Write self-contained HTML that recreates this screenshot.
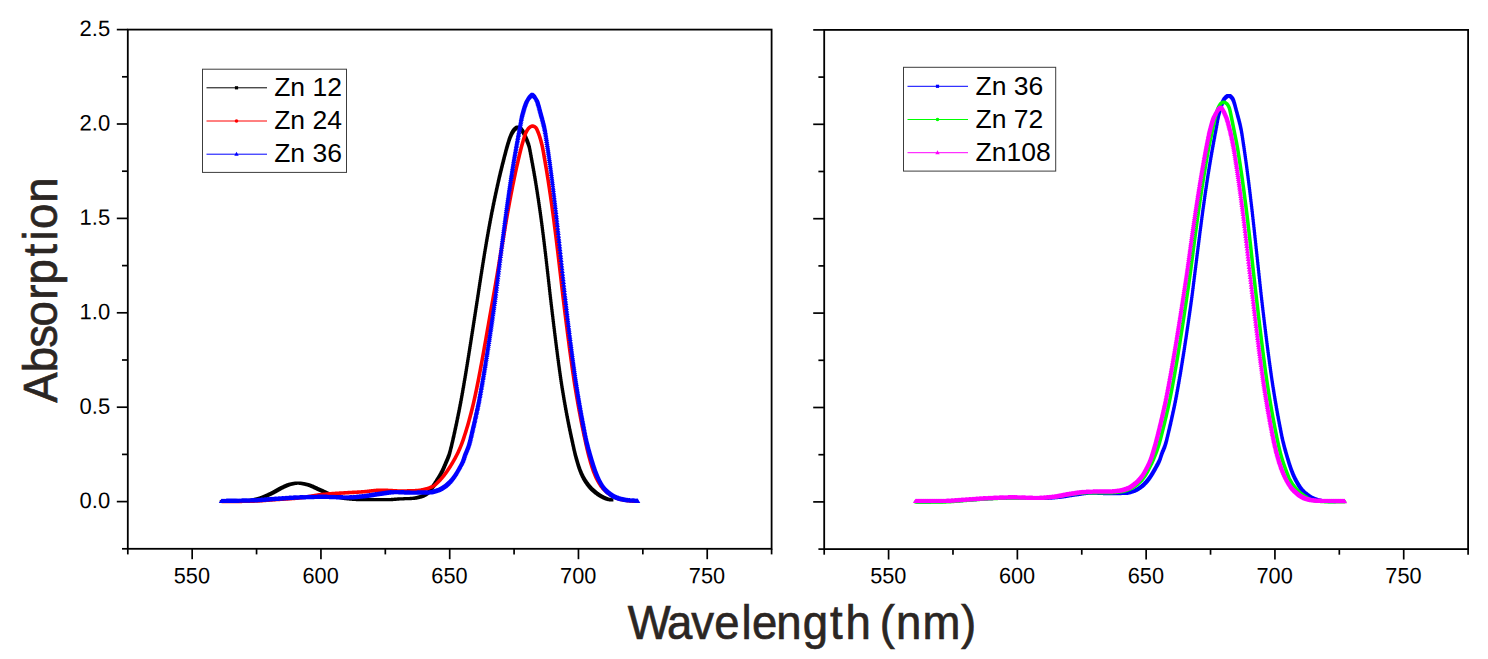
<!DOCTYPE html>
<html>
<head>
<meta charset="utf-8">
<title>Absorption spectra</title>
<style>
html,body{margin:0;padding:0;background:#fff;}
body{width:1488px;height:659px;overflow:hidden;font-family:"Liberation Sans",sans-serif;}
svg{display:block;}
svg text{font-family:"Liberation Sans",sans-serif;}
</style>
</head>
<body>
<svg width="1488" height="659" viewBox="0 0 1488 659">
<rect x="0" y="0" width="1488" height="659" fill="#ffffff"/>
<rect x="127.8" y="29.6" width="643.80" height="519.20" fill="none" stroke="#000" stroke-width="1.8"/>
<line x1="122.00" y1="548.80" x2="127.80" y2="548.80" stroke="#000" stroke-width="1.7"/>
<line x1="116.80" y1="501.60" x2="127.80" y2="501.60" stroke="#000" stroke-width="1.7"/>
<text transform="translate(110.20 508.05) rotate(0.03) scale(1 1.01)" font-size="22" text-anchor="end">0.0</text>
<line x1="122.00" y1="454.40" x2="127.80" y2="454.40" stroke="#000" stroke-width="1.7"/>
<line x1="116.80" y1="407.20" x2="127.80" y2="407.20" stroke="#000" stroke-width="1.7"/>
<text transform="translate(110.20 413.65) rotate(0.03) scale(1 1.01)" font-size="22" text-anchor="end">0.5</text>
<line x1="122.00" y1="360.00" x2="127.80" y2="360.00" stroke="#000" stroke-width="1.7"/>
<line x1="116.80" y1="312.80" x2="127.80" y2="312.80" stroke="#000" stroke-width="1.7"/>
<text transform="translate(110.20 319.25) rotate(0.03) scale(1 1.01)" font-size="22" text-anchor="end">1.0</text>
<line x1="122.00" y1="265.60" x2="127.80" y2="265.60" stroke="#000" stroke-width="1.7"/>
<line x1="116.80" y1="218.40" x2="127.80" y2="218.40" stroke="#000" stroke-width="1.7"/>
<text transform="translate(110.20 224.85) rotate(0.03) scale(1 1.01)" font-size="22" text-anchor="end">1.5</text>
<line x1="122.00" y1="171.20" x2="127.80" y2="171.20" stroke="#000" stroke-width="1.7"/>
<line x1="116.80" y1="124.00" x2="127.80" y2="124.00" stroke="#000" stroke-width="1.7"/>
<text transform="translate(110.20 130.45) rotate(0.03) scale(1 1.01)" font-size="22" text-anchor="end">2.0</text>
<line x1="122.00" y1="76.80" x2="127.80" y2="76.80" stroke="#000" stroke-width="1.7"/>
<line x1="116.80" y1="29.60" x2="127.80" y2="29.60" stroke="#000" stroke-width="1.7"/>
<text transform="translate(110.20 36.05) rotate(0.03) scale(1 1.01)" font-size="22" text-anchor="end">2.5</text>
<line x1="127.80" y1="548.80" x2="127.80" y2="554.40" stroke="#000" stroke-width="1.7"/>
<line x1="192.18" y1="548.80" x2="192.18" y2="559.20" stroke="#000" stroke-width="1.7"/>
<text transform="translate(191.88 583.15) rotate(0.03) scale(0.986 1.01)" font-size="22" text-anchor="middle">550</text>
<line x1="256.56" y1="548.80" x2="256.56" y2="554.40" stroke="#000" stroke-width="1.7"/>
<line x1="320.94" y1="548.80" x2="320.94" y2="559.20" stroke="#000" stroke-width="1.7"/>
<text transform="translate(320.64 583.15) rotate(0.03) scale(0.986 1.01)" font-size="22" text-anchor="middle">600</text>
<line x1="385.32" y1="548.80" x2="385.32" y2="554.40" stroke="#000" stroke-width="1.7"/>
<line x1="449.70" y1="548.80" x2="449.70" y2="559.20" stroke="#000" stroke-width="1.7"/>
<text transform="translate(449.40 583.15) rotate(0.03) scale(0.986 1.01)" font-size="22" text-anchor="middle">650</text>
<line x1="514.08" y1="548.80" x2="514.08" y2="554.40" stroke="#000" stroke-width="1.7"/>
<line x1="578.46" y1="548.80" x2="578.46" y2="559.20" stroke="#000" stroke-width="1.7"/>
<text transform="translate(578.16 583.15) rotate(0.03) scale(0.986 1.01)" font-size="22" text-anchor="middle">700</text>
<line x1="642.84" y1="548.80" x2="642.84" y2="554.40" stroke="#000" stroke-width="1.7"/>
<line x1="707.22" y1="548.80" x2="707.22" y2="559.20" stroke="#000" stroke-width="1.7"/>
<text transform="translate(706.92 583.15) rotate(0.03) scale(0.986 1.01)" font-size="22" text-anchor="middle">750</text>
<line x1="771.60" y1="548.80" x2="771.60" y2="554.40" stroke="#000" stroke-width="1.7"/>
<rect x="824.2" y="29.9" width="643.90" height="519.20" fill="none" stroke="#000" stroke-width="1.8"/>
<line x1="818.40" y1="549.10" x2="824.20" y2="549.10" stroke="#000" stroke-width="1.7"/>
<line x1="813.20" y1="501.90" x2="824.20" y2="501.90" stroke="#000" stroke-width="1.7"/>
<line x1="818.40" y1="454.70" x2="824.20" y2="454.70" stroke="#000" stroke-width="1.7"/>
<line x1="813.20" y1="407.50" x2="824.20" y2="407.50" stroke="#000" stroke-width="1.7"/>
<line x1="818.40" y1="360.30" x2="824.20" y2="360.30" stroke="#000" stroke-width="1.7"/>
<line x1="813.20" y1="313.10" x2="824.20" y2="313.10" stroke="#000" stroke-width="1.7"/>
<line x1="818.40" y1="265.90" x2="824.20" y2="265.90" stroke="#000" stroke-width="1.7"/>
<line x1="813.20" y1="218.70" x2="824.20" y2="218.70" stroke="#000" stroke-width="1.7"/>
<line x1="818.40" y1="171.50" x2="824.20" y2="171.50" stroke="#000" stroke-width="1.7"/>
<line x1="813.20" y1="124.30" x2="824.20" y2="124.30" stroke="#000" stroke-width="1.7"/>
<line x1="818.40" y1="77.10" x2="824.20" y2="77.10" stroke="#000" stroke-width="1.7"/>
<line x1="813.20" y1="29.90" x2="824.20" y2="29.90" stroke="#000" stroke-width="1.7"/>
<line x1="824.20" y1="549.10" x2="824.20" y2="554.70" stroke="#000" stroke-width="1.7"/>
<line x1="888.59" y1="549.10" x2="888.59" y2="559.50" stroke="#000" stroke-width="1.7"/>
<text transform="translate(888.29 583.15) rotate(0.03) scale(0.986 1.01)" font-size="22" text-anchor="middle">550</text>
<line x1="952.98" y1="549.10" x2="952.98" y2="554.70" stroke="#000" stroke-width="1.7"/>
<line x1="1017.37" y1="549.10" x2="1017.37" y2="559.50" stroke="#000" stroke-width="1.7"/>
<text transform="translate(1017.07 583.15) rotate(0.03) scale(0.986 1.01)" font-size="22" text-anchor="middle">600</text>
<line x1="1081.76" y1="549.10" x2="1081.76" y2="554.70" stroke="#000" stroke-width="1.7"/>
<line x1="1146.15" y1="549.10" x2="1146.15" y2="559.50" stroke="#000" stroke-width="1.7"/>
<text transform="translate(1145.85 583.15) rotate(0.03) scale(0.986 1.01)" font-size="22" text-anchor="middle">650</text>
<line x1="1210.54" y1="549.10" x2="1210.54" y2="554.70" stroke="#000" stroke-width="1.7"/>
<line x1="1274.93" y1="549.10" x2="1274.93" y2="559.50" stroke="#000" stroke-width="1.7"/>
<text transform="translate(1274.63 583.15) rotate(0.03) scale(0.986 1.01)" font-size="22" text-anchor="middle">700</text>
<line x1="1339.32" y1="549.10" x2="1339.32" y2="554.70" stroke="#000" stroke-width="1.7"/>
<line x1="1403.71" y1="549.10" x2="1403.71" y2="559.50" stroke="#000" stroke-width="1.7"/>
<text transform="translate(1403.41 583.15) rotate(0.03) scale(0.986 1.01)" font-size="22" text-anchor="middle">750</text>
<line x1="1468.10" y1="549.10" x2="1468.10" y2="554.70" stroke="#000" stroke-width="1.7"/>
<path d="M219.80 499.90h3.20v3.20h-3.20zM220.09 499.90h3.20v3.20h-3.20zM220.38 499.90h3.20v3.20h-3.20zM220.67 499.90h3.20v3.20h-3.20zM220.96 499.90h3.20v3.20h-3.20zM221.25 499.90h3.20v3.20h-3.20zM221.54 499.90h3.20v3.20h-3.20zM221.83 499.90h3.20v3.20h-3.20zM222.12 499.89h3.20v3.20h-3.20zM222.41 499.89h3.20v3.20h-3.20zM222.70 499.89h3.20v3.20h-3.20zM222.99 499.89h3.20v3.20h-3.20zM223.28 499.89h3.20v3.20h-3.20zM223.57 499.89h3.20v3.20h-3.20zM223.86 499.88h3.20v3.20h-3.20zM224.15 499.88h3.20v3.20h-3.20zM224.44 499.88h3.20v3.20h-3.20zM224.73 499.88h3.20v3.20h-3.20zM225.02 499.87h3.20v3.20h-3.20zM225.31 499.87h3.20v3.20h-3.20zM225.60 499.87h3.20v3.20h-3.20zM225.89 499.86h3.20v3.20h-3.20zM226.18 499.86h3.20v3.20h-3.20zM226.47 499.86h3.20v3.20h-3.20zM226.76 499.85h3.20v3.20h-3.20zM227.05 499.85h3.20v3.20h-3.20zM227.34 499.85h3.20v3.20h-3.20zM227.63 499.84h3.20v3.20h-3.20zM227.92 499.84h3.20v3.20h-3.20zM228.21 499.83h3.20v3.20h-3.20zM228.50 499.83h3.20v3.20h-3.20zM228.79 499.82h3.20v3.20h-3.20zM229.08 499.82h3.20v3.20h-3.20zM229.37 499.81h3.20v3.20h-3.20zM229.66 499.81h3.20v3.20h-3.20zM229.95 499.80h3.20v3.20h-3.20zM230.24 499.80h3.20v3.20h-3.20zM230.53 499.79h3.20v3.20h-3.20zM230.82 499.79h3.20v3.20h-3.20zM231.11 499.78h3.20v3.20h-3.20zM231.40 499.77h3.20v3.20h-3.20zM231.69 499.77h3.20v3.20h-3.20zM231.98 499.76h3.20v3.20h-3.20zM232.27 499.75h3.20v3.20h-3.20zM232.56 499.75h3.20v3.20h-3.20zM232.85 499.74h3.20v3.20h-3.20zM233.14 499.73h3.20v3.20h-3.20zM233.43 499.73h3.20v3.20h-3.20zM233.72 499.72h3.20v3.20h-3.20zM234.01 499.71h3.20v3.20h-3.20zM234.30 499.71h3.20v3.20h-3.20zM234.59 499.70h3.20v3.20h-3.20zM234.88 499.69h3.20v3.20h-3.20zM235.17 499.68h3.20v3.20h-3.20zM235.46 499.67h3.20v3.20h-3.20zM235.75 499.67h3.20v3.20h-3.20zM236.04 499.66h3.20v3.20h-3.20zM236.33 499.65h3.20v3.20h-3.20zM236.62 499.64h3.20v3.20h-3.20zM236.91 499.63h3.20v3.20h-3.20zM237.20 499.62h3.20v3.20h-3.20zM237.49 499.61h3.20v3.20h-3.20zM237.78 499.60h3.20v3.20h-3.20zM238.07 499.59h3.20v3.20h-3.20zM238.36 499.59h3.20v3.20h-3.20zM238.65 499.58h3.20v3.20h-3.20zM238.94 499.57h3.20v3.20h-3.20zM239.23 499.56h3.20v3.20h-3.20zM239.52 499.55h3.20v3.20h-3.20zM239.81 499.54h3.20v3.20h-3.20zM240.10 499.53h3.20v3.20h-3.20zM240.39 499.52h3.20v3.20h-3.20zM240.68 499.50h3.20v3.20h-3.20zM240.97 499.49h3.20v3.20h-3.20zM241.26 499.48h3.20v3.20h-3.20zM241.55 499.47h3.20v3.20h-3.20zM241.84 499.46h3.20v3.20h-3.20zM242.13 499.45h3.20v3.20h-3.20zM242.42 499.44h3.20v3.20h-3.20zM242.71 499.43h3.20v3.20h-3.20zM243.00 499.42h3.20v3.20h-3.20zM243.29 499.40h3.20v3.20h-3.20zM243.58 499.39h3.20v3.20h-3.20zM243.87 499.38h3.20v3.20h-3.20zM244.16 499.36h3.20v3.20h-3.20zM244.45 499.34h3.20v3.20h-3.20zM244.74 499.32h3.20v3.20h-3.20zM245.03 499.30h3.20v3.20h-3.20zM245.32 499.27h3.20v3.20h-3.20zM245.61 499.24h3.20v3.20h-3.20zM245.90 499.21h3.20v3.20h-3.20zM246.19 499.18h3.20v3.20h-3.20zM246.48 499.15h3.20v3.20h-3.20zM246.77 499.11h3.20v3.20h-3.20zM247.06 499.08h3.20v3.20h-3.20zM247.35 499.04h3.20v3.20h-3.20zM247.64 499.00h3.20v3.20h-3.20zM247.93 498.95h3.20v3.20h-3.20zM248.22 498.91h3.20v3.20h-3.20zM248.51 498.86h3.20v3.20h-3.20zM248.80 498.82h3.20v3.20h-3.20zM249.09 498.77h3.20v3.20h-3.20zM249.38 498.72h3.20v3.20h-3.20zM249.67 498.67h3.20v3.20h-3.20zM249.96 498.61h3.20v3.20h-3.20zM250.25 498.56h3.20v3.20h-3.20zM250.54 498.50h3.20v3.20h-3.20zM250.83 498.45h3.20v3.20h-3.20zM251.12 498.39h3.20v3.20h-3.20zM251.41 498.33h3.20v3.20h-3.20zM251.70 498.27h3.20v3.20h-3.20zM251.99 498.21h3.20v3.20h-3.20zM252.28 498.15h3.20v3.20h-3.20zM252.57 498.08h3.20v3.20h-3.20zM252.86 498.02h3.20v3.20h-3.20zM253.15 497.96h3.20v3.20h-3.20zM253.44 497.89h3.20v3.20h-3.20zM253.73 497.83h3.20v3.20h-3.20zM254.02 497.76h3.20v3.20h-3.20zM254.31 497.69h3.20v3.20h-3.20zM254.60 497.62h3.20v3.20h-3.20zM254.89 497.56h3.20v3.20h-3.20zM255.18 497.49h3.20v3.20h-3.20zM255.47 497.42h3.20v3.20h-3.20zM255.76 497.35h3.20v3.20h-3.20zM256.05 497.28h3.20v3.20h-3.20zM256.34 497.21h3.20v3.20h-3.20zM256.63 497.14h3.20v3.20h-3.20zM256.92 497.07h3.20v3.20h-3.20zM257.21 497.00h3.20v3.20h-3.20zM257.50 496.92h3.20v3.20h-3.20zM257.79 496.84h3.20v3.20h-3.20zM258.08 496.76h3.20v3.20h-3.20zM258.37 496.67h3.20v3.20h-3.20zM258.66 496.58h3.20v3.20h-3.20zM258.95 496.49h3.20v3.20h-3.20zM259.24 496.40h3.20v3.20h-3.20zM259.53 496.30h3.20v3.20h-3.20zM259.82 496.20h3.20v3.20h-3.20zM260.11 496.10h3.20v3.20h-3.20zM260.40 495.99h3.20v3.20h-3.20zM260.69 495.89h3.20v3.20h-3.20zM260.98 495.78h3.20v3.20h-3.20zM261.27 495.67h3.20v3.20h-3.20zM261.56 495.55h3.20v3.20h-3.20zM261.85 495.44h3.20v3.20h-3.20zM262.14 495.32h3.20v3.20h-3.20zM262.43 495.20h3.20v3.20h-3.20zM262.72 495.08h3.20v3.20h-3.20zM263.01 494.96h3.20v3.20h-3.20zM263.30 494.84h3.20v3.20h-3.20zM263.59 494.71h3.20v3.20h-3.20zM263.88 494.58h3.20v3.20h-3.20zM264.17 494.46h3.20v3.20h-3.20zM264.46 494.33h3.20v3.20h-3.20zM264.75 494.20h3.20v3.20h-3.20zM265.04 494.07h3.20v3.20h-3.20zM265.33 493.93h3.20v3.20h-3.20zM265.62 493.80h3.20v3.20h-3.20zM265.91 493.67h3.20v3.20h-3.20zM266.20 493.53h3.20v3.20h-3.20zM266.49 493.40h3.20v3.20h-3.20zM266.78 493.26h3.20v3.20h-3.20zM267.07 493.13h3.20v3.20h-3.20zM267.36 492.99h3.20v3.20h-3.20zM267.65 492.86h3.20v3.20h-3.20zM267.94 492.72h3.20v3.20h-3.20zM268.23 492.59h3.20v3.20h-3.20zM268.52 492.45h3.20v3.20h-3.20zM268.81 492.31h3.20v3.20h-3.20zM269.10 492.18h3.20v3.20h-3.20zM269.39 492.04h3.20v3.20h-3.20zM269.68 491.91h3.20v3.20h-3.20zM269.97 491.77h3.20v3.20h-3.20zM270.26 491.63h3.20v3.20h-3.20zM270.55 491.49h3.20v3.20h-3.20zM270.84 491.35h3.20v3.20h-3.20zM271.13 491.20h3.20v3.20h-3.20zM271.42 491.05h3.20v3.20h-3.20zM271.71 490.89h3.20v3.20h-3.20zM272.00 490.74h3.20v3.20h-3.20zM272.29 490.58h3.20v3.20h-3.20zM272.58 490.42h3.20v3.20h-3.20zM272.87 490.26h3.20v3.20h-3.20zM273.16 490.10h3.20v3.20h-3.20zM273.45 489.93h3.20v3.20h-3.20zM273.74 489.77h3.20v3.20h-3.20zM274.03 489.60h3.20v3.20h-3.20zM274.32 489.44h3.20v3.20h-3.20zM274.61 489.27h3.20v3.20h-3.20zM274.90 489.10h3.20v3.20h-3.20zM275.19 488.93h3.20v3.20h-3.20zM275.48 488.76h3.20v3.20h-3.20zM275.77 488.60h3.20v3.20h-3.20zM276.06 488.43h3.20v3.20h-3.20zM276.35 488.26h3.20v3.20h-3.20zM276.64 488.09h3.20v3.20h-3.20zM276.93 487.93h3.20v3.20h-3.20zM277.22 487.76h3.20v3.20h-3.20zM277.51 487.60h3.20v3.20h-3.20zM277.80 487.44h3.20v3.20h-3.20zM278.09 487.28h3.20v3.20h-3.20zM278.38 487.12h3.20v3.20h-3.20zM278.67 486.96h3.20v3.20h-3.20zM278.96 486.81h3.20v3.20h-3.20zM279.25 486.66h3.20v3.20h-3.20zM279.54 486.51h3.20v3.20h-3.20zM279.83 486.36h3.20v3.20h-3.20zM280.12 486.22h3.20v3.20h-3.20zM280.41 486.08h3.20v3.20h-3.20zM280.70 485.94h3.20v3.20h-3.20zM280.99 485.80h3.20v3.20h-3.20zM281.28 485.67h3.20v3.20h-3.20zM281.57 485.54h3.20v3.20h-3.20zM281.86 485.40h3.20v3.20h-3.20zM282.15 485.27h3.20v3.20h-3.20zM282.44 485.13h3.20v3.20h-3.20zM282.73 485.00h3.20v3.20h-3.20zM283.02 484.86h3.20v3.20h-3.20zM283.31 484.72h3.20v3.20h-3.20zM283.60 484.59h3.20v3.20h-3.20zM283.89 484.46h3.20v3.20h-3.20zM284.18 484.32h3.20v3.20h-3.20zM284.47 484.19h3.20v3.20h-3.20zM284.76 484.07h3.20v3.20h-3.20zM285.05 483.94h3.20v3.20h-3.20zM285.34 483.82h3.20v3.20h-3.20zM285.63 483.70h3.20v3.20h-3.20zM285.92 483.58h3.20v3.20h-3.20zM286.21 483.46h3.20v3.20h-3.20zM286.50 483.35h3.20v3.20h-3.20zM286.79 483.25h3.20v3.20h-3.20zM287.08 483.15h3.20v3.20h-3.20zM287.37 483.05h3.20v3.20h-3.20zM287.66 482.96h3.20v3.20h-3.20zM287.95 482.87h3.20v3.20h-3.20zM288.24 482.79h3.20v3.20h-3.20zM288.53 482.71h3.20v3.20h-3.20zM288.82 482.64h3.20v3.20h-3.20zM289.11 482.58h3.20v3.20h-3.20zM289.40 482.51h3.20v3.20h-3.20zM289.69 482.45h3.20v3.20h-3.20zM289.98 482.39h3.20v3.20h-3.20zM290.27 482.32h3.20v3.20h-3.20zM290.56 482.26h3.20v3.20h-3.20zM290.85 482.20h3.20v3.20h-3.20zM291.14 482.14h3.20v3.20h-3.20zM291.43 482.08h3.20v3.20h-3.20zM291.72 482.02h3.20v3.20h-3.20zM292.01 481.97h3.20v3.20h-3.20zM292.30 481.91h3.20v3.20h-3.20zM292.59 481.86h3.20v3.20h-3.20zM292.88 481.81h3.20v3.20h-3.20zM293.17 481.77h3.20v3.20h-3.20zM293.46 481.72h3.20v3.20h-3.20zM293.75 481.68h3.20v3.20h-3.20zM294.04 481.65h3.20v3.20h-3.20zM294.33 481.61h3.20v3.20h-3.20zM294.62 481.58h3.20v3.20h-3.20zM294.91 481.56h3.20v3.20h-3.20zM295.20 481.54h3.20v3.20h-3.20zM295.49 481.52h3.20v3.20h-3.20zM295.78 481.51h3.20v3.20h-3.20zM296.07 481.50h3.20v3.20h-3.20zM296.36 481.50h3.20v3.20h-3.20zM296.65 481.50h3.20v3.20h-3.20zM296.94 481.51h3.20v3.20h-3.20zM297.23 481.52h3.20v3.20h-3.20zM297.52 481.54h3.20v3.20h-3.20zM297.81 481.56h3.20v3.20h-3.20zM298.10 481.58h3.20v3.20h-3.20zM298.39 481.61h3.20v3.20h-3.20zM298.68 481.64h3.20v3.20h-3.20zM298.97 481.68h3.20v3.20h-3.20zM299.26 481.72h3.20v3.20h-3.20zM299.55 481.76h3.20v3.20h-3.20zM299.84 481.80h3.20v3.20h-3.20zM300.13 481.85h3.20v3.20h-3.20zM300.42 481.90h3.20v3.20h-3.20zM300.71 481.95h3.20v3.20h-3.20zM301.00 482.00h3.20v3.20h-3.20zM301.29 482.05h3.20v3.20h-3.20zM301.58 482.11h3.20v3.20h-3.20zM301.87 482.17h3.20v3.20h-3.20zM302.16 482.23h3.20v3.20h-3.20zM302.45 482.29h3.20v3.20h-3.20zM302.74 482.35h3.20v3.20h-3.20zM303.03 482.42h3.20v3.20h-3.20zM303.32 482.48h3.20v3.20h-3.20zM303.61 482.54h3.20v3.20h-3.20zM303.90 482.61h3.20v3.20h-3.20zM304.19 482.67h3.20v3.20h-3.20zM304.48 482.74h3.20v3.20h-3.20zM304.77 482.80h3.20v3.20h-3.20zM305.06 482.87h3.20v3.20h-3.20zM305.35 482.93h3.20v3.20h-3.20zM305.64 483.00h3.20v3.20h-3.20zM305.93 483.08h3.20v3.20h-3.20zM306.22 483.15h3.20v3.20h-3.20zM306.51 483.24h3.20v3.20h-3.20zM306.80 483.32h3.20v3.20h-3.20zM307.09 483.41h3.20v3.20h-3.20zM307.38 483.51h3.20v3.20h-3.20zM307.67 483.60h3.20v3.20h-3.20zM307.96 483.71h3.20v3.20h-3.20zM308.25 483.81h3.20v3.20h-3.20zM308.54 483.92h3.20v3.20h-3.20zM308.83 484.03h3.20v3.20h-3.20zM309.12 484.14h3.20v3.20h-3.20zM309.41 484.26h3.20v3.20h-3.20zM309.70 484.38h3.20v3.20h-3.20zM309.99 484.50h3.20v3.20h-3.20zM310.28 484.62h3.20v3.20h-3.20zM310.57 484.74h3.20v3.20h-3.20zM310.86 484.87h3.20v3.20h-3.20zM311.15 485.00h3.20v3.20h-3.20zM311.44 485.13h3.20v3.20h-3.20zM311.73 485.26h3.20v3.20h-3.20zM312.02 485.40h3.20v3.20h-3.20zM312.31 485.53h3.20v3.20h-3.20zM312.60 485.67h3.20v3.20h-3.20zM312.89 485.80h3.20v3.20h-3.20zM313.18 485.94h3.20v3.20h-3.20zM313.47 486.07h3.20v3.20h-3.20zM313.76 486.21h3.20v3.20h-3.20zM314.05 486.35h3.20v3.20h-3.20zM314.34 486.49h3.20v3.20h-3.20zM314.63 486.62h3.20v3.20h-3.20zM314.92 486.76h3.20v3.20h-3.20zM315.21 486.90h3.20v3.20h-3.20zM315.50 487.03h3.20v3.20h-3.20zM315.79 487.17h3.20v3.20h-3.20zM316.08 487.30h3.20v3.20h-3.20zM316.37 487.44h3.20v3.20h-3.20zM316.66 487.57h3.20v3.20h-3.20zM316.95 487.70h3.20v3.20h-3.20zM317.24 487.83h3.20v3.20h-3.20zM317.53 487.96h3.20v3.20h-3.20zM317.82 488.08h3.20v3.20h-3.20zM318.11 488.20h3.20v3.20h-3.20zM318.40 488.33h3.20v3.20h-3.20zM318.69 488.45h3.20v3.20h-3.20zM318.98 488.58h3.20v3.20h-3.20zM319.27 488.71h3.20v3.20h-3.20zM319.56 488.84h3.20v3.20h-3.20zM319.85 488.97h3.20v3.20h-3.20zM320.14 489.10h3.20v3.20h-3.20zM320.43 489.24h3.20v3.20h-3.20zM320.72 489.37h3.20v3.20h-3.20zM321.01 489.51h3.20v3.20h-3.20zM321.30 489.64h3.20v3.20h-3.20zM321.59 489.78h3.20v3.20h-3.20zM321.88 489.91h3.20v3.20h-3.20zM322.17 490.05h3.20v3.20h-3.20zM322.46 490.19h3.20v3.20h-3.20zM322.75 490.32h3.20v3.20h-3.20zM323.04 490.46h3.20v3.20h-3.20zM323.33 490.60h3.20v3.20h-3.20zM323.62 490.73h3.20v3.20h-3.20zM323.91 490.87h3.20v3.20h-3.20zM324.20 491.00h3.20v3.20h-3.20zM324.49 491.13h3.20v3.20h-3.20zM324.78 491.27h3.20v3.20h-3.20zM325.07 491.40h3.20v3.20h-3.20zM325.36 491.53h3.20v3.20h-3.20zM325.65 491.65h3.20v3.20h-3.20zM325.94 491.78h3.20v3.20h-3.20zM326.23 491.90h3.20v3.20h-3.20zM326.52 492.03h3.20v3.20h-3.20zM326.81 492.14h3.20v3.20h-3.20zM327.10 492.26h3.20v3.20h-3.20zM327.39 492.38h3.20v3.20h-3.20zM327.68 492.49h3.20v3.20h-3.20zM327.97 492.60h3.20v3.20h-3.20zM328.26 492.71h3.20v3.20h-3.20zM328.55 492.81h3.20v3.20h-3.20zM328.84 492.91h3.20v3.20h-3.20zM329.13 493.01h3.20v3.20h-3.20zM329.42 493.11h3.20v3.20h-3.20zM329.71 493.20h3.20v3.20h-3.20zM330.00 493.29h3.20v3.20h-3.20zM330.29 493.39h3.20v3.20h-3.20zM330.58 493.48h3.20v3.20h-3.20zM330.87 493.57h3.20v3.20h-3.20zM331.16 493.66h3.20v3.20h-3.20zM331.45 493.76h3.20v3.20h-3.20zM331.74 493.85h3.20v3.20h-3.20zM332.03 493.94h3.20v3.20h-3.20zM332.32 494.03h3.20v3.20h-3.20zM332.61 494.12h3.20v3.20h-3.20zM332.90 494.21h3.20v3.20h-3.20zM333.19 494.30h3.20v3.20h-3.20zM333.48 494.39h3.20v3.20h-3.20zM333.77 494.48h3.20v3.20h-3.20zM334.06 494.57h3.20v3.20h-3.20zM334.35 494.66h3.20v3.20h-3.20zM334.64 494.75h3.20v3.20h-3.20zM334.93 494.83h3.20v3.20h-3.20zM335.22 494.92h3.20v3.20h-3.20zM335.51 495.00h3.20v3.20h-3.20zM335.80 495.09h3.20v3.20h-3.20zM336.09 495.17h3.20v3.20h-3.20zM336.38 495.25h3.20v3.20h-3.20zM336.67 495.33h3.20v3.20h-3.20zM336.96 495.41h3.20v3.20h-3.20zM337.25 495.49h3.20v3.20h-3.20zM337.54 495.57h3.20v3.20h-3.20zM337.83 495.65h3.20v3.20h-3.20zM338.12 495.72h3.20v3.20h-3.20zM338.41 495.80h3.20v3.20h-3.20zM338.70 495.87h3.20v3.20h-3.20zM338.99 495.94h3.20v3.20h-3.20zM339.28 496.01h3.20v3.20h-3.20zM339.57 496.08h3.20v3.20h-3.20zM339.86 496.15h3.20v3.20h-3.20zM340.15 496.21h3.20v3.20h-3.20zM340.44 496.28h3.20v3.20h-3.20zM340.73 496.34h3.20v3.20h-3.20zM341.02 496.40h3.20v3.20h-3.20zM341.31 496.46h3.20v3.20h-3.20zM341.60 496.52h3.20v3.20h-3.20zM341.89 496.57h3.20v3.20h-3.20zM342.18 496.63h3.20v3.20h-3.20zM342.47 496.68h3.20v3.20h-3.20zM342.76 496.73h3.20v3.20h-3.20zM343.05 496.78h3.20v3.20h-3.20zM343.34 496.82h3.20v3.20h-3.20zM343.63 496.87h3.20v3.20h-3.20zM343.92 496.91h3.20v3.20h-3.20zM344.21 496.95h3.20v3.20h-3.20zM344.50 496.99h3.20v3.20h-3.20zM344.79 497.02h3.20v3.20h-3.20zM345.08 497.06h3.20v3.20h-3.20zM345.37 497.09h3.20v3.20h-3.20zM345.66 497.12h3.20v3.20h-3.20zM345.95 497.14h3.20v3.20h-3.20zM346.24 497.17h3.20v3.20h-3.20zM346.53 497.20h3.20v3.20h-3.20zM346.82 497.23h3.20v3.20h-3.20zM347.11 497.26h3.20v3.20h-3.20zM347.40 497.29h3.20v3.20h-3.20zM347.69 497.31h3.20v3.20h-3.20zM347.98 497.34h3.20v3.20h-3.20zM348.27 497.37h3.20v3.20h-3.20zM348.56 497.39h3.20v3.20h-3.20zM348.85 497.42h3.20v3.20h-3.20zM349.14 497.45h3.20v3.20h-3.20zM349.43 497.47h3.20v3.20h-3.20zM349.72 497.50h3.20v3.20h-3.20zM350.01 497.52h3.20v3.20h-3.20zM350.30 497.55h3.20v3.20h-3.20zM350.59 497.57h3.20v3.20h-3.20zM350.88 497.60h3.20v3.20h-3.20zM351.17 497.62h3.20v3.20h-3.20zM351.46 497.64h3.20v3.20h-3.20zM351.75 497.67h3.20v3.20h-3.20zM352.04 497.69h3.20v3.20h-3.20zM352.33 497.71h3.20v3.20h-3.20zM352.62 497.73h3.20v3.20h-3.20zM352.91 497.76h3.20v3.20h-3.20zM353.20 497.78h3.20v3.20h-3.20zM353.49 497.80h3.20v3.20h-3.20zM353.78 497.82h3.20v3.20h-3.20zM354.07 497.83h3.20v3.20h-3.20zM354.36 497.85h3.20v3.20h-3.20zM354.65 497.87h3.20v3.20h-3.20zM354.94 497.89h3.20v3.20h-3.20zM355.23 497.91h3.20v3.20h-3.20zM355.52 497.92h3.20v3.20h-3.20zM355.81 497.94h3.20v3.20h-3.20zM356.10 497.95h3.20v3.20h-3.20zM356.39 497.97h3.20v3.20h-3.20zM356.68 497.98h3.20v3.20h-3.20zM356.97 497.99h3.20v3.20h-3.20zM357.26 498.01h3.20v3.20h-3.20zM357.55 498.02h3.20v3.20h-3.20zM357.84 498.03h3.20v3.20h-3.20zM358.13 498.04h3.20v3.20h-3.20zM358.42 498.05h3.20v3.20h-3.20zM358.71 498.06h3.20v3.20h-3.20zM359.00 498.07h3.20v3.20h-3.20zM359.29 498.07h3.20v3.20h-3.20zM359.58 498.08h3.20v3.20h-3.20zM359.87 498.08h3.20v3.20h-3.20zM360.16 498.09h3.20v3.20h-3.20zM360.45 498.09h3.20v3.20h-3.20zM360.74 498.10h3.20v3.20h-3.20zM361.03 498.10h3.20v3.20h-3.20zM361.32 498.10h3.20v3.20h-3.20zM361.61 498.10h3.20v3.20h-3.20zM361.90 498.10h3.20v3.20h-3.20zM362.19 498.10h3.20v3.20h-3.20zM362.48 498.10h3.20v3.20h-3.20zM362.77 498.10h3.20v3.20h-3.20zM363.06 498.10h3.20v3.20h-3.20zM363.35 498.10h3.20v3.20h-3.20zM363.64 498.10h3.20v3.20h-3.20zM363.93 498.10h3.20v3.20h-3.20zM364.22 498.10h3.20v3.20h-3.20zM364.51 498.10h3.20v3.20h-3.20zM364.80 498.10h3.20v3.20h-3.20zM365.09 498.10h3.20v3.20h-3.20zM365.38 498.10h3.20v3.20h-3.20zM365.67 498.10h3.20v3.20h-3.20zM365.96 498.10h3.20v3.20h-3.20zM366.25 498.10h3.20v3.20h-3.20zM366.54 498.10h3.20v3.20h-3.20zM366.83 498.10h3.20v3.20h-3.20zM367.12 498.10h3.20v3.20h-3.20zM367.41 498.10h3.20v3.20h-3.20zM367.70 498.10h3.20v3.20h-3.20zM367.99 498.10h3.20v3.20h-3.20zM368.28 498.10h3.20v3.20h-3.20zM368.57 498.10h3.20v3.20h-3.20zM368.86 498.10h3.20v3.20h-3.20zM369.15 498.10h3.20v3.20h-3.20zM369.44 498.10h3.20v3.20h-3.20zM369.73 498.10h3.20v3.20h-3.20zM370.02 498.10h3.20v3.20h-3.20zM370.31 498.10h3.20v3.20h-3.20zM370.60 498.10h3.20v3.20h-3.20zM370.89 498.10h3.20v3.20h-3.20zM371.18 498.10h3.20v3.20h-3.20zM371.47 498.10h3.20v3.20h-3.20zM371.76 498.10h3.20v3.20h-3.20zM372.05 498.10h3.20v3.20h-3.20zM372.34 498.10h3.20v3.20h-3.20zM372.63 498.10h3.20v3.20h-3.20zM372.92 498.10h3.20v3.20h-3.20zM373.21 498.10h3.20v3.20h-3.20zM373.50 498.10h3.20v3.20h-3.20zM373.79 498.10h3.20v3.20h-3.20zM374.08 498.10h3.20v3.20h-3.20zM374.37 498.10h3.20v3.20h-3.20zM374.66 498.10h3.20v3.20h-3.20zM374.95 498.10h3.20v3.20h-3.20zM375.24 498.10h3.20v3.20h-3.20zM375.53 498.10h3.20v3.20h-3.20zM375.82 498.10h3.20v3.20h-3.20zM376.11 498.10h3.20v3.20h-3.20zM376.40 498.10h3.20v3.20h-3.20zM376.69 498.10h3.20v3.20h-3.20zM376.98 498.10h3.20v3.20h-3.20zM377.27 498.10h3.20v3.20h-3.20zM377.56 498.10h3.20v3.20h-3.20zM377.85 498.10h3.20v3.20h-3.20zM378.14 498.10h3.20v3.20h-3.20zM378.43 498.10h3.20v3.20h-3.20zM378.72 498.10h3.20v3.20h-3.20zM379.01 498.10h3.20v3.20h-3.20zM379.30 498.10h3.20v3.20h-3.20zM379.59 498.10h3.20v3.20h-3.20zM379.88 498.10h3.20v3.20h-3.20zM380.17 498.10h3.20v3.20h-3.20zM380.46 498.10h3.20v3.20h-3.20zM380.75 498.10h3.20v3.20h-3.20zM381.04 498.10h3.20v3.20h-3.20zM381.33 498.10h3.20v3.20h-3.20zM381.62 498.10h3.20v3.20h-3.20zM381.91 498.10h3.20v3.20h-3.20zM382.20 498.10h3.20v3.20h-3.20zM382.49 498.10h3.20v3.20h-3.20zM382.78 498.10h3.20v3.20h-3.20zM383.07 498.10h3.20v3.20h-3.20zM383.36 498.10h3.20v3.20h-3.20zM383.65 498.10h3.20v3.20h-3.20zM383.94 498.10h3.20v3.20h-3.20zM384.23 498.10h3.20v3.20h-3.20zM384.52 498.10h3.20v3.20h-3.20zM384.81 498.10h3.20v3.20h-3.20zM385.10 498.10h3.20v3.20h-3.20zM385.39 498.10h3.20v3.20h-3.20zM385.68 498.10h3.20v3.20h-3.20zM385.97 498.10h3.20v3.20h-3.20zM386.26 498.10h3.20v3.20h-3.20zM386.55 498.09h3.20v3.20h-3.20zM386.84 498.09h3.20v3.20h-3.20zM387.13 498.08h3.20v3.20h-3.20zM387.42 498.07h3.20v3.20h-3.20zM387.71 498.06h3.20v3.20h-3.20zM388.00 498.05h3.20v3.20h-3.20zM388.29 498.04h3.20v3.20h-3.20zM388.58 498.02h3.20v3.20h-3.20zM388.87 498.01h3.20v3.20h-3.20zM389.16 497.99h3.20v3.20h-3.20zM389.45 497.97h3.20v3.20h-3.20zM389.74 497.96h3.20v3.20h-3.20zM390.03 497.94h3.20v3.20h-3.20zM390.32 497.92h3.20v3.20h-3.20zM390.61 497.89h3.20v3.20h-3.20zM390.90 497.87h3.20v3.20h-3.20zM391.19 497.85h3.20v3.20h-3.20zM391.48 497.83h3.20v3.20h-3.20zM391.77 497.80h3.20v3.20h-3.20zM392.06 497.78h3.20v3.20h-3.20zM392.35 497.76h3.20v3.20h-3.20zM392.64 497.73h3.20v3.20h-3.20zM392.93 497.71h3.20v3.20h-3.20zM393.22 497.68h3.20v3.20h-3.20zM393.51 497.66h3.20v3.20h-3.20zM393.80 497.63h3.20v3.20h-3.20zM394.09 497.61h3.20v3.20h-3.20zM394.38 497.58h3.20v3.20h-3.20zM394.67 497.56h3.20v3.20h-3.20zM394.96 497.54h3.20v3.20h-3.20zM395.25 497.51h3.20v3.20h-3.20zM395.54 497.49h3.20v3.20h-3.20zM395.83 497.47h3.20v3.20h-3.20zM396.12 497.44h3.20v3.20h-3.20zM396.41 497.42h3.20v3.20h-3.20zM396.70 497.40h3.20v3.20h-3.20zM396.99 497.38h3.20v3.20h-3.20zM397.28 497.36h3.20v3.20h-3.20zM397.57 497.35h3.20v3.20h-3.20zM397.86 497.33h3.20v3.20h-3.20zM398.15 497.31h3.20v3.20h-3.20zM398.44 497.30h3.20v3.20h-3.20zM398.73 497.28h3.20v3.20h-3.20zM399.02 497.27h3.20v3.20h-3.20zM399.31 497.26h3.20v3.20h-3.20zM399.60 497.25h3.20v3.20h-3.20zM399.89 497.23h3.20v3.20h-3.20zM400.18 497.22h3.20v3.20h-3.20zM400.47 497.21h3.20v3.20h-3.20zM400.76 497.20h3.20v3.20h-3.20zM401.05 497.19h3.20v3.20h-3.20zM401.34 497.18h3.20v3.20h-3.20zM401.63 497.17h3.20v3.20h-3.20zM401.92 497.16h3.20v3.20h-3.20zM402.21 497.16h3.20v3.20h-3.20zM402.50 497.15h3.20v3.20h-3.20zM402.79 497.14h3.20v3.20h-3.20zM403.08 497.13h3.20v3.20h-3.20zM403.37 497.12h3.20v3.20h-3.20zM403.66 497.11h3.20v3.20h-3.20zM403.95 497.10h3.20v3.20h-3.20zM404.24 497.09h3.20v3.20h-3.20zM404.53 497.09h3.20v3.20h-3.20zM404.82 497.08h3.20v3.20h-3.20zM405.11 497.07h3.20v3.20h-3.20zM405.40 497.06h3.20v3.20h-3.20zM405.69 497.05h3.20v3.20h-3.20zM405.98 497.04h3.20v3.20h-3.20zM406.27 497.03h3.20v3.20h-3.20zM406.56 497.02h3.20v3.20h-3.20zM406.85 497.01h3.20v3.20h-3.20zM407.14 497.00h3.20v3.20h-3.20zM407.43 496.99h3.20v3.20h-3.20zM407.72 496.97h3.20v3.20h-3.20zM408.01 496.96h3.20v3.20h-3.20zM408.30 496.95h3.20v3.20h-3.20zM408.59 496.94h3.20v3.20h-3.20zM408.88 496.92h3.20v3.20h-3.20zM409.17 496.91h3.20v3.20h-3.20zM409.46 496.89h3.20v3.20h-3.20zM409.75 496.87h3.20v3.20h-3.20zM410.04 496.86h3.20v3.20h-3.20zM410.33 496.84h3.20v3.20h-3.20zM410.62 496.82h3.20v3.20h-3.20zM410.91 496.80h3.20v3.20h-3.20zM411.20 496.78h3.20v3.20h-3.20zM411.49 496.75h3.20v3.20h-3.20zM411.78 496.72h3.20v3.20h-3.20zM412.07 496.69h3.20v3.20h-3.20zM412.36 496.66h3.20v3.20h-3.20zM412.65 496.62h3.20v3.20h-3.20zM412.94 496.58h3.20v3.20h-3.20zM413.23 496.53h3.20v3.20h-3.20zM413.52 496.49h3.20v3.20h-3.20zM413.81 496.44h3.20v3.20h-3.20zM414.10 496.39h3.20v3.20h-3.20zM414.39 496.33h3.20v3.20h-3.20zM414.68 496.28h3.20v3.20h-3.20zM414.97 496.22h3.20v3.20h-3.20zM415.26 496.16h3.20v3.20h-3.20zM415.55 496.09h3.20v3.20h-3.20zM415.84 496.03h3.20v3.20h-3.20zM416.13 495.96h3.20v3.20h-3.20zM416.42 495.89h3.20v3.20h-3.20zM416.71 495.82h3.20v3.20h-3.20zM417.00 495.74h3.20v3.20h-3.20zM417.29 495.67h3.20v3.20h-3.20zM417.58 495.59h3.20v3.20h-3.20zM417.87 495.51h3.20v3.20h-3.20zM418.16 495.43h3.20v3.20h-3.20zM418.45 495.35h3.20v3.20h-3.20zM418.74 495.26h3.20v3.20h-3.20zM419.03 495.18h3.20v3.20h-3.20zM419.32 495.09h3.20v3.20h-3.20zM419.61 495.00h3.20v3.20h-3.20zM419.90 494.91h3.20v3.20h-3.20zM420.19 494.81h3.20v3.20h-3.20zM420.48 494.70h3.20v3.20h-3.20zM420.77 494.58h3.20v3.20h-3.20zM421.06 494.46h3.20v3.20h-3.20zM421.35 494.33h3.20v3.20h-3.20zM421.64 494.20h3.20v3.20h-3.20zM421.93 494.06h3.20v3.20h-3.20zM422.22 493.92h3.20v3.20h-3.20zM422.51 493.77h3.20v3.20h-3.20zM422.80 493.61h3.20v3.20h-3.20zM423.09 493.45h3.20v3.20h-3.20zM423.38 493.28h3.20v3.20h-3.20zM423.67 493.11h3.20v3.20h-3.20zM423.96 492.93h3.20v3.20h-3.20zM424.25 492.75h3.20v3.20h-3.20zM424.54 492.56h3.20v3.20h-3.20zM424.83 492.36h3.20v3.20h-3.20zM425.12 492.16h3.20v3.20h-3.20zM425.41 491.96h3.20v3.20h-3.20zM425.70 491.75h3.20v3.20h-3.20zM425.99 491.53h3.20v3.20h-3.20zM426.28 491.30h3.20v3.20h-3.20zM426.57 491.04h3.20v3.20h-3.20zM426.86 490.76h3.20v3.20h-3.20zM427.15 490.46h3.20v3.20h-3.20zM427.44 490.14h3.20v3.20h-3.20zM427.73 489.81h3.20v3.20h-3.20zM428.02 489.46h3.20v3.20h-3.20zM428.31 489.11h3.20v3.20h-3.20zM428.60 488.74h3.20v3.20h-3.20zM428.89 488.36h3.20v3.20h-3.20zM429.18 487.97h3.20v3.20h-3.20zM429.47 487.57h3.20v3.20h-3.20zM429.76 487.17h3.20v3.20h-3.20zM430.05 486.77h3.20v3.20h-3.20zM430.34 486.37h3.20v3.20h-3.20zM430.63 485.96h3.20v3.20h-3.20zM430.92 485.56h3.20v3.20h-3.20zM431.21 485.16h3.20v3.20h-3.20zM431.50 484.76h3.20v3.20h-3.20zM431.79 484.36h3.20v3.20h-3.20zM432.08 483.95h3.20v3.20h-3.20zM432.37 483.53h3.20v3.20h-3.20zM432.66 483.10h3.20v3.20h-3.20zM432.95 482.67h3.20v3.20h-3.20zM433.24 482.23h3.20v3.20h-3.20zM433.53 481.79h3.20v3.20h-3.20zM433.82 481.34h3.20v3.20h-3.20zM434.11 480.88h3.20v3.20h-3.20zM434.40 480.42h3.20v3.20h-3.20zM434.69 479.96h3.20v3.20h-3.20zM434.98 479.49h3.20v3.20h-3.20zM435.27 479.03h3.20v3.20h-3.20zM435.56 478.56h3.20v3.20h-3.20zM435.85 478.09h3.20v3.20h-3.20zM436.14 477.62h3.20v3.20h-3.20zM436.43 477.15h3.20v3.20h-3.20zM436.72 476.67h3.20v3.20h-3.20zM437.01 476.19h3.20v3.20h-3.20zM437.30 475.71h3.20v3.20h-3.20zM437.59 475.22h3.20v3.20h-3.20zM437.88 474.72h3.20v3.20h-3.20zM438.17 474.22h3.20v3.20h-3.20zM438.46 473.72h3.20v3.20h-3.20zM438.75 473.20h3.20v3.20h-3.20zM439.04 472.68h3.20v3.20h-3.20zM439.33 472.15h3.20v3.20h-3.20zM439.62 471.61h3.20v3.20h-3.20zM439.91 471.06h3.20v3.20h-3.20zM440.20 470.49h3.20v3.20h-3.20zM440.49 469.92h3.20v3.20h-3.20zM440.78 469.33h3.20v3.20h-3.20zM441.07 468.72h3.20v3.20h-3.20zM441.36 468.09h3.20v3.20h-3.20zM441.65 467.45h3.20v3.20h-3.20zM441.94 466.79h3.20v3.20h-3.20zM442.23 466.12h3.20v3.20h-3.20zM442.52 465.45h3.20v3.20h-3.20zM442.81 464.76h3.20v3.20h-3.20zM443.10 464.08h3.20v3.20h-3.20zM443.39 463.39h3.20v3.20h-3.20zM443.68 462.70h3.20v3.20h-3.20zM443.97 462.01h3.20v3.20h-3.20zM444.26 461.32h3.20v3.20h-3.20zM444.55 460.65h3.20v3.20h-3.20zM444.84 459.99h3.20v3.20h-3.20zM445.13 459.33h3.20v3.20h-3.20zM445.42 458.67h3.20v3.20h-3.20zM445.71 458.00h3.20v3.20h-3.20zM446.00 457.31h3.20v3.20h-3.20zM446.29 456.60h3.20v3.20h-3.20zM446.58 455.87h3.20v3.20h-3.20zM446.87 455.10h3.20v3.20h-3.20zM447.16 454.30h3.20v3.20h-3.20zM447.45 453.45h3.20v3.20h-3.20zM447.74 452.54h3.20v3.20h-3.20zM448.03 451.55h3.20v3.20h-3.20zM448.32 450.51h3.20v3.20h-3.20zM448.61 449.41h3.20v3.20h-3.20zM448.90 448.27h3.20v3.20h-3.20zM449.19 447.10h3.20v3.20h-3.20zM449.48 445.92h3.20v3.20h-3.20zM449.77 444.73h3.20v3.20h-3.20zM450.06 443.55h3.20v3.20h-3.20zM450.35 442.35h3.20v3.20h-3.20zM450.64 441.13h3.20v3.20h-3.20zM450.93 439.89h3.20v3.20h-3.20zM451.22 438.62h3.20v3.20h-3.20zM451.51 437.35h3.20v3.20h-3.20zM451.80 436.05h3.20v3.20h-3.20zM452.09 434.75h3.20v3.20h-3.20zM452.38 433.44h3.20v3.20h-3.20zM452.67 432.11h3.20v3.20h-3.20zM452.96 430.79h3.20v3.20h-3.20zM453.25 429.46h3.20v3.20h-3.20zM453.54 428.12h3.20v3.20h-3.20zM453.83 426.78h3.20v3.20h-3.20zM454.12 425.43h3.20v3.20h-3.20zM454.41 424.07h3.20v3.20h-3.20zM454.70 422.70h3.20v3.20h-3.20zM454.99 421.32h3.20v3.20h-3.20zM455.28 419.93h3.20v3.20h-3.20zM455.57 418.53h3.20v3.20h-3.20zM455.86 417.12h3.20v3.20h-3.20zM456.15 415.70h3.20v3.20h-3.20zM456.44 414.28h3.20v3.20h-3.20zM456.73 412.84h3.20v3.20h-3.20zM457.02 411.40h3.20v3.20h-3.20zM457.31 409.96h3.20v3.20h-3.20zM457.60 408.51h3.20v3.20h-3.20zM457.89 407.05h3.20v3.20h-3.20zM458.18 405.57h3.20v3.20h-3.20zM458.47 404.08h3.20v3.20h-3.20zM458.76 402.57h3.20v3.20h-3.20zM459.05 401.03h3.20v3.20h-3.20zM459.34 399.47h3.20v3.20h-3.20zM459.63 397.88h3.20v3.20h-3.20zM459.92 396.28h3.20v3.20h-3.20zM460.21 394.66h3.20v3.20h-3.20zM460.50 393.03h3.20v3.20h-3.20zM460.79 391.40h3.20v3.20h-3.20zM461.08 389.75h3.20v3.20h-3.20zM461.37 388.09h3.20v3.20h-3.20zM461.66 386.42h3.20v3.20h-3.20zM461.95 384.74h3.20v3.20h-3.20zM462.24 383.05h3.20v3.20h-3.20zM462.53 381.35h3.20v3.20h-3.20zM462.82 379.64h3.20v3.20h-3.20zM463.11 377.92h3.20v3.20h-3.20zM463.40 376.19h3.20v3.20h-3.20zM463.69 374.46h3.20v3.20h-3.20zM463.98 372.71h3.20v3.20h-3.20zM464.27 370.96h3.20v3.20h-3.20zM464.56 369.20h3.20v3.20h-3.20zM464.85 367.44h3.20v3.20h-3.20zM465.14 365.66h3.20v3.20h-3.20zM465.43 363.88h3.20v3.20h-3.20zM465.72 362.09h3.20v3.20h-3.20zM466.01 360.30h3.20v3.20h-3.20zM466.30 358.50h3.20v3.20h-3.20zM466.59 356.69h3.20v3.20h-3.20zM466.88 354.88h3.20v3.20h-3.20zM467.17 353.06h3.20v3.20h-3.20zM467.46 351.24h3.20v3.20h-3.20zM467.75 349.41h3.20v3.20h-3.20zM468.04 347.57h3.20v3.20h-3.20zM468.33 345.74h3.20v3.20h-3.20zM468.62 343.90h3.20v3.20h-3.20zM468.91 342.05h3.20v3.20h-3.20zM469.20 340.20h3.20v3.20h-3.20zM469.49 338.35h3.20v3.20h-3.20zM469.78 336.49h3.20v3.20h-3.20zM470.07 334.64h3.20v3.20h-3.20zM470.36 332.77h3.20v3.20h-3.20zM470.65 330.91h3.20v3.20h-3.20zM470.94 329.05h3.20v3.20h-3.20zM471.23 327.18h3.20v3.20h-3.20zM471.52 325.31h3.20v3.20h-3.20zM471.81 323.44h3.20v3.20h-3.20zM472.10 321.57h3.20v3.20h-3.20zM472.39 319.70h3.20v3.20h-3.20zM472.68 317.82h3.20v3.20h-3.20zM472.97 315.95h3.20v3.20h-3.20zM473.26 314.08h3.20v3.20h-3.20zM473.55 312.21h3.20v3.20h-3.20zM473.84 310.33h3.20v3.20h-3.20zM474.13 308.46h3.20v3.20h-3.20zM474.42 306.59h3.20v3.20h-3.20zM474.71 304.72h3.20v3.20h-3.20zM475.00 302.86h3.20v3.20h-3.20zM475.29 300.99h3.20v3.20h-3.20zM475.58 299.13h3.20v3.20h-3.20zM475.87 297.26h3.20v3.20h-3.20zM476.16 295.37h3.20v3.20h-3.20zM476.45 293.47h3.20v3.20h-3.20zM476.74 291.55h3.20v3.20h-3.20zM477.03 289.62h3.20v3.20h-3.20zM477.32 287.69h3.20v3.20h-3.20zM477.61 285.76h3.20v3.20h-3.20zM477.90 283.84h3.20v3.20h-3.20zM478.19 281.93h3.20v3.20h-3.20zM478.48 280.05h3.20v3.20h-3.20zM478.77 278.18h3.20v3.20h-3.20zM479.06 276.33h3.20v3.20h-3.20zM479.35 274.48h3.20v3.20h-3.20zM479.64 272.64h3.20v3.20h-3.20zM479.93 270.79h3.20v3.20h-3.20zM480.22 268.95h3.20v3.20h-3.20zM480.51 267.12h3.20v3.20h-3.20zM480.80 265.29h3.20v3.20h-3.20zM481.09 263.46h3.20v3.20h-3.20zM481.38 261.64h3.20v3.20h-3.20zM481.67 259.83h3.20v3.20h-3.20zM481.96 258.03h3.20v3.20h-3.20zM482.25 256.23h3.20v3.20h-3.20zM482.54 254.44h3.20v3.20h-3.20zM482.83 252.67h3.20v3.20h-3.20zM483.12 250.90h3.20v3.20h-3.20zM483.41 249.14h3.20v3.20h-3.20zM483.70 247.40h3.20v3.20h-3.20zM483.99 245.66h3.20v3.20h-3.20zM484.28 243.94h3.20v3.20h-3.20zM484.57 242.23h3.20v3.20h-3.20zM484.86 240.54h3.20v3.20h-3.20zM485.15 238.86h3.20v3.20h-3.20zM485.44 237.19h3.20v3.20h-3.20zM485.73 235.53h3.20v3.20h-3.20zM486.02 233.88h3.20v3.20h-3.20zM486.31 232.24h3.20v3.20h-3.20zM486.60 230.61h3.20v3.20h-3.20zM486.89 228.98h3.20v3.20h-3.20zM487.18 227.37h3.20v3.20h-3.20zM487.47 225.77h3.20v3.20h-3.20zM487.76 224.17h3.20v3.20h-3.20zM488.05 222.59h3.20v3.20h-3.20zM488.34 221.02h3.20v3.20h-3.20zM488.63 219.46h3.20v3.20h-3.20zM488.92 217.91h3.20v3.20h-3.20zM489.21 216.38h3.20v3.20h-3.20zM489.50 214.86h3.20v3.20h-3.20zM489.79 213.34h3.20v3.20h-3.20zM490.08 211.85h3.20v3.20h-3.20zM490.37 210.36h3.20v3.20h-3.20zM490.66 208.89h3.20v3.20h-3.20zM490.95 207.43h3.20v3.20h-3.20zM491.24 205.98h3.20v3.20h-3.20zM491.53 204.54h3.20v3.20h-3.20zM491.82 203.11h3.20v3.20h-3.20zM492.11 201.69h3.20v3.20h-3.20zM492.40 200.27h3.20v3.20h-3.20zM492.69 198.87h3.20v3.20h-3.20zM492.98 197.48h3.20v3.20h-3.20zM493.27 196.09h3.20v3.20h-3.20zM493.56 194.71h3.20v3.20h-3.20zM493.85 193.35h3.20v3.20h-3.20zM494.14 191.99h3.20v3.20h-3.20zM494.43 190.63h3.20v3.20h-3.20zM494.72 189.29h3.20v3.20h-3.20zM495.01 187.96h3.20v3.20h-3.20zM495.30 186.63h3.20v3.20h-3.20zM495.59 185.31h3.20v3.20h-3.20zM495.88 184.00h3.20v3.20h-3.20zM496.17 182.70h3.20v3.20h-3.20zM496.46 181.40h3.20v3.20h-3.20zM496.75 180.12h3.20v3.20h-3.20zM497.04 178.84h3.20v3.20h-3.20zM497.33 177.56h3.20v3.20h-3.20zM497.62 176.30h3.20v3.20h-3.20zM497.91 175.04h3.20v3.20h-3.20zM498.20 173.80h3.20v3.20h-3.20zM498.49 172.56h3.20v3.20h-3.20zM498.78 171.34h3.20v3.20h-3.20zM499.07 170.13h3.20v3.20h-3.20zM499.36 168.93h3.20v3.20h-3.20zM499.65 167.74h3.20v3.20h-3.20zM499.94 166.55h3.20v3.20h-3.20zM500.23 165.38h3.20v3.20h-3.20zM500.52 164.21h3.20v3.20h-3.20zM500.81 163.05h3.20v3.20h-3.20zM501.10 161.89h3.20v3.20h-3.20zM501.39 160.74h3.20v3.20h-3.20zM501.68 159.60h3.20v3.20h-3.20zM501.97 158.46h3.20v3.20h-3.20zM502.26 157.32h3.20v3.20h-3.20zM502.55 156.18h3.20v3.20h-3.20zM502.84 155.05h3.20v3.20h-3.20zM503.13 153.92h3.20v3.20h-3.20zM503.42 152.80h3.20v3.20h-3.20zM503.71 151.68h3.20v3.20h-3.20zM504.00 150.58h3.20v3.20h-3.20zM504.29 149.49h3.20v3.20h-3.20zM504.58 148.41h3.20v3.20h-3.20zM504.87 147.36h3.20v3.20h-3.20zM505.16 146.32h3.20v3.20h-3.20zM505.45 145.30h3.20v3.20h-3.20zM505.74 144.31h3.20v3.20h-3.20zM506.03 143.33h3.20v3.20h-3.20zM506.32 142.35h3.20v3.20h-3.20zM506.61 141.39h3.20v3.20h-3.20zM506.90 140.44h3.20v3.20h-3.20zM507.19 139.51h3.20v3.20h-3.20zM507.48 138.61h3.20v3.20h-3.20zM507.77 137.74h3.20v3.20h-3.20zM508.06 136.91h3.20v3.20h-3.20zM508.35 136.12h3.20v3.20h-3.20zM508.64 135.38h3.20v3.20h-3.20zM508.93 134.67h3.20v3.20h-3.20zM509.22 133.97h3.20v3.20h-3.20zM509.51 133.30h3.20v3.20h-3.20zM509.80 132.66h3.20v3.20h-3.20zM510.09 132.05h3.20v3.20h-3.20zM510.38 131.48h3.20v3.20h-3.20zM510.67 130.95h3.20v3.20h-3.20zM510.96 130.46h3.20v3.20h-3.20zM511.25 130.02h3.20v3.20h-3.20zM511.54 129.59h3.20v3.20h-3.20zM511.83 129.18h3.20v3.20h-3.20zM512.12 128.79h3.20v3.20h-3.20zM512.41 128.42h3.20v3.20h-3.20zM512.70 128.07h3.20v3.20h-3.20zM512.99 127.75h3.20v3.20h-3.20zM513.28 127.46h3.20v3.20h-3.20zM513.57 127.19h3.20v3.20h-3.20zM513.86 126.95h3.20v3.20h-3.20zM514.15 126.72h3.20v3.20h-3.20zM514.44 126.49h3.20v3.20h-3.20zM514.73 126.26h3.20v3.20h-3.20zM515.02 126.05h3.20v3.20h-3.20zM515.31 125.87h3.20v3.20h-3.20zM515.60 125.73h3.20v3.20h-3.20zM515.89 125.64h3.20v3.20h-3.20zM516.18 125.60h3.20v3.20h-3.20zM516.47 125.62h3.20v3.20h-3.20zM516.76 125.70h3.20v3.20h-3.20zM517.05 125.81h3.20v3.20h-3.20zM517.34 125.96h3.20v3.20h-3.20zM517.63 126.14h3.20v3.20h-3.20zM517.92 126.34h3.20v3.20h-3.20zM518.21 126.55h3.20v3.20h-3.20zM518.50 126.77h3.20v3.20h-3.20zM518.79 126.99h3.20v3.20h-3.20zM519.08 127.23h3.20v3.20h-3.20zM519.37 127.51h3.20v3.20h-3.20zM519.66 127.82h3.20v3.20h-3.20zM519.95 128.17h3.20v3.20h-3.20zM520.24 128.54h3.20v3.20h-3.20zM520.53 128.94h3.20v3.20h-3.20zM520.82 129.36h3.20v3.20h-3.20zM521.11 129.79h3.20v3.20h-3.20zM521.40 130.24h3.20v3.20h-3.20zM521.69 130.71h3.20v3.20h-3.20zM521.98 131.23h3.20v3.20h-3.20zM522.27 131.78h3.20v3.20h-3.20zM522.56 132.38h3.20v3.20h-3.20zM522.85 133.00h3.20v3.20h-3.20zM523.14 133.65h3.20v3.20h-3.20zM523.43 134.31h3.20v3.20h-3.20zM523.72 134.99h3.20v3.20h-3.20zM524.01 135.66h3.20v3.20h-3.20zM524.30 136.34h3.20v3.20h-3.20zM524.59 137.00h3.20v3.20h-3.20zM524.88 137.66h3.20v3.20h-3.20zM525.17 138.32h3.20v3.20h-3.20zM525.46 139.00h3.20v3.20h-3.20zM525.75 139.71h3.20v3.20h-3.20zM526.04 140.44h3.20v3.20h-3.20zM526.33 141.22h3.20v3.20h-3.20zM526.62 142.04h3.20v3.20h-3.20zM526.91 142.92h3.20v3.20h-3.20zM527.20 143.86h3.20v3.20h-3.20zM527.49 144.90h3.20v3.20h-3.20zM527.78 146.09h3.20v3.20h-3.20zM528.07 147.40h3.20v3.20h-3.20zM528.36 148.82h3.20v3.20h-3.20zM528.65 150.32h3.20v3.20h-3.20zM528.94 151.89h3.20v3.20h-3.20zM529.23 153.49h3.20v3.20h-3.20zM529.52 155.11h3.20v3.20h-3.20zM529.81 156.73h3.20v3.20h-3.20zM530.10 158.32h3.20v3.20h-3.20zM530.39 159.87h3.20v3.20h-3.20zM530.68 161.42h3.20v3.20h-3.20zM530.97 162.98h3.20v3.20h-3.20zM531.26 164.56h3.20v3.20h-3.20zM531.55 166.15h3.20v3.20h-3.20zM531.84 167.76h3.20v3.20h-3.20zM532.13 169.38h3.20v3.20h-3.20zM532.42 171.03h3.20v3.20h-3.20zM532.71 172.70h3.20v3.20h-3.20zM533.00 174.39h3.20v3.20h-3.20zM533.29 176.10h3.20v3.20h-3.20zM533.58 177.84h3.20v3.20h-3.20zM533.87 179.59h3.20v3.20h-3.20zM534.16 181.36h3.20v3.20h-3.20zM534.45 183.14h3.20v3.20h-3.20zM534.74 184.95h3.20v3.20h-3.20zM535.03 186.77h3.20v3.20h-3.20zM535.32 188.60h3.20v3.20h-3.20zM535.61 190.46h3.20v3.20h-3.20zM535.90 192.33h3.20v3.20h-3.20zM536.19 194.22h3.20v3.20h-3.20zM536.48 196.13h3.20v3.20h-3.20zM536.77 198.05h3.20v3.20h-3.20zM537.06 200.00h3.20v3.20h-3.20zM537.35 201.96h3.20v3.20h-3.20zM537.64 203.94h3.20v3.20h-3.20zM537.93 205.95h3.20v3.20h-3.20zM538.22 207.97h3.20v3.20h-3.20zM538.51 210.01h3.20v3.20h-3.20zM538.80 212.09h3.20v3.20h-3.20zM539.09 214.19h3.20v3.20h-3.20zM539.38 216.32h3.20v3.20h-3.20zM539.67 218.48h3.20v3.20h-3.20zM539.96 220.66h3.20v3.20h-3.20zM540.25 222.87h3.20v3.20h-3.20zM540.54 225.10h3.20v3.20h-3.20zM540.83 227.35h3.20v3.20h-3.20zM541.12 229.62h3.20v3.20h-3.20zM541.41 231.91h3.20v3.20h-3.20zM541.70 234.21h3.20v3.20h-3.20zM541.99 236.53h3.20v3.20h-3.20zM542.28 238.86h3.20v3.20h-3.20zM542.57 241.21h3.20v3.20h-3.20zM542.86 243.59h3.20v3.20h-3.20zM543.15 246.00h3.20v3.20h-3.20zM543.44 248.44h3.20v3.20h-3.20zM543.73 250.89h3.20v3.20h-3.20zM544.02 253.37h3.20v3.20h-3.20zM544.31 255.86h3.20v3.20h-3.20zM544.60 258.37h3.20v3.20h-3.20zM544.89 260.89h3.20v3.20h-3.20zM545.18 263.42h3.20v3.20h-3.20zM545.47 265.96h3.20v3.20h-3.20zM545.76 268.50h3.20v3.20h-3.20zM546.05 271.05h3.20v3.20h-3.20zM546.34 273.60h3.20v3.20h-3.20zM546.63 276.14h3.20v3.20h-3.20zM546.92 278.69h3.20v3.20h-3.20zM547.21 281.25h3.20v3.20h-3.20zM547.50 283.86h3.20v3.20h-3.20zM547.79 286.48h3.20v3.20h-3.20zM548.08 289.10h3.20v3.20h-3.20zM548.37 291.71h3.20v3.20h-3.20zM548.66 294.29h3.20v3.20h-3.20zM548.95 296.81h3.20v3.20h-3.20zM549.24 299.28h3.20v3.20h-3.20zM549.53 301.73h3.20v3.20h-3.20zM549.82 304.17h3.20v3.20h-3.20zM550.11 306.61h3.20v3.20h-3.20zM550.40 309.04h3.20v3.20h-3.20zM550.69 311.47h3.20v3.20h-3.20zM550.98 313.89h3.20v3.20h-3.20zM551.27 316.30h3.20v3.20h-3.20zM551.56 318.71h3.20v3.20h-3.20zM551.85 321.11h3.20v3.20h-3.20zM552.14 323.50h3.20v3.20h-3.20zM552.43 325.88h3.20v3.20h-3.20zM552.72 328.25h3.20v3.20h-3.20zM553.01 330.61h3.20v3.20h-3.20zM553.30 332.96h3.20v3.20h-3.20zM553.59 335.30h3.20v3.20h-3.20zM553.88 337.62h3.20v3.20h-3.20zM554.17 339.94h3.20v3.20h-3.20zM554.46 342.24h3.20v3.20h-3.20zM554.75 344.52h3.20v3.20h-3.20zM555.04 346.80h3.20v3.20h-3.20zM555.33 349.05h3.20v3.20h-3.20zM555.62 351.29h3.20v3.20h-3.20zM555.91 353.52h3.20v3.20h-3.20zM556.20 355.73h3.20v3.20h-3.20zM556.49 357.92h3.20v3.20h-3.20zM556.78 360.09h3.20v3.20h-3.20zM557.07 362.24h3.20v3.20h-3.20zM557.36 364.38h3.20v3.20h-3.20zM557.65 366.49h3.20v3.20h-3.20zM557.94 368.59h3.20v3.20h-3.20zM558.23 370.66h3.20v3.20h-3.20zM558.52 372.72h3.20v3.20h-3.20zM558.81 374.75h3.20v3.20h-3.20zM559.10 376.76h3.20v3.20h-3.20zM559.39 378.74h3.20v3.20h-3.20zM559.68 380.68h3.20v3.20h-3.20zM559.97 382.58h3.20v3.20h-3.20zM560.26 384.43h3.20v3.20h-3.20zM560.55 386.25h3.20v3.20h-3.20zM560.84 388.04h3.20v3.20h-3.20zM561.13 389.81h3.20v3.20h-3.20zM561.42 391.56h3.20v3.20h-3.20zM561.71 393.30h3.20v3.20h-3.20zM562.00 395.03h3.20v3.20h-3.20zM562.29 396.75h3.20v3.20h-3.20zM562.58 398.45h3.20v3.20h-3.20zM562.87 400.13h3.20v3.20h-3.20zM563.16 401.80h3.20v3.20h-3.20zM563.45 403.45h3.20v3.20h-3.20zM563.74 405.08h3.20v3.20h-3.20zM564.03 406.69h3.20v3.20h-3.20zM564.32 408.29h3.20v3.20h-3.20zM564.61 409.87h3.20v3.20h-3.20zM564.90 411.43h3.20v3.20h-3.20zM565.19 412.98h3.20v3.20h-3.20zM565.48 414.52h3.20v3.20h-3.20zM565.77 416.04h3.20v3.20h-3.20zM566.06 417.54h3.20v3.20h-3.20zM566.35 419.04h3.20v3.20h-3.20zM566.64 420.51h3.20v3.20h-3.20zM566.93 421.98h3.20v3.20h-3.20zM567.22 423.43h3.20v3.20h-3.20zM567.51 424.86h3.20v3.20h-3.20zM567.80 426.28h3.20v3.20h-3.20zM568.09 427.69h3.20v3.20h-3.20zM568.38 429.08h3.20v3.20h-3.20zM568.67 430.46h3.20v3.20h-3.20zM568.96 431.82h3.20v3.20h-3.20zM569.25 433.18h3.20v3.20h-3.20zM569.54 434.53h3.20v3.20h-3.20zM569.83 435.87h3.20v3.20h-3.20zM570.12 437.20h3.20v3.20h-3.20zM570.41 438.53h3.20v3.20h-3.20zM570.70 439.85h3.20v3.20h-3.20zM570.99 441.19h3.20v3.20h-3.20zM571.28 442.53h3.20v3.20h-3.20zM571.57 443.88h3.20v3.20h-3.20zM571.86 445.22h3.20v3.20h-3.20zM572.15 446.54h3.20v3.20h-3.20zM572.44 447.85h3.20v3.20h-3.20zM572.73 449.13h3.20v3.20h-3.20zM573.02 450.38h3.20v3.20h-3.20zM573.31 451.59h3.20v3.20h-3.20zM573.60 452.76h3.20v3.20h-3.20zM573.89 453.87h3.20v3.20h-3.20zM574.18 454.95h3.20v3.20h-3.20zM574.47 456.01h3.20v3.20h-3.20zM574.76 457.06h3.20v3.20h-3.20zM575.05 458.10h3.20v3.20h-3.20zM575.34 459.12h3.20v3.20h-3.20zM575.63 460.12h3.20v3.20h-3.20zM575.92 461.10h3.20v3.20h-3.20zM576.21 462.06h3.20v3.20h-3.20zM576.50 463.00h3.20v3.20h-3.20zM576.79 463.92h3.20v3.20h-3.20zM577.08 464.82h3.20v3.20h-3.20zM577.37 465.69h3.20v3.20h-3.20zM577.66 466.54h3.20v3.20h-3.20zM577.95 467.36h3.20v3.20h-3.20zM578.24 468.15h3.20v3.20h-3.20zM578.53 468.92h3.20v3.20h-3.20zM578.82 469.66h3.20v3.20h-3.20zM579.11 470.37h3.20v3.20h-3.20zM579.40 471.06h3.20v3.20h-3.20zM579.69 471.73h3.20v3.20h-3.20zM579.98 472.39h3.20v3.20h-3.20zM580.27 473.02h3.20v3.20h-3.20zM580.56 473.64h3.20v3.20h-3.20zM580.85 474.24h3.20v3.20h-3.20zM581.14 474.83h3.20v3.20h-3.20zM581.43 475.39h3.20v3.20h-3.20zM581.72 475.95h3.20v3.20h-3.20zM582.01 476.48h3.20v3.20h-3.20zM582.30 477.00h3.20v3.20h-3.20zM582.59 477.51h3.20v3.20h-3.20zM582.88 478.00h3.20v3.20h-3.20zM583.17 478.47h3.20v3.20h-3.20zM583.46 478.94h3.20v3.20h-3.20zM583.75 479.39h3.20v3.20h-3.20zM584.04 479.84h3.20v3.20h-3.20zM584.33 480.28h3.20v3.20h-3.20zM584.62 480.71h3.20v3.20h-3.20zM584.91 481.13h3.20v3.20h-3.20zM585.20 481.55h3.20v3.20h-3.20zM585.49 481.96h3.20v3.20h-3.20zM585.78 482.35h3.20v3.20h-3.20zM586.07 482.75h3.20v3.20h-3.20zM586.36 483.13h3.20v3.20h-3.20zM586.65 483.51h3.20v3.20h-3.20zM586.94 483.87h3.20v3.20h-3.20zM587.23 484.24h3.20v3.20h-3.20zM587.52 484.59h3.20v3.20h-3.20zM587.81 484.94h3.20v3.20h-3.20zM588.10 485.28h3.20v3.20h-3.20zM588.39 485.61h3.20v3.20h-3.20zM588.68 485.94h3.20v3.20h-3.20zM588.97 486.26h3.20v3.20h-3.20zM589.26 486.57h3.20v3.20h-3.20zM589.55 486.88h3.20v3.20h-3.20zM589.84 487.18h3.20v3.20h-3.20zM590.13 487.48h3.20v3.20h-3.20zM590.42 487.77h3.20v3.20h-3.20zM590.71 488.05h3.20v3.20h-3.20zM591.00 488.32h3.20v3.20h-3.20zM591.29 488.59h3.20v3.20h-3.20zM591.58 488.86h3.20v3.20h-3.20zM591.87 489.11h3.20v3.20h-3.20zM592.16 489.37h3.20v3.20h-3.20zM592.45 489.61h3.20v3.20h-3.20zM592.74 489.86h3.20v3.20h-3.20zM593.03 490.10h3.20v3.20h-3.20zM593.32 490.33h3.20v3.20h-3.20zM593.61 490.56h3.20v3.20h-3.20zM593.90 490.79h3.20v3.20h-3.20zM594.19 491.01h3.20v3.20h-3.20zM594.48 491.23h3.20v3.20h-3.20zM594.77 491.45h3.20v3.20h-3.20zM595.06 491.67h3.20v3.20h-3.20zM595.35 491.89h3.20v3.20h-3.20zM595.64 492.10h3.20v3.20h-3.20zM595.93 492.31h3.20v3.20h-3.20zM596.22 492.52h3.20v3.20h-3.20zM596.51 492.72h3.20v3.20h-3.20zM596.80 492.93h3.20v3.20h-3.20zM597.09 493.13h3.20v3.20h-3.20zM597.38 493.32h3.20v3.20h-3.20zM597.67 493.51h3.20v3.20h-3.20zM597.96 493.70h3.20v3.20h-3.20zM598.25 493.89h3.20v3.20h-3.20zM598.54 494.07h3.20v3.20h-3.20zM598.83 494.24h3.20v3.20h-3.20zM599.12 494.42h3.20v3.20h-3.20zM599.41 494.58h3.20v3.20h-3.20zM599.70 494.75h3.20v3.20h-3.20zM599.99 494.90h3.20v3.20h-3.20zM600.28 495.06h3.20v3.20h-3.20zM600.57 495.21h3.20v3.20h-3.20zM600.86 495.35h3.20v3.20h-3.20zM601.15 495.50h3.20v3.20h-3.20zM601.44 495.64h3.20v3.20h-3.20zM601.73 495.79h3.20v3.20h-3.20zM602.02 495.93h3.20v3.20h-3.20zM602.31 496.07h3.20v3.20h-3.20zM602.60 496.20h3.20v3.20h-3.20zM602.89 496.34h3.20v3.20h-3.20zM603.18 496.47h3.20v3.20h-3.20zM603.47 496.60h3.20v3.20h-3.20zM603.76 496.72h3.20v3.20h-3.20zM604.05 496.84h3.20v3.20h-3.20zM604.34 496.96h3.20v3.20h-3.20zM604.63 497.07h3.20v3.20h-3.20zM604.92 497.18h3.20v3.20h-3.20zM605.21 497.28h3.20v3.20h-3.20zM605.50 497.38h3.20v3.20h-3.20zM605.79 497.47h3.20v3.20h-3.20zM606.08 497.56h3.20v3.20h-3.20zM606.37 497.64h3.20v3.20h-3.20zM606.66 497.72h3.20v3.20h-3.20zM606.95 497.79h3.20v3.20h-3.20zM607.24 497.86h3.20v3.20h-3.20zM607.53 497.93h3.20v3.20h-3.20zM607.82 497.99h3.20v3.20h-3.20zM608.11 498.06h3.20v3.20h-3.20zM608.40 498.11h3.20v3.20h-3.20zM608.69 498.17h3.20v3.20h-3.20zM608.98 498.22h3.20v3.20h-3.20zM609.27 498.27h3.20v3.20h-3.20zM609.56 498.32h3.20v3.20h-3.20zM609.85 498.36h3.20v3.20h-3.20zM610.14 498.39h3.20v3.20h-3.20zM610.21 498.40h3.20v3.20h-3.20z" fill="#000000" stroke="none"/>
<path d="M221.90 501.50L222.40 501.50L222.90 501.50L223.40 501.50L223.90 501.50L224.40 501.50L224.90 501.50L225.40 501.49L225.90 501.49L226.40 501.49L226.90 501.49L227.40 501.49L227.90 501.48L228.40 501.48L228.90 501.48L229.40 501.47L229.90 501.47L230.40 501.47L230.90 501.46L231.40 501.46L231.90 501.45L232.40 501.45L232.90 501.44L233.40 501.44L233.90 501.43L234.40 501.43L234.90 501.42L235.40 501.42L235.90 501.41L236.40 501.40L236.90 501.40L237.40 501.39L237.90 501.39L238.40 501.38L238.90 501.37L239.40 501.36L239.90 501.36L240.40 501.35L240.90 501.34L241.40 501.33L241.90 501.33L242.40 501.32L242.90 501.31L243.40 501.30L243.90 501.29L244.40 501.28L244.90 501.27L245.40 501.27L245.90 501.26L246.40 501.25L246.90 501.24L247.40 501.23L247.90 501.22L248.40 501.21L248.90 501.20L249.40 501.19L249.90 501.18L250.40 501.17L250.90 501.16L251.40 501.15L251.90 501.14L252.40 501.12L252.90 501.11L253.40 501.10L253.90 501.09L254.40 501.08L254.90 501.06L255.40 501.04L255.90 501.02L256.40 501.00L256.90 500.98L257.40 500.96L257.90 500.93L258.40 500.90L258.90 500.87L259.40 500.84L259.90 500.81L260.40 500.78L260.90 500.75L261.40 500.71L261.90 500.68L262.40 500.64L262.90 500.60L263.40 500.57L263.90 500.53L264.40 500.49L264.90 500.45L265.40 500.41L265.90 500.37L266.40 500.33L266.90 500.29L267.40 500.25L267.90 500.21L268.40 500.17L268.90 500.13L269.40 500.09L269.90 500.05L270.40 500.01L270.90 499.97L271.40 499.93L271.90 499.89L272.40 499.85L272.90 499.81L273.40 499.78L273.90 499.74L274.40 499.71L274.90 499.67L275.40 499.64L275.90 499.61L276.40 499.57L276.90 499.54L277.40 499.51L277.90 499.48L278.40 499.44L278.90 499.41L279.40 499.38L279.90 499.35L280.40 499.32L280.90 499.29L281.40 499.26L281.90 499.23L282.40 499.20L282.90 499.16L283.40 499.13L283.90 499.10L284.40 499.07L284.90 499.04L285.40 499.01L285.90 498.98L286.40 498.94L286.90 498.91L287.40 498.88L287.90 498.85L288.40 498.81L288.90 498.78L289.40 498.75L289.90 498.71L290.40 498.68L290.90 498.64L291.40 498.61L291.90 498.57L292.40 498.53L292.90 498.49L293.40 498.46L293.90 498.42L294.40 498.38L294.90 498.34L295.40 498.29L295.90 498.25L296.40 498.21L296.90 498.17L297.40 498.12L297.90 498.08L298.40 498.03L298.90 497.98L299.40 497.93L299.90 497.88L300.40 497.82L300.90 497.76L301.40 497.70L301.90 497.63L302.40 497.57L302.90 497.50L303.40 497.42L303.90 497.35L304.40 497.27L304.90 497.20L305.40 497.12L305.90 497.04L306.40 496.96L306.90 496.87L307.40 496.79L307.90 496.70L308.40 496.62L308.90 496.53L309.40 496.45L309.90 496.36L310.40 496.27L310.90 496.18L311.40 496.09L311.90 496.01L312.40 495.92L312.90 495.83L313.40 495.75L313.90 495.66L314.40 495.58L314.90 495.49L315.40 495.41L315.90 495.33L316.40 495.25L316.90 495.17L317.40 495.09L317.90 495.02L318.40 494.95L318.90 494.88L319.40 494.81L319.90 494.74L320.40 494.68L320.90 494.62L321.40 494.56L321.90 494.50L322.40 494.45L322.90 494.40L323.40 494.35L323.90 494.31L324.40 494.26L324.90 494.22L325.40 494.17L325.90 494.13L326.40 494.09L326.90 494.04L327.40 494.00L327.90 493.96L328.40 493.92L328.90 493.88L329.40 493.85L329.90 493.81L330.40 493.77L330.90 493.73L331.40 493.70L331.90 493.66L332.40 493.63L332.90 493.59L333.40 493.56L333.90 493.52L334.40 493.49L334.90 493.45L335.40 493.42L335.90 493.39L336.40 493.36L336.90 493.33L337.40 493.29L337.90 493.26L338.40 493.23L338.90 493.20L339.40 493.17L339.90 493.14L340.40 493.11L340.90 493.08L341.40 493.05L341.90 493.02L342.40 492.99L342.90 492.96L343.40 492.93L343.90 492.90L344.40 492.86L344.90 492.83L345.40 492.80L345.90 492.77L346.40 492.74L346.90 492.71L347.40 492.68L347.90 492.65L348.40 492.62L348.90 492.59L349.40 492.57L349.90 492.54L350.40 492.51L350.90 492.48L351.40 492.46L351.90 492.43L352.40 492.41L352.90 492.38L353.40 492.35L353.90 492.33L354.40 492.30L354.90 492.28L355.40 492.25L355.90 492.23L356.40 492.20L356.90 492.18L357.40 492.15L357.90 492.12L358.40 492.10L358.90 492.07L359.40 492.04L359.90 492.01L360.40 491.98L360.90 491.95L361.40 491.92L361.90 491.89L362.40 491.85L362.90 491.82L363.40 491.79L363.90 491.75L364.40 491.70L364.90 491.66L365.40 491.61L365.90 491.56L366.40 491.50L366.90 491.45L367.40 491.39L367.90 491.33L368.40 491.27L368.90 491.21L369.40 491.14L369.90 491.08L370.40 491.02L370.90 490.96L371.40 490.90L371.90 490.84L372.40 490.78L372.90 490.72L373.40 490.67L373.90 490.62L374.40 490.57L374.90 490.52L375.40 490.48L375.90 490.44L376.40 490.40L376.90 490.37L377.40 490.35L377.90 490.33L378.40 490.31L378.90 490.30L379.40 490.30L379.90 490.30L380.40 490.30L380.90 490.30L381.40 490.31L381.90 490.31L382.40 490.32L382.90 490.32L383.40 490.33L383.90 490.34L384.40 490.35L384.90 490.35L385.40 490.36L385.90 490.37L386.40 490.38L386.90 490.39L387.40 490.40L387.90 490.41L388.40 490.43L388.90 490.45L389.40 490.47L389.90 490.49L390.40 490.52L390.90 490.55L391.40 490.58L391.90 490.61L392.40 490.64L392.90 490.68L393.40 490.71L393.90 490.74L394.40 490.78L394.90 490.81L395.40 490.84L395.90 490.87L396.40 490.89L396.90 490.92L397.40 490.94L397.90 490.96L398.40 490.98L398.90 490.99L399.40 491.00L399.90 491.00L400.40 491.00L400.90 491.00L401.40 491.00L401.90 490.99L402.40 490.99L402.90 490.99L403.40 490.98L403.90 490.98L404.40 490.97L404.90 490.96L405.40 490.96L405.90 490.95L406.40 490.94L406.90 490.93L407.40 490.92L407.90 490.91L408.40 490.89L408.90 490.88L409.40 490.87L409.90 490.85L410.40 490.84L410.90 490.82L411.40 490.81L411.90 490.79L412.40 490.77L412.90 490.76L413.40 490.74L413.90 490.72L414.40 490.70L414.90 490.68L415.40 490.66L415.90 490.64L416.40 490.61L416.90 490.59L417.40 490.56L417.90 490.52L418.40 490.46L418.90 490.40L419.40 490.33L419.90 490.26L420.40 490.17L420.90 490.09L421.40 489.99L421.90 489.89L422.40 489.79L422.90 489.68L423.40 489.57L423.90 489.45L424.40 489.34L424.90 489.22L425.40 489.10L425.90 488.98L426.40 488.84L426.90 488.70L427.40 488.55L427.90 488.38L428.40 488.21L428.90 488.04L429.40 487.85L429.90 487.65L430.40 487.44L430.90 487.23L431.40 487.00L431.90 486.77L432.40 486.52L432.90 486.27L433.40 486.00L433.90 485.71L434.40 485.38L434.90 485.01L435.40 484.62L435.90 484.19L436.40 483.74L436.90 483.27L437.40 482.78L437.90 482.28L438.40 481.77L438.90 481.25L439.40 480.73L439.90 480.21L440.40 479.68L440.90 479.14L441.40 478.58L441.90 478.00L442.40 477.41L442.90 476.80L443.40 476.17L443.90 475.54L444.40 474.89L444.90 474.23L445.40 473.57L445.90 472.90L446.40 472.22L446.90 471.52L447.40 470.80L447.90 470.07L448.40 469.32L448.90 468.56L449.40 467.79L449.90 467.01L450.40 466.22L450.90 465.42L451.40 464.59L451.90 463.76L452.40 462.91L452.90 462.05L453.40 461.18L453.90 460.31L454.40 459.42L454.90 458.54L455.40 457.64L455.90 456.73L456.40 455.78L456.90 454.80L457.40 453.79L457.90 452.75L458.40 451.69L458.90 450.60L459.40 449.48L459.90 448.33L460.40 447.14L460.90 445.91L461.40 444.64L461.90 443.32L462.40 441.94L462.90 440.53L463.40 439.07L463.90 437.58L464.40 436.05L464.90 434.50L465.40 432.93L465.90 431.34L466.40 429.72L466.90 428.08L467.40 426.39L467.90 424.67L468.40 422.92L468.90 421.13L469.40 419.30L469.90 417.45L470.40 415.57L470.90 413.67L471.40 411.74L471.90 409.77L472.40 407.76L472.90 405.70L473.40 403.59L473.90 401.41L474.40 399.17L474.90 396.87L475.40 394.54L475.90 392.17L476.40 389.76L476.90 387.32L477.40 384.84L477.90 382.33L478.40 379.79L478.90 377.22L479.40 374.62L479.90 372.00L480.40 369.35L480.90 366.67L481.40 363.97L481.90 361.26L482.40 358.52L482.90 355.76L483.40 352.99L483.90 350.21L484.40 347.41L484.90 344.60L485.40 341.78L485.90 338.95L486.40 336.11L486.90 333.27L487.40 330.42L487.90 327.57L488.40 324.71L488.90 321.86L489.40 319.01L489.90 316.16L490.40 313.32L490.90 310.48L491.40 307.65L491.90 304.83L492.40 302.02L492.90 299.22L493.40 296.40L493.90 293.57L494.40 290.72L494.90 287.85L495.40 284.96L495.90 282.06L496.40 279.14L496.90 276.20L497.40 273.24L497.90 270.26L498.40 267.27L498.90 264.27L499.40 261.26L499.90 258.24L500.40 255.23L500.90 252.22L501.40 249.22L501.90 246.22L502.40 243.25L502.90 240.29L503.40 237.33L503.90 234.36L504.40 231.38L504.90 228.41L505.40 225.46L505.90 222.52L506.40 219.60L506.90 216.72L507.40 213.88L507.90 211.09L508.40 208.35L508.90 205.62L509.40 202.92L509.90 200.25L510.40 197.60L510.90 194.97L511.40 192.37L511.90 189.80L512.40 187.26L512.90 184.75L513.40 182.28L513.90 179.83L514.40 177.42L514.90 175.05L515.40 172.72L515.90 170.43L516.40 168.17L516.90 165.95L517.40 163.75L517.90 161.59L518.40 159.44L518.90 157.28L519.40 155.14L519.90 153.03L520.40 150.97L520.90 148.99L521.40 147.09L521.90 145.31L522.40 143.54L522.90 141.78L523.40 140.04L523.90 138.35L524.40 136.75L524.90 135.24L525.40 133.87L525.90 132.66L526.40 131.64L526.90 130.76L527.40 129.96L527.90 129.22L528.40 128.57L528.90 128.01L529.40 127.55L529.90 127.18L530.40 126.83L530.90 126.51L531.40 126.26L531.90 126.09L532.40 126.05L532.90 126.11L533.40 126.23L533.90 126.42L534.40 126.66L534.90 126.94L535.40 127.26L535.90 127.68L536.40 128.42L536.90 129.41L537.40 130.56L537.90 131.76L538.40 132.99L538.90 134.32L539.40 135.77L539.90 137.34L540.40 139.01L540.90 140.79L541.40 142.68L541.90 144.68L542.40 146.81L542.90 149.27L543.40 152.01L543.90 154.90L544.40 157.86L544.90 160.79L545.40 163.67L545.90 166.59L546.40 169.56L546.90 172.58L547.40 175.67L547.90 178.82L548.40 182.03L548.90 185.28L549.40 188.59L549.90 191.94L550.40 195.34L550.90 198.79L551.40 202.28L551.90 205.83L552.40 209.43L552.90 213.08L553.40 216.81L553.90 220.62L554.40 224.48L554.90 228.40L555.40 232.36L555.90 236.36L556.40 240.39L556.90 244.46L557.40 248.59L557.90 252.78L558.40 257.00L558.90 261.26L559.40 265.54L559.90 269.82L560.40 274.11L560.90 278.39L561.40 282.67L561.90 287.02L562.40 291.38L562.90 295.67L563.40 299.84L563.90 303.90L564.40 307.95L564.90 311.98L565.40 315.99L565.90 319.99L566.40 323.95L566.90 327.89L567.40 331.81L567.90 335.69L568.40 339.54L568.90 343.36L569.40 347.14L569.90 350.89L570.40 354.59L570.90 358.25L571.40 361.87L571.90 365.44L572.40 368.96L572.90 372.43L573.40 375.84L573.90 379.20L574.40 382.48L574.90 385.64L575.40 388.71L575.90 391.71L576.40 394.67L576.90 397.60L577.40 400.49L577.90 403.34L578.40 406.14L578.90 408.90L579.40 411.61L579.90 414.28L580.40 416.91L580.90 419.51L581.40 422.06L581.90 424.58L582.40 427.06L582.90 429.50L583.40 431.91L583.90 434.29L584.40 436.64L584.90 438.95L585.40 441.22L585.90 443.49L586.40 445.75L586.90 447.99L587.40 450.17L587.90 452.28L588.40 454.30L588.90 456.21L589.40 458.07L589.90 459.89L590.40 461.67L590.90 463.39L591.40 465.07L591.90 466.68L592.40 468.22L592.90 469.69L593.40 471.08L593.90 472.40L594.40 473.67L594.90 474.88L595.40 476.04L595.90 477.15L596.40 478.20L596.90 479.20L597.40 480.14L597.90 481.04L598.40 481.92L598.90 482.77L599.40 483.59L599.90 484.39L600.40 485.16L600.90 485.89L601.40 486.59L601.90 487.25L602.40 487.88L602.90 488.48L603.40 489.03L603.90 489.56L604.40 490.06L604.90 490.54L605.40 491.00L605.90 491.44L606.40 491.86L606.90 492.26L607.40 492.66L607.90 493.04L608.40 493.41L608.90 493.79L609.40 494.15L609.90 494.51L610.40 494.85L610.90 495.19L611.40 495.51L611.90 495.82L612.40 496.12L612.90 496.40L613.40 496.66L613.90 496.91L614.40 497.14L614.90 497.36L615.40 497.57L615.90 497.78L616.40 497.98L616.90 498.17L617.40 498.36L617.90 498.54L618.40 498.71L618.90 498.88L619.40 499.03L619.90 499.18L620.40 499.31L620.90 499.44L621.40 499.56L621.90 499.66L622.40 499.77L622.90 499.87L623.40 499.97L623.90 500.06L624.40 500.15L624.90 500.24L625.40 500.32L625.90 500.40L626.40 500.48L626.90 500.55L627.40 500.62L627.90 500.68L628.40 500.74L628.90 500.79L629.40 500.85L629.90 500.89L630.40 500.93L630.90 500.98L631.40 501.02L631.90 501.06L632.40 501.09L632.90 501.13L633.40 501.16L633.90 501.19L634.40 501.22L634.90 501.24L635.40 501.27L635.90 501.28L636.40 501.30L636.60 501.30" fill="none" stroke="#ff0000" stroke-width="3.6" stroke-linejoin="round" stroke-linecap="round"/>
<path d="M218.80 503.05h5.20l-2.60 -4.40zM219.09 503.05h5.20l-2.60 -4.40zM219.38 503.05h5.20l-2.60 -4.40zM219.67 503.05h5.20l-2.60 -4.40zM219.96 503.05h5.20l-2.60 -4.40zM220.25 503.05h5.20l-2.60 -4.40zM220.54 503.04h5.20l-2.60 -4.40zM220.83 503.04h5.20l-2.60 -4.40zM221.12 503.04h5.20l-2.60 -4.40zM221.41 503.04h5.20l-2.60 -4.40zM221.70 503.04h5.20l-2.60 -4.40zM221.99 503.04h5.20l-2.60 -4.40zM222.28 503.04h5.20l-2.60 -4.40zM222.57 503.03h5.20l-2.60 -4.40zM222.86 503.03h5.20l-2.60 -4.40zM223.15 503.03h5.20l-2.60 -4.40zM223.44 503.03h5.20l-2.60 -4.40zM223.73 503.02h5.20l-2.60 -4.40zM224.03 503.02h5.20l-2.60 -4.40zM224.32 503.02h5.20l-2.60 -4.40zM224.61 503.02h5.20l-2.60 -4.40zM224.90 503.01h5.20l-2.60 -4.40zM225.19 503.01h5.20l-2.60 -4.40zM225.48 503.01h5.20l-2.60 -4.40zM225.77 503.01h5.20l-2.60 -4.40zM226.06 503.00h5.20l-2.60 -4.40zM226.35 503.00h5.20l-2.60 -4.40zM226.64 503.00h5.20l-2.60 -4.40zM226.93 502.99h5.20l-2.60 -4.40zM227.22 502.99h5.20l-2.60 -4.40zM227.51 502.98h5.20l-2.60 -4.40zM227.80 502.98h5.20l-2.60 -4.40zM228.09 502.98h5.20l-2.60 -4.40zM228.38 502.97h5.20l-2.60 -4.40zM228.67 502.97h5.20l-2.60 -4.40zM228.96 502.97h5.20l-2.60 -4.40zM229.25 502.96h5.20l-2.60 -4.40zM229.54 502.96h5.20l-2.60 -4.40zM229.83 502.95h5.20l-2.60 -4.40zM230.12 502.95h5.20l-2.60 -4.40zM230.41 502.94h5.20l-2.60 -4.40zM230.70 502.94h5.20l-2.60 -4.40zM230.99 502.93h5.20l-2.60 -4.40zM231.28 502.93h5.20l-2.60 -4.40zM231.57 502.92h5.20l-2.60 -4.40zM231.86 502.92h5.20l-2.60 -4.40zM232.15 502.92h5.20l-2.60 -4.40zM232.44 502.91h5.20l-2.60 -4.40zM232.73 502.90h5.20l-2.60 -4.40zM233.02 502.90h5.20l-2.60 -4.40zM233.31 502.89h5.20l-2.60 -4.40zM233.60 502.89h5.20l-2.60 -4.40zM233.89 502.88h5.20l-2.60 -4.40zM234.18 502.88h5.20l-2.60 -4.40zM234.47 502.87h5.20l-2.60 -4.40zM234.76 502.87h5.20l-2.60 -4.40zM235.05 502.86h5.20l-2.60 -4.40zM235.34 502.86h5.20l-2.60 -4.40zM235.63 502.85h5.20l-2.60 -4.40zM235.92 502.84h5.20l-2.60 -4.40zM236.21 502.84h5.20l-2.60 -4.40zM236.50 502.83h5.20l-2.60 -4.40zM236.79 502.82h5.20l-2.60 -4.40zM237.08 502.82h5.20l-2.60 -4.40zM237.37 502.81h5.20l-2.60 -4.40zM237.66 502.81h5.20l-2.60 -4.40zM237.95 502.80h5.20l-2.60 -4.40zM238.25 502.79h5.20l-2.60 -4.40zM238.54 502.79h5.20l-2.60 -4.40zM238.83 502.78h5.20l-2.60 -4.40zM239.12 502.77h5.20l-2.60 -4.40zM239.41 502.77h5.20l-2.60 -4.40zM239.70 502.76h5.20l-2.60 -4.40zM239.99 502.75h5.20l-2.60 -4.40zM240.28 502.75h5.20l-2.60 -4.40zM240.57 502.74h5.20l-2.60 -4.40zM240.86 502.73h5.20l-2.60 -4.40zM241.15 502.73h5.20l-2.60 -4.40zM241.44 502.72h5.20l-2.60 -4.40zM241.73 502.71h5.20l-2.60 -4.40zM242.02 502.70h5.20l-2.60 -4.40zM242.31 502.70h5.20l-2.60 -4.40zM242.60 502.69h5.20l-2.60 -4.40zM242.89 502.68h5.20l-2.60 -4.40zM243.18 502.67h5.20l-2.60 -4.40zM243.47 502.67h5.20l-2.60 -4.40zM243.76 502.66h5.20l-2.60 -4.40zM244.05 502.65h5.20l-2.60 -4.40zM244.34 502.64h5.20l-2.60 -4.40zM244.63 502.64h5.20l-2.60 -4.40zM244.92 502.63h5.20l-2.60 -4.40zM245.21 502.62h5.20l-2.60 -4.40zM245.50 502.61h5.20l-2.60 -4.40zM245.79 502.61h5.20l-2.60 -4.40zM246.08 502.60h5.20l-2.60 -4.40zM246.37 502.59h5.20l-2.60 -4.40zM246.66 502.58h5.20l-2.60 -4.40zM246.95 502.57h5.20l-2.60 -4.40zM247.24 502.57h5.20l-2.60 -4.40zM247.53 502.56h5.20l-2.60 -4.40zM247.82 502.55h5.20l-2.60 -4.40zM248.11 502.54h5.20l-2.60 -4.40zM248.40 502.53h5.20l-2.60 -4.40zM248.69 502.53h5.20l-2.60 -4.40zM248.98 502.52h5.20l-2.60 -4.40zM249.27 502.51h5.20l-2.60 -4.40zM249.56 502.50h5.20l-2.60 -4.40zM249.85 502.49h5.20l-2.60 -4.40zM250.14 502.48h5.20l-2.60 -4.40zM250.43 502.48h5.20l-2.60 -4.40zM250.72 502.47h5.20l-2.60 -4.40zM251.01 502.46h5.20l-2.60 -4.40zM251.30 502.45h5.20l-2.60 -4.40zM251.59 502.44h5.20l-2.60 -4.40zM251.88 502.42h5.20l-2.60 -4.40zM252.18 502.41h5.20l-2.60 -4.40zM252.47 502.40h5.20l-2.60 -4.40zM252.76 502.38h5.20l-2.60 -4.40zM253.05 502.37h5.20l-2.60 -4.40zM253.34 502.35h5.20l-2.60 -4.40zM253.63 502.34h5.20l-2.60 -4.40zM253.92 502.32h5.20l-2.60 -4.40zM254.21 502.30h5.20l-2.60 -4.40zM254.50 502.29h5.20l-2.60 -4.40zM254.80 502.27h5.20l-2.60 -4.40zM255.09 502.25h5.20l-2.60 -4.40zM255.38 502.23h5.20l-2.60 -4.40zM255.67 502.21h5.20l-2.60 -4.40zM255.96 502.20h5.20l-2.60 -4.40zM256.25 502.18h5.20l-2.60 -4.40zM256.54 502.16h5.20l-2.60 -4.40zM256.83 502.14h5.20l-2.60 -4.40zM257.12 502.12h5.20l-2.60 -4.40zM257.41 502.10h5.20l-2.60 -4.40zM257.70 502.08h5.20l-2.60 -4.40zM257.99 502.05h5.20l-2.60 -4.40zM258.28 502.03h5.20l-2.60 -4.40zM258.57 502.01h5.20l-2.60 -4.40zM258.87 501.99h5.20l-2.60 -4.40zM259.16 501.97h5.20l-2.60 -4.40zM259.45 501.95h5.20l-2.60 -4.40zM259.74 501.92h5.20l-2.60 -4.40zM260.03 501.90h5.20l-2.60 -4.40zM260.32 501.88h5.20l-2.60 -4.40zM260.61 501.86h5.20l-2.60 -4.40zM260.90 501.83h5.20l-2.60 -4.40zM261.19 501.81h5.20l-2.60 -4.40zM261.48 501.79h5.20l-2.60 -4.40zM261.77 501.77h5.20l-2.60 -4.40zM262.06 501.74h5.20l-2.60 -4.40zM262.35 501.72h5.20l-2.60 -4.40zM262.64 501.70h5.20l-2.60 -4.40zM262.93 501.67h5.20l-2.60 -4.40zM263.22 501.65h5.20l-2.60 -4.40zM263.51 501.63h5.20l-2.60 -4.40zM263.80 501.60h5.20l-2.60 -4.40zM264.09 501.58h5.20l-2.60 -4.40zM264.38 501.56h5.20l-2.60 -4.40zM264.67 501.53h5.20l-2.60 -4.40zM264.96 501.51h5.20l-2.60 -4.40zM265.25 501.49h5.20l-2.60 -4.40zM265.54 501.47h5.20l-2.60 -4.40zM265.83 501.44h5.20l-2.60 -4.40zM266.12 501.42h5.20l-2.60 -4.40zM266.41 501.40h5.20l-2.60 -4.40zM266.70 501.38h5.20l-2.60 -4.40zM266.99 501.35h5.20l-2.60 -4.40zM267.28 501.33h5.20l-2.60 -4.40zM267.57 501.31h5.20l-2.60 -4.40zM267.86 501.29h5.20l-2.60 -4.40zM268.15 501.27h5.20l-2.60 -4.40zM268.44 501.25h5.20l-2.60 -4.40zM268.73 501.22h5.20l-2.60 -4.40zM269.02 501.20h5.20l-2.60 -4.40zM269.31 501.18h5.20l-2.60 -4.40zM269.60 501.16h5.20l-2.60 -4.40zM269.89 501.14h5.20l-2.60 -4.40zM270.18 501.12h5.20l-2.60 -4.40zM270.46 501.11h5.20l-2.60 -4.40zM270.75 501.09h5.20l-2.60 -4.40zM271.04 501.07h5.20l-2.60 -4.40zM271.33 501.05h5.20l-2.60 -4.40zM271.62 501.03h5.20l-2.60 -4.40zM271.91 501.02h5.20l-2.60 -4.40zM272.20 501.00h5.20l-2.60 -4.40zM272.49 500.98h5.20l-2.60 -4.40zM272.78 500.96h5.20l-2.60 -4.40zM273.07 500.94h5.20l-2.60 -4.40zM273.36 500.92h5.20l-2.60 -4.40zM273.65 500.90h5.20l-2.60 -4.40zM273.94 500.88h5.20l-2.60 -4.40zM274.23 500.86h5.20l-2.60 -4.40zM274.52 500.84h5.20l-2.60 -4.40zM274.81 500.82h5.20l-2.60 -4.40zM275.10 500.80h5.20l-2.60 -4.40zM275.39 500.78h5.20l-2.60 -4.40zM275.68 500.76h5.20l-2.60 -4.40zM275.97 500.74h5.20l-2.60 -4.40zM276.26 500.71h5.20l-2.60 -4.40zM276.55 500.69h5.20l-2.60 -4.40zM276.84 500.67h5.20l-2.60 -4.40zM277.13 500.65h5.20l-2.60 -4.40zM277.43 500.63h5.20l-2.60 -4.40zM277.72 500.61h5.20l-2.60 -4.40zM278.01 500.59h5.20l-2.60 -4.40zM278.30 500.57h5.20l-2.60 -4.40zM278.59 500.55h5.20l-2.60 -4.40zM278.88 500.53h5.20l-2.60 -4.40zM279.17 500.51h5.20l-2.60 -4.40zM279.46 500.49h5.20l-2.60 -4.40zM279.75 500.47h5.20l-2.60 -4.40zM280.04 500.45h5.20l-2.60 -4.40zM280.33 500.43h5.20l-2.60 -4.40zM280.62 500.41h5.20l-2.60 -4.40zM280.91 500.39h5.20l-2.60 -4.40zM281.19 500.37h5.20l-2.60 -4.40zM281.48 500.35h5.20l-2.60 -4.40zM281.77 500.33h5.20l-2.60 -4.40zM282.06 500.31h5.20l-2.60 -4.40zM282.35 500.29h5.20l-2.60 -4.40zM282.64 500.27h5.20l-2.60 -4.40zM282.93 500.25h5.20l-2.60 -4.40zM283.22 500.23h5.20l-2.60 -4.40zM283.51 500.21h5.20l-2.60 -4.40zM283.80 500.19h5.20l-2.60 -4.40zM284.09 500.17h5.20l-2.60 -4.40zM284.38 500.15h5.20l-2.60 -4.40zM284.67 500.13h5.20l-2.60 -4.40zM284.96 500.11h5.20l-2.60 -4.40zM285.25 500.09h5.20l-2.60 -4.40zM285.54 500.07h5.20l-2.60 -4.40zM285.83 500.06h5.20l-2.60 -4.40zM286.12 500.04h5.20l-2.60 -4.40zM286.41 500.02h5.20l-2.60 -4.40zM286.70 500.00h5.20l-2.60 -4.40zM286.99 499.98h5.20l-2.60 -4.40zM287.28 499.97h5.20l-2.60 -4.40zM287.57 499.95h5.20l-2.60 -4.40zM287.86 499.93h5.20l-2.60 -4.40zM288.15 499.91h5.20l-2.60 -4.40zM288.44 499.90h5.20l-2.60 -4.40zM288.73 499.88h5.20l-2.60 -4.40zM289.02 499.86h5.20l-2.60 -4.40zM289.31 499.85h5.20l-2.60 -4.40zM289.60 499.83h5.20l-2.60 -4.40zM289.89 499.82h5.20l-2.60 -4.40zM290.18 499.80h5.20l-2.60 -4.40zM290.47 499.79h5.20l-2.60 -4.40zM290.76 499.77h5.20l-2.60 -4.40zM291.05 499.76h5.20l-2.60 -4.40zM291.33 499.74h5.20l-2.60 -4.40zM291.62 499.73h5.20l-2.60 -4.40zM291.91 499.72h5.20l-2.60 -4.40zM292.20 499.70h5.20l-2.60 -4.40zM292.49 499.69h5.20l-2.60 -4.40zM292.78 499.68h5.20l-2.60 -4.40zM293.07 499.66h5.20l-2.60 -4.40zM293.36 499.65h5.20l-2.60 -4.40zM293.65 499.64h5.20l-2.60 -4.40zM293.94 499.63h5.20l-2.60 -4.40zM294.23 499.62h5.20l-2.60 -4.40zM294.52 499.61h5.20l-2.60 -4.40zM294.81 499.60h5.20l-2.60 -4.40zM295.10 499.59h5.20l-2.60 -4.40zM295.39 499.58h5.20l-2.60 -4.40zM295.68 499.57h5.20l-2.60 -4.40zM295.96 499.56h5.20l-2.60 -4.40zM296.25 499.55h5.20l-2.60 -4.40zM296.54 499.54h5.20l-2.60 -4.40zM296.83 499.53h5.20l-2.60 -4.40zM297.12 499.52h5.20l-2.60 -4.40zM297.41 499.51h5.20l-2.60 -4.40zM297.70 499.50h5.20l-2.60 -4.40zM297.99 499.49h5.20l-2.60 -4.40zM298.28 499.48h5.20l-2.60 -4.40zM298.57 499.47h5.20l-2.60 -4.40zM298.86 499.46h5.20l-2.60 -4.40zM299.15 499.44h5.20l-2.60 -4.40zM299.44 499.43h5.20l-2.60 -4.40zM299.73 499.42h5.20l-2.60 -4.40zM300.02 499.41h5.20l-2.60 -4.40zM300.31 499.40h5.20l-2.60 -4.40zM300.60 499.39h5.20l-2.60 -4.40zM300.89 499.38h5.20l-2.60 -4.40zM301.18 499.37h5.20l-2.60 -4.40zM301.47 499.36h5.20l-2.60 -4.40zM301.76 499.35h5.20l-2.60 -4.40zM302.05 499.34h5.20l-2.60 -4.40zM302.34 499.33h5.20l-2.60 -4.40zM302.63 499.32h5.20l-2.60 -4.40zM302.92 499.31h5.20l-2.60 -4.40zM303.21 499.31h5.20l-2.60 -4.40zM303.50 499.30h5.20l-2.60 -4.40zM303.79 499.29h5.20l-2.60 -4.40zM304.08 499.28h5.20l-2.60 -4.40zM304.37 499.27h5.20l-2.60 -4.40zM304.66 499.26h5.20l-2.60 -4.40zM304.95 499.25h5.20l-2.60 -4.40zM305.24 499.24h5.20l-2.60 -4.40zM305.53 499.23h5.20l-2.60 -4.40zM305.82 499.22h5.20l-2.60 -4.40zM306.11 499.21h5.20l-2.60 -4.40zM306.40 499.21h5.20l-2.60 -4.40zM306.69 499.20h5.20l-2.60 -4.40zM306.98 499.19h5.20l-2.60 -4.40zM307.27 499.18h5.20l-2.60 -4.40zM307.56 499.17h5.20l-2.60 -4.40zM307.85 499.17h5.20l-2.60 -4.40zM308.14 499.16h5.20l-2.60 -4.40zM308.43 499.15h5.20l-2.60 -4.40zM308.72 499.14h5.20l-2.60 -4.40zM309.01 499.14h5.20l-2.60 -4.40zM309.30 499.13h5.20l-2.60 -4.40zM309.59 499.12h5.20l-2.60 -4.40zM309.88 499.11h5.20l-2.60 -4.40zM310.17 499.11h5.20l-2.60 -4.40zM310.46 499.10h5.20l-2.60 -4.40zM310.75 499.09h5.20l-2.60 -4.40zM311.04 499.09h5.20l-2.60 -4.40zM311.33 499.08h5.20l-2.60 -4.40zM311.62 499.08h5.20l-2.60 -4.40zM311.91 499.07h5.20l-2.60 -4.40zM312.20 499.07h5.20l-2.60 -4.40zM312.48 499.06h5.20l-2.60 -4.40zM312.77 499.05h5.20l-2.60 -4.40zM313.06 499.05h5.20l-2.60 -4.40zM313.35 499.05h5.20l-2.60 -4.40zM313.64 499.04h5.20l-2.60 -4.40zM313.93 499.04h5.20l-2.60 -4.40zM314.22 499.03h5.20l-2.60 -4.40zM314.51 499.03h5.20l-2.60 -4.40zM314.80 499.02h5.20l-2.60 -4.40zM315.09 499.02h5.20l-2.60 -4.40zM315.38 499.02h5.20l-2.60 -4.40zM315.67 499.01h5.20l-2.60 -4.40zM315.96 499.01h5.20l-2.60 -4.40zM316.25 499.01h5.20l-2.60 -4.40zM316.54 499.01h5.20l-2.60 -4.40zM316.83 499.00h5.20l-2.60 -4.40zM317.12 499.00h5.20l-2.60 -4.40zM317.41 499.00h5.20l-2.60 -4.40zM317.70 499.00h5.20l-2.60 -4.40zM317.99 499.00h5.20l-2.60 -4.40zM318.27 499.00h5.20l-2.60 -4.40zM318.56 499.00h5.20l-2.60 -4.40zM318.85 499.00h5.20l-2.60 -4.40zM319.14 499.00h5.20l-2.60 -4.40zM319.43 499.00h5.20l-2.60 -4.40zM319.72 499.00h5.20l-2.60 -4.40zM320.01 499.00h5.20l-2.60 -4.40zM320.30 499.00h5.20l-2.60 -4.40zM320.59 499.00h5.20l-2.60 -4.40zM320.88 499.00h5.20l-2.60 -4.40zM321.17 499.00h5.20l-2.60 -4.40zM321.46 499.00h5.20l-2.60 -4.40zM321.74 499.00h5.20l-2.60 -4.40zM322.03 499.00h5.20l-2.60 -4.40zM322.32 499.00h5.20l-2.60 -4.40zM322.61 499.00h5.20l-2.60 -4.40zM322.90 499.00h5.20l-2.60 -4.40zM323.19 499.00h5.20l-2.60 -4.40zM323.48 499.01h5.20l-2.60 -4.40zM323.77 499.01h5.20l-2.60 -4.40zM324.06 499.01h5.20l-2.60 -4.40zM324.35 499.02h5.20l-2.60 -4.40zM324.63 499.02h5.20l-2.60 -4.40zM324.92 499.03h5.20l-2.60 -4.40zM325.21 499.03h5.20l-2.60 -4.40zM325.50 499.04h5.20l-2.60 -4.40zM325.79 499.04h5.20l-2.60 -4.40zM326.08 499.05h5.20l-2.60 -4.40zM326.37 499.06h5.20l-2.60 -4.40zM326.66 499.07h5.20l-2.60 -4.40zM326.95 499.07h5.20l-2.60 -4.40zM327.24 499.08h5.20l-2.60 -4.40zM327.53 499.09h5.20l-2.60 -4.40zM327.82 499.10h5.20l-2.60 -4.40zM328.11 499.10h5.20l-2.60 -4.40zM328.40 499.11h5.20l-2.60 -4.40zM328.69 499.12h5.20l-2.60 -4.40zM328.98 499.13h5.20l-2.60 -4.40zM329.27 499.14h5.20l-2.60 -4.40zM329.56 499.15h5.20l-2.60 -4.40zM329.85 499.16h5.20l-2.60 -4.40zM330.14 499.17h5.20l-2.60 -4.40zM330.43 499.18h5.20l-2.60 -4.40zM330.72 499.19h5.20l-2.60 -4.40zM331.00 499.20h5.20l-2.60 -4.40zM331.29 499.21h5.20l-2.60 -4.40zM331.58 499.22h5.20l-2.60 -4.40zM331.87 499.23h5.20l-2.60 -4.40zM332.16 499.24h5.20l-2.60 -4.40zM332.45 499.25h5.20l-2.60 -4.40zM332.74 499.26h5.20l-2.60 -4.40zM333.03 499.28h5.20l-2.60 -4.40zM333.32 499.29h5.20l-2.60 -4.40zM333.61 499.30h5.20l-2.60 -4.40zM333.90 499.31h5.20l-2.60 -4.40zM334.20 499.32h5.20l-2.60 -4.40zM334.49 499.33h5.20l-2.60 -4.40zM334.78 499.34h5.20l-2.60 -4.40zM335.07 499.35h5.20l-2.60 -4.40zM335.36 499.36h5.20l-2.60 -4.40zM335.65 499.37h5.20l-2.60 -4.40zM335.94 499.38h5.20l-2.60 -4.40zM336.23 499.39h5.20l-2.60 -4.40zM336.52 499.40h5.20l-2.60 -4.40zM336.81 499.41h5.20l-2.60 -4.40zM337.10 499.42h5.20l-2.60 -4.40zM337.39 499.43h5.20l-2.60 -4.40zM337.68 499.44h5.20l-2.60 -4.40zM337.97 499.45h5.20l-2.60 -4.40zM338.26 499.46h5.20l-2.60 -4.40zM338.55 499.47h5.20l-2.60 -4.40zM338.84 499.48h5.20l-2.60 -4.40zM339.13 499.49h5.20l-2.60 -4.40zM339.42 499.50h5.20l-2.60 -4.40zM339.71 499.51h5.20l-2.60 -4.40zM340.00 499.52h5.20l-2.60 -4.40zM340.29 499.52h5.20l-2.60 -4.40zM340.59 499.53h5.20l-2.60 -4.40zM340.88 499.54h5.20l-2.60 -4.40zM341.17 499.55h5.20l-2.60 -4.40zM341.46 499.55h5.20l-2.60 -4.40zM341.75 499.56h5.20l-2.60 -4.40zM342.04 499.57h5.20l-2.60 -4.40zM342.33 499.57h5.20l-2.60 -4.40zM342.62 499.58h5.20l-2.60 -4.40zM342.91 499.58h5.20l-2.60 -4.40zM343.20 499.59h5.20l-2.60 -4.40zM343.50 499.59h5.20l-2.60 -4.40zM343.79 499.59h5.20l-2.60 -4.40zM344.08 499.60h5.20l-2.60 -4.40zM344.37 499.60h5.20l-2.60 -4.40zM344.66 499.60h5.20l-2.60 -4.40zM344.95 499.59h5.20l-2.60 -4.40zM345.25 499.58h5.20l-2.60 -4.40zM345.54 499.57h5.20l-2.60 -4.40zM345.83 499.57h5.20l-2.60 -4.40zM346.12 499.56h5.20l-2.60 -4.40zM346.42 499.54h5.20l-2.60 -4.40zM346.71 499.53h5.20l-2.60 -4.40zM347.00 499.52h5.20l-2.60 -4.40zM347.29 499.50h5.20l-2.60 -4.40zM347.59 499.49h5.20l-2.60 -4.40zM347.88 499.47h5.20l-2.60 -4.40zM348.17 499.46h5.20l-2.60 -4.40zM348.46 499.44h5.20l-2.60 -4.40zM348.75 499.42h5.20l-2.60 -4.40zM349.04 499.40h5.20l-2.60 -4.40zM349.34 499.39h5.20l-2.60 -4.40zM349.63 499.37h5.20l-2.60 -4.40zM349.92 499.35h5.20l-2.60 -4.40zM350.21 499.32h5.20l-2.60 -4.40zM350.50 499.30h5.20l-2.60 -4.40zM350.79 499.28h5.20l-2.60 -4.40zM351.08 499.26h5.20l-2.60 -4.40zM351.38 499.23h5.20l-2.60 -4.40zM351.67 499.21h5.20l-2.60 -4.40zM351.96 499.19h5.20l-2.60 -4.40zM352.25 499.16h5.20l-2.60 -4.40zM352.54 499.14h5.20l-2.60 -4.40zM352.83 499.11h5.20l-2.60 -4.40zM353.12 499.09h5.20l-2.60 -4.40zM353.41 499.06h5.20l-2.60 -4.40zM353.70 499.03h5.20l-2.60 -4.40zM353.99 499.01h5.20l-2.60 -4.40zM354.28 498.98h5.20l-2.60 -4.40zM354.57 498.95h5.20l-2.60 -4.40zM354.86 498.92h5.20l-2.60 -4.40zM355.16 498.90h5.20l-2.60 -4.40zM355.45 498.87h5.20l-2.60 -4.40zM355.74 498.84h5.20l-2.60 -4.40zM356.03 498.81h5.20l-2.60 -4.40zM356.32 498.79h5.20l-2.60 -4.40zM356.61 498.76h5.20l-2.60 -4.40zM356.90 498.73h5.20l-2.60 -4.40zM357.19 498.70h5.20l-2.60 -4.40zM357.48 498.67h5.20l-2.60 -4.40zM357.77 498.65h5.20l-2.60 -4.40zM358.06 498.62h5.20l-2.60 -4.40zM358.35 498.59h5.20l-2.60 -4.40zM358.64 498.56h5.20l-2.60 -4.40zM358.93 498.53h5.20l-2.60 -4.40zM359.22 498.51h5.20l-2.60 -4.40zM359.51 498.48h5.20l-2.60 -4.40zM359.80 498.45h5.20l-2.60 -4.40zM360.09 498.43h5.20l-2.60 -4.40zM360.38 498.40h5.20l-2.60 -4.40zM360.67 498.37h5.20l-2.60 -4.40zM360.96 498.34h5.20l-2.60 -4.40zM361.25 498.30h5.20l-2.60 -4.40zM361.54 498.27h5.20l-2.60 -4.40zM361.83 498.23h5.20l-2.60 -4.40zM362.13 498.19h5.20l-2.60 -4.40zM362.42 498.15h5.20l-2.60 -4.40zM362.71 498.11h5.20l-2.60 -4.40zM363.00 498.07h5.20l-2.60 -4.40zM363.29 498.03h5.20l-2.60 -4.40zM363.58 497.98h5.20l-2.60 -4.40zM363.87 497.94h5.20l-2.60 -4.40zM364.17 497.90h5.20l-2.60 -4.40zM364.46 497.85h5.20l-2.60 -4.40zM364.75 497.81h5.20l-2.60 -4.40zM365.04 497.76h5.20l-2.60 -4.40zM365.33 497.71h5.20l-2.60 -4.40zM365.62 497.67h5.20l-2.60 -4.40zM365.91 497.62h5.20l-2.60 -4.40zM366.20 497.57h5.20l-2.60 -4.40zM366.49 497.52h5.20l-2.60 -4.40zM366.78 497.48h5.20l-2.60 -4.40zM367.07 497.43h5.20l-2.60 -4.40zM367.36 497.38h5.20l-2.60 -4.40zM367.65 497.33h5.20l-2.60 -4.40zM367.94 497.28h5.20l-2.60 -4.40zM368.23 497.23h5.20l-2.60 -4.40zM368.52 497.18h5.20l-2.60 -4.40zM368.81 497.13h5.20l-2.60 -4.40zM369.10 497.08h5.20l-2.60 -4.40zM369.39 497.03h5.20l-2.60 -4.40zM369.68 496.99h5.20l-2.60 -4.40zM369.97 496.94h5.20l-2.60 -4.40zM370.26 496.89h5.20l-2.60 -4.40zM370.55 496.84h5.20l-2.60 -4.40zM370.84 496.79h5.20l-2.60 -4.40zM371.13 496.74h5.20l-2.60 -4.40zM371.42 496.70h5.20l-2.60 -4.40zM371.71 496.65h5.20l-2.60 -4.40zM372.00 496.60h5.20l-2.60 -4.40zM372.29 496.56h5.20l-2.60 -4.40zM372.58 496.51h5.20l-2.60 -4.40zM372.87 496.47h5.20l-2.60 -4.40zM373.16 496.42h5.20l-2.60 -4.40zM373.45 496.38h5.20l-2.60 -4.40zM373.74 496.33h5.20l-2.60 -4.40zM374.03 496.29h5.20l-2.60 -4.40zM374.32 496.25h5.20l-2.60 -4.40zM374.61 496.21h5.20l-2.60 -4.40zM374.90 496.17h5.20l-2.60 -4.40zM375.19 496.13h5.20l-2.60 -4.40zM375.48 496.09h5.20l-2.60 -4.40zM375.77 496.06h5.20l-2.60 -4.40zM376.05 496.02h5.20l-2.60 -4.40zM376.34 495.99h5.20l-2.60 -4.40zM376.63 495.95h5.20l-2.60 -4.40zM376.92 495.92h5.20l-2.60 -4.40zM377.21 495.88h5.20l-2.60 -4.40zM377.50 495.83h5.20l-2.60 -4.40zM377.79 495.79h5.20l-2.60 -4.40zM378.08 495.75h5.20l-2.60 -4.40zM378.38 495.71h5.20l-2.60 -4.40zM378.67 495.66h5.20l-2.60 -4.40zM378.96 495.62h5.20l-2.60 -4.40zM379.25 495.58h5.20l-2.60 -4.40zM379.54 495.53h5.20l-2.60 -4.40zM379.83 495.49h5.20l-2.60 -4.40zM380.12 495.44h5.20l-2.60 -4.40zM380.41 495.40h5.20l-2.60 -4.40zM380.70 495.35h5.20l-2.60 -4.40zM380.99 495.31h5.20l-2.60 -4.40zM381.28 495.27h5.20l-2.60 -4.40zM381.57 495.22h5.20l-2.60 -4.40zM381.86 495.18h5.20l-2.60 -4.40zM382.15 495.14h5.20l-2.60 -4.40zM382.44 495.10h5.20l-2.60 -4.40zM382.73 495.05h5.20l-2.60 -4.40zM383.02 495.01h5.20l-2.60 -4.40zM383.31 494.97h5.20l-2.60 -4.40zM383.60 494.93h5.20l-2.60 -4.40zM383.89 494.89h5.20l-2.60 -4.40zM384.18 494.85h5.20l-2.60 -4.40zM384.47 494.82h5.20l-2.60 -4.40zM384.75 494.78h5.20l-2.60 -4.40zM385.04 494.74h5.20l-2.60 -4.40zM385.33 494.71h5.20l-2.60 -4.40zM385.62 494.67h5.20l-2.60 -4.40zM385.91 494.64h5.20l-2.60 -4.40zM386.20 494.61h5.20l-2.60 -4.40zM386.49 494.58h5.20l-2.60 -4.40zM386.78 494.55h5.20l-2.60 -4.40zM387.07 494.52h5.20l-2.60 -4.40zM387.35 494.49h5.20l-2.60 -4.40zM387.64 494.47h5.20l-2.60 -4.40zM387.93 494.44h5.20l-2.60 -4.40zM388.22 494.42h5.20l-2.60 -4.40zM388.51 494.40h5.20l-2.60 -4.40zM388.79 494.38h5.20l-2.60 -4.40zM389.08 494.36h5.20l-2.60 -4.40zM389.37 494.34h5.20l-2.60 -4.40zM389.66 494.33h5.20l-2.60 -4.40zM389.94 494.32h5.20l-2.60 -4.40zM390.23 494.30h5.20l-2.60 -4.40zM390.52 494.30h5.20l-2.60 -4.40zM390.80 494.29h5.20l-2.60 -4.40zM391.09 494.28h5.20l-2.60 -4.40zM391.38 494.28h5.20l-2.60 -4.40zM391.66 494.28h5.20l-2.60 -4.40zM391.95 494.28h5.20l-2.60 -4.40zM392.23 494.28h5.20l-2.60 -4.40zM392.52 494.29h5.20l-2.60 -4.40zM392.80 494.30h5.20l-2.60 -4.40zM393.09 494.30h5.20l-2.60 -4.40zM393.38 494.29h5.20l-2.60 -4.40zM393.66 494.29h5.20l-2.60 -4.40zM393.95 494.29h5.20l-2.60 -4.40zM394.24 494.29h5.20l-2.60 -4.40zM394.53 494.29h5.20l-2.60 -4.40zM394.82 494.29h5.20l-2.60 -4.40zM395.10 494.30h5.20l-2.60 -4.40zM395.39 494.30h5.20l-2.60 -4.40zM395.68 494.30h5.20l-2.60 -4.40zM395.97 494.31h5.20l-2.60 -4.40zM396.26 494.32h5.20l-2.60 -4.40zM396.55 494.32h5.20l-2.60 -4.40zM396.84 494.33h5.20l-2.60 -4.40zM397.13 494.34h5.20l-2.60 -4.40zM397.41 494.35h5.20l-2.60 -4.40zM397.70 494.36h5.20l-2.60 -4.40zM397.99 494.37h5.20l-2.60 -4.40zM398.28 494.38h5.20l-2.60 -4.40zM398.57 494.39h5.20l-2.60 -4.40zM398.86 494.40h5.20l-2.60 -4.40zM399.15 494.41h5.20l-2.60 -4.40zM399.44 494.42h5.20l-2.60 -4.40zM399.73 494.43h5.20l-2.60 -4.40zM400.02 494.45h5.20l-2.60 -4.40zM400.31 494.46h5.20l-2.60 -4.40zM400.60 494.47h5.20l-2.60 -4.40zM400.89 494.49h5.20l-2.60 -4.40zM401.18 494.50h5.20l-2.60 -4.40zM401.47 494.51h5.20l-2.60 -4.40zM401.76 494.53h5.20l-2.60 -4.40zM402.05 494.54h5.20l-2.60 -4.40zM402.34 494.56h5.20l-2.60 -4.40zM402.63 494.57h5.20l-2.60 -4.40zM402.92 494.58h5.20l-2.60 -4.40zM403.21 494.60h5.20l-2.60 -4.40zM403.50 494.61h5.20l-2.60 -4.40zM403.79 494.62h5.20l-2.60 -4.40zM404.08 494.64h5.20l-2.60 -4.40zM404.37 494.65h5.20l-2.60 -4.40zM404.66 494.66h5.20l-2.60 -4.40zM404.96 494.68h5.20l-2.60 -4.40zM405.25 494.69h5.20l-2.60 -4.40zM405.54 494.70h5.20l-2.60 -4.40zM405.83 494.71h5.20l-2.60 -4.40zM406.12 494.72h5.20l-2.60 -4.40zM406.41 494.73h5.20l-2.60 -4.40zM406.70 494.74h5.20l-2.60 -4.40zM407.00 494.75h5.20l-2.60 -4.40zM407.29 494.76h5.20l-2.60 -4.40zM407.58 494.77h5.20l-2.60 -4.40zM407.87 494.78h5.20l-2.60 -4.40zM408.16 494.78h5.20l-2.60 -4.40zM408.46 494.79h5.20l-2.60 -4.40zM408.75 494.80h5.20l-2.60 -4.40zM409.04 494.80h5.20l-2.60 -4.40zM409.33 494.80h5.20l-2.60 -4.40zM409.62 494.80h5.20l-2.60 -4.40zM409.91 494.80h5.20l-2.60 -4.40zM410.20 494.80h5.20l-2.60 -4.40zM410.49 494.80h5.20l-2.60 -4.40zM410.78 494.80h5.20l-2.60 -4.40zM411.07 494.79h5.20l-2.60 -4.40zM411.36 494.79h5.20l-2.60 -4.40zM411.65 494.79h5.20l-2.60 -4.40zM411.94 494.79h5.20l-2.60 -4.40zM412.23 494.79h5.20l-2.60 -4.40zM412.52 494.79h5.20l-2.60 -4.40zM412.81 494.79h5.20l-2.60 -4.40zM413.10 494.78h5.20l-2.60 -4.40zM413.39 494.78h5.20l-2.60 -4.40zM413.68 494.78h5.20l-2.60 -4.40zM413.97 494.78h5.20l-2.60 -4.40zM414.26 494.78h5.20l-2.60 -4.40zM414.55 494.77h5.20l-2.60 -4.40zM414.85 494.77h5.20l-2.60 -4.40zM415.14 494.77h5.20l-2.60 -4.40zM415.43 494.77h5.20l-2.60 -4.40zM415.72 494.76h5.20l-2.60 -4.40zM416.01 494.76h5.20l-2.60 -4.40zM416.30 494.76h5.20l-2.60 -4.40zM416.59 494.75h5.20l-2.60 -4.40zM416.88 494.75h5.20l-2.60 -4.40zM417.17 494.75h5.20l-2.60 -4.40zM417.46 494.74h5.20l-2.60 -4.40zM417.75 494.74h5.20l-2.60 -4.40zM418.04 494.74h5.20l-2.60 -4.40zM418.33 494.73h5.20l-2.60 -4.40zM418.62 494.73h5.20l-2.60 -4.40zM418.91 494.72h5.20l-2.60 -4.40zM419.20 494.72h5.20l-2.60 -4.40zM419.49 494.72h5.20l-2.60 -4.40zM419.78 494.71h5.20l-2.60 -4.40zM420.07 494.71h5.20l-2.60 -4.40zM420.36 494.70h5.20l-2.60 -4.40zM420.65 494.70h5.20l-2.60 -4.40zM420.94 494.69h5.20l-2.60 -4.40zM421.23 494.69h5.20l-2.60 -4.40zM421.52 494.68h5.20l-2.60 -4.40zM421.81 494.68h5.20l-2.60 -4.40zM422.10 494.67h5.20l-2.60 -4.40zM422.39 494.66h5.20l-2.60 -4.40zM422.68 494.66h5.20l-2.60 -4.40zM422.97 494.65h5.20l-2.60 -4.40zM423.26 494.65h5.20l-2.60 -4.40zM423.55 494.64h5.20l-2.60 -4.40zM423.84 494.63h5.20l-2.60 -4.40zM424.13 494.63h5.20l-2.60 -4.40zM424.42 494.62h5.20l-2.60 -4.40zM424.71 494.62h5.20l-2.60 -4.40zM425.01 494.61h5.20l-2.60 -4.40zM425.30 494.60h5.20l-2.60 -4.40zM425.59 494.59h5.20l-2.60 -4.40zM425.88 494.59h5.20l-2.60 -4.40zM426.17 494.58h5.20l-2.60 -4.40zM426.46 494.57h5.20l-2.60 -4.40zM426.75 494.55h5.20l-2.60 -4.40zM427.06 494.51h5.20l-2.60 -4.40zM427.36 494.46h5.20l-2.60 -4.40zM427.66 494.41h5.20l-2.60 -4.40zM427.95 494.36h5.20l-2.60 -4.40zM428.25 494.30h5.20l-2.60 -4.40zM428.55 494.23h5.20l-2.60 -4.40zM428.84 494.17h5.20l-2.60 -4.40zM429.14 494.09h5.20l-2.60 -4.40zM429.43 494.02h5.20l-2.60 -4.40zM429.72 493.94h5.20l-2.60 -4.40zM430.01 493.86h5.20l-2.60 -4.40zM430.30 493.78h5.20l-2.60 -4.40zM430.60 493.70h5.20l-2.60 -4.40zM430.89 493.61h5.20l-2.60 -4.40zM431.18 493.52h5.20l-2.60 -4.40zM431.47 493.43h5.20l-2.60 -4.40zM431.76 493.34h5.20l-2.60 -4.40zM432.05 493.25h5.20l-2.60 -4.40zM432.33 493.15h5.20l-2.60 -4.40zM432.62 493.06h5.20l-2.60 -4.40zM432.91 492.96h5.20l-2.60 -4.40zM433.20 492.87h5.20l-2.60 -4.40zM433.49 492.77h5.20l-2.60 -4.40zM433.78 492.68h5.20l-2.60 -4.40zM434.07 492.58h5.20l-2.60 -4.40zM434.36 492.49h5.20l-2.60 -4.40zM434.65 492.40h5.20l-2.60 -4.40zM434.94 492.30h5.20l-2.60 -4.40zM435.23 492.19h5.20l-2.60 -4.40zM435.52 492.07h5.20l-2.60 -4.40zM435.80 491.93h5.20l-2.60 -4.40zM436.09 491.80h5.20l-2.60 -4.40zM436.37 491.65h5.20l-2.60 -4.40zM436.65 491.51h5.20l-2.60 -4.40zM436.93 491.36h5.20l-2.60 -4.40zM437.22 491.20h5.20l-2.60 -4.40zM437.50 491.04h5.20l-2.60 -4.40zM437.78 490.88h5.20l-2.60 -4.40zM438.06 490.72h5.20l-2.60 -4.40zM438.35 490.55h5.20l-2.60 -4.40zM438.63 490.38h5.20l-2.60 -4.40zM438.91 490.20h5.20l-2.60 -4.40zM439.20 490.03h5.20l-2.60 -4.40zM439.48 489.85h5.20l-2.60 -4.40zM439.76 489.67h5.20l-2.60 -4.40zM440.05 489.49h5.20l-2.60 -4.40zM440.33 489.30h5.20l-2.60 -4.40zM440.62 489.11h5.20l-2.60 -4.40zM440.90 488.93h5.20l-2.60 -4.40zM441.19 488.74h5.20l-2.60 -4.40zM441.47 488.54h5.20l-2.60 -4.40zM441.75 488.34h5.20l-2.60 -4.40zM442.03 488.13h5.20l-2.60 -4.40zM442.30 487.91h5.20l-2.60 -4.40zM442.58 487.69h5.20l-2.60 -4.40zM442.85 487.46h5.20l-2.60 -4.40zM443.13 487.22h5.20l-2.60 -4.40zM443.41 486.98h5.20l-2.60 -4.40zM443.68 486.74h5.20l-2.60 -4.40zM443.96 486.49h5.20l-2.60 -4.40zM444.24 486.23h5.20l-2.60 -4.40zM444.52 485.98h5.20l-2.60 -4.40zM444.79 485.71h5.20l-2.60 -4.40zM445.07 485.45h5.20l-2.60 -4.40zM445.35 485.17h5.20l-2.60 -4.40zM445.63 484.90h5.20l-2.60 -4.40zM445.91 484.62h5.20l-2.60 -4.40zM446.19 484.34h5.20l-2.60 -4.40zM446.47 484.05h5.20l-2.60 -4.40zM446.75 483.76h5.20l-2.60 -4.40zM447.03 483.46h5.20l-2.60 -4.40zM447.31 483.16h5.20l-2.60 -4.40zM447.58 482.85h5.20l-2.60 -4.40zM447.85 482.53h5.20l-2.60 -4.40zM448.13 482.21h5.20l-2.60 -4.40zM448.40 481.87h5.20l-2.60 -4.40zM448.67 481.53h5.20l-2.60 -4.40zM448.95 481.18h5.20l-2.60 -4.40zM449.22 480.83h5.20l-2.60 -4.40zM449.50 480.47h5.20l-2.60 -4.40zM449.77 480.10h5.20l-2.60 -4.40zM450.05 479.72h5.20l-2.60 -4.40zM450.33 479.34h5.20l-2.60 -4.40zM450.61 478.96h5.20l-2.60 -4.40zM450.89 478.56h5.20l-2.60 -4.40zM451.17 478.17h5.20l-2.60 -4.40zM451.45 477.76h5.20l-2.60 -4.40zM451.73 477.35h5.20l-2.60 -4.40zM452.01 476.94h5.20l-2.60 -4.40zM452.28 476.52h5.20l-2.60 -4.40zM452.55 476.08h5.20l-2.60 -4.40zM452.83 475.64h5.20l-2.60 -4.40zM453.10 475.18h5.20l-2.60 -4.40zM453.38 474.72h5.20l-2.60 -4.40zM453.66 474.25h5.20l-2.60 -4.40zM453.94 473.77h5.20l-2.60 -4.40zM454.22 473.28h5.20l-2.60 -4.40zM454.51 472.80h5.20l-2.60 -4.40zM454.81 472.30h5.20l-2.60 -4.40zM455.10 471.80h5.20l-2.60 -4.40zM455.39 471.29h5.20l-2.60 -4.40zM455.69 470.78h5.20l-2.60 -4.40zM455.98 470.26h5.20l-2.60 -4.40zM456.27 469.74h5.20l-2.60 -4.40zM456.56 469.22h5.20l-2.60 -4.40zM456.85 468.69h5.20l-2.60 -4.40zM457.14 468.15h5.20l-2.60 -4.40zM457.43 467.62h5.20l-2.60 -4.40zM457.73 467.09h5.20l-2.60 -4.40zM458.02 466.56h5.20l-2.60 -4.40zM458.32 466.02h5.20l-2.60 -4.40zM458.62 465.46h5.20l-2.60 -4.40zM458.92 464.90h5.20l-2.60 -4.40zM459.22 464.31h5.20l-2.60 -4.40zM459.53 463.70h5.20l-2.60 -4.40zM459.83 463.07h5.20l-2.60 -4.40zM460.15 462.41h5.20l-2.60 -4.40zM460.47 461.70h5.20l-2.60 -4.40zM460.78 460.91h5.20l-2.60 -4.40zM461.09 460.07h5.20l-2.60 -4.40zM461.38 459.21h5.20l-2.60 -4.40zM461.67 458.33h5.20l-2.60 -4.40zM461.95 457.45h5.20l-2.60 -4.40zM462.23 456.61h5.20l-2.60 -4.40zM462.50 455.80h5.20l-2.60 -4.40zM462.77 455.03h5.20l-2.60 -4.40zM463.05 454.29h5.20l-2.60 -4.40zM463.33 453.57h5.20l-2.60 -4.40zM463.62 452.87h5.20l-2.60 -4.40zM463.91 452.17h5.20l-2.60 -4.40zM464.21 451.48h5.20l-2.60 -4.40zM464.50 450.77h5.20l-2.60 -4.40zM464.81 450.05h5.20l-2.60 -4.40zM465.11 449.30h5.20l-2.60 -4.40zM465.42 448.52h5.20l-2.60 -4.40zM465.73 447.70h5.20l-2.60 -4.40zM466.04 446.82h5.20l-2.60 -4.40zM466.35 445.89h5.20l-2.60 -4.40zM466.66 444.89h5.20l-2.60 -4.40zM466.97 443.83h5.20l-2.60 -4.40zM467.27 442.73h5.20l-2.60 -4.40zM467.57 441.58h5.20l-2.60 -4.40zM467.87 440.39h5.20l-2.60 -4.40zM468.16 439.17h5.20l-2.60 -4.40zM468.46 437.94h5.20l-2.60 -4.40zM468.75 436.69h5.20l-2.60 -4.40zM469.04 435.44h5.20l-2.60 -4.40zM469.33 434.18h5.20l-2.60 -4.40zM469.61 432.93h5.20l-2.60 -4.40zM469.90 431.70h5.20l-2.60 -4.40zM470.19 430.48h5.20l-2.60 -4.40zM470.48 429.25h5.20l-2.60 -4.40zM470.78 428.01h5.20l-2.60 -4.40zM471.07 426.76h5.20l-2.60 -4.40zM471.36 425.50h5.20l-2.60 -4.40zM471.65 424.23h5.20l-2.60 -4.40zM471.94 422.95h5.20l-2.60 -4.40zM472.24 421.67h5.20l-2.60 -4.40zM472.53 420.37h5.20l-2.60 -4.40zM472.82 419.07h5.20l-2.60 -4.40zM473.11 417.75h5.20l-2.60 -4.40zM473.40 416.42h5.20l-2.60 -4.40zM473.69 415.10h5.20l-2.60 -4.40zM473.98 413.77h5.20l-2.60 -4.40zM474.28 412.44h5.20l-2.60 -4.40zM474.57 411.10h5.20l-2.60 -4.40zM474.86 409.75h5.20l-2.60 -4.40zM475.16 408.38h5.20l-2.60 -4.40zM475.45 406.99h5.20l-2.60 -4.40zM475.74 405.57h5.20l-2.60 -4.40zM476.04 404.13h5.20l-2.60 -4.40zM476.34 402.65h5.20l-2.60 -4.40zM476.63 401.13h5.20l-2.60 -4.40zM476.92 399.59h5.20l-2.60 -4.40zM477.22 398.03h5.20l-2.60 -4.40zM477.51 396.46h5.20l-2.60 -4.40zM477.80 394.88h5.20l-2.60 -4.40zM478.09 393.29h5.20l-2.60 -4.40zM478.38 391.68h5.20l-2.60 -4.40zM478.68 390.07h5.20l-2.60 -4.40zM478.97 388.43h5.20l-2.60 -4.40zM479.26 386.79h5.20l-2.60 -4.40zM479.55 385.14h5.20l-2.60 -4.40zM479.84 383.47h5.20l-2.60 -4.40zM480.13 381.79h5.20l-2.60 -4.40zM480.43 380.10h5.20l-2.60 -4.40zM480.72 378.40h5.20l-2.60 -4.40zM481.01 376.69h5.20l-2.60 -4.40zM481.30 374.96h5.20l-2.60 -4.40zM481.59 373.22h5.20l-2.60 -4.40zM481.88 371.48h5.20l-2.60 -4.40zM482.18 369.72h5.20l-2.60 -4.40zM482.47 367.95h5.20l-2.60 -4.40zM482.76 366.17h5.20l-2.60 -4.40zM483.05 364.38h5.20l-2.60 -4.40zM483.34 362.57h5.20l-2.60 -4.40zM483.63 360.76h5.20l-2.60 -4.40zM483.92 358.94h5.20l-2.60 -4.40zM484.21 357.10h5.20l-2.60 -4.40zM484.51 355.26h5.20l-2.60 -4.40zM484.80 353.40h5.20l-2.60 -4.40zM485.09 351.54h5.20l-2.60 -4.40zM485.38 349.67h5.20l-2.60 -4.40zM485.67 347.78h5.20l-2.60 -4.40zM485.96 345.89h5.20l-2.60 -4.40zM486.25 343.98h5.20l-2.60 -4.40zM486.54 342.07h5.20l-2.60 -4.40zM486.83 340.15h5.20l-2.60 -4.40zM487.13 338.21h5.20l-2.60 -4.40zM487.42 336.27h5.20l-2.60 -4.40zM487.71 334.32h5.20l-2.60 -4.40zM488.00 332.36h5.20l-2.60 -4.40zM488.29 330.39h5.20l-2.60 -4.40zM488.58 328.41h5.20l-2.60 -4.40zM488.87 326.43h5.20l-2.60 -4.40zM489.16 324.43h5.20l-2.60 -4.40zM489.45 322.43h5.20l-2.60 -4.40zM489.74 320.41h5.20l-2.60 -4.40zM490.03 318.39h5.20l-2.60 -4.40zM490.33 316.36h5.20l-2.60 -4.40zM490.62 314.33h5.20l-2.60 -4.40zM490.91 312.28h5.20l-2.60 -4.40zM491.20 310.23h5.20l-2.60 -4.40zM491.49 308.17h5.20l-2.60 -4.40zM491.78 306.10h5.20l-2.60 -4.40zM492.07 304.02h5.20l-2.60 -4.40zM492.36 301.94h5.20l-2.60 -4.40zM492.66 299.82h5.20l-2.60 -4.40zM492.95 297.64h5.20l-2.60 -4.40zM493.25 295.40h5.20l-2.60 -4.40zM493.54 293.11h5.20l-2.60 -4.40zM493.83 290.79h5.20l-2.60 -4.40zM494.12 288.45h5.20l-2.60 -4.40zM494.41 286.10h5.20l-2.60 -4.40zM494.70 283.76h5.20l-2.60 -4.40zM494.99 281.45h5.20l-2.60 -4.40zM495.28 279.14h5.20l-2.60 -4.40zM495.57 276.82h5.20l-2.60 -4.40zM495.86 274.50h5.20l-2.60 -4.40zM496.15 272.17h5.20l-2.60 -4.40zM496.44 269.83h5.20l-2.60 -4.40zM496.73 267.49h5.20l-2.60 -4.40zM497.02 265.15h5.20l-2.60 -4.40zM497.31 262.81h5.20l-2.60 -4.40zM497.60 260.46h5.20l-2.60 -4.40zM497.89 258.12h5.20l-2.60 -4.40zM498.18 255.79h5.20l-2.60 -4.40zM498.47 253.46h5.20l-2.60 -4.40zM498.76 251.14h5.20l-2.60 -4.40zM499.05 248.83h5.20l-2.60 -4.40zM499.34 246.53h5.20l-2.60 -4.40zM499.63 244.25h5.20l-2.60 -4.40zM499.92 241.97h5.20l-2.60 -4.40zM500.21 239.71h5.20l-2.60 -4.40zM500.50 237.44h5.20l-2.60 -4.40zM500.78 235.18h5.20l-2.60 -4.40zM501.07 232.92h5.20l-2.60 -4.40zM501.36 230.67h5.20l-2.60 -4.40zM501.65 228.43h5.20l-2.60 -4.40zM501.94 226.19h5.20l-2.60 -4.40zM502.23 223.97h5.20l-2.60 -4.40zM502.52 221.76h5.20l-2.60 -4.40zM502.81 219.57h5.20l-2.60 -4.40zM503.10 217.40h5.20l-2.60 -4.40zM503.38 215.25h5.20l-2.60 -4.40zM503.67 213.12h5.20l-2.60 -4.40zM503.96 211.01h5.20l-2.60 -4.40zM504.25 208.91h5.20l-2.60 -4.40zM504.54 206.83h5.20l-2.60 -4.40zM504.83 204.76h5.20l-2.60 -4.40zM505.12 202.71h5.20l-2.60 -4.40zM505.41 200.66h5.20l-2.60 -4.40zM505.69 198.63h5.20l-2.60 -4.40zM505.98 196.62h5.20l-2.60 -4.40zM506.27 194.61h5.20l-2.60 -4.40zM506.56 192.62h5.20l-2.60 -4.40zM506.85 190.65h5.20l-2.60 -4.40zM507.14 188.69h5.20l-2.60 -4.40zM507.43 186.74h5.20l-2.60 -4.40zM507.71 184.81h5.20l-2.60 -4.40zM508.00 182.89h5.20l-2.60 -4.40zM508.29 180.99h5.20l-2.60 -4.40zM508.58 179.11h5.20l-2.60 -4.40zM508.87 177.24h5.20l-2.60 -4.40zM509.15 175.39h5.20l-2.60 -4.40zM509.44 173.57h5.20l-2.60 -4.40zM509.73 171.76h5.20l-2.60 -4.40zM510.02 169.97h5.20l-2.60 -4.40zM510.31 168.20h5.20l-2.60 -4.40zM510.59 166.44h5.20l-2.60 -4.40zM510.88 164.69h5.20l-2.60 -4.40zM511.17 162.97h5.20l-2.60 -4.40zM511.46 161.25h5.20l-2.60 -4.40zM511.75 159.55h5.20l-2.60 -4.40zM512.03 157.87h5.20l-2.60 -4.40zM512.32 156.21h5.20l-2.60 -4.40zM512.61 154.56h5.20l-2.60 -4.40zM512.90 152.92h5.20l-2.60 -4.40zM513.19 151.29h5.20l-2.60 -4.40zM513.48 149.67h5.20l-2.60 -4.40zM513.76 148.05h5.20l-2.60 -4.40zM514.05 146.44h5.20l-2.60 -4.40zM514.34 144.85h5.20l-2.60 -4.40zM514.63 143.26h5.20l-2.60 -4.40zM514.92 141.68h5.20l-2.60 -4.40zM515.21 140.11h5.20l-2.60 -4.40zM515.50 138.54h5.20l-2.60 -4.40zM515.79 136.99h5.20l-2.60 -4.40zM516.07 135.44h5.20l-2.60 -4.40zM516.36 133.89h5.20l-2.60 -4.40zM516.66 132.34h5.20l-2.60 -4.40zM516.95 130.78h5.20l-2.60 -4.40zM517.25 129.17h5.20l-2.60 -4.40zM517.54 127.53h5.20l-2.60 -4.40zM517.83 125.87h5.20l-2.60 -4.40zM518.12 124.23h5.20l-2.60 -4.40zM518.40 122.62h5.20l-2.60 -4.40zM518.68 121.07h5.20l-2.60 -4.40zM518.95 119.60h5.20l-2.60 -4.40zM519.22 118.23h5.20l-2.60 -4.40zM519.48 116.99h5.20l-2.60 -4.40zM519.75 115.87h5.20l-2.60 -4.40zM520.03 114.79h5.20l-2.60 -4.40zM520.31 113.73h5.20l-2.60 -4.40zM520.59 112.70h5.20l-2.60 -4.40zM520.87 111.69h5.20l-2.60 -4.40zM521.15 110.71h5.20l-2.60 -4.40zM521.43 109.77h5.20l-2.60 -4.40zM521.71 108.85h5.20l-2.60 -4.40zM521.99 107.96h5.20l-2.60 -4.40zM522.26 107.11h5.20l-2.60 -4.40zM522.54 106.29h5.20l-2.60 -4.40zM522.81 105.50h5.20l-2.60 -4.40zM523.08 104.75h5.20l-2.60 -4.40zM523.35 104.03h5.20l-2.60 -4.40zM523.62 103.35h5.20l-2.60 -4.40zM523.88 102.70h5.20l-2.60 -4.40zM524.15 102.09h5.20l-2.60 -4.40zM524.41 101.52h5.20l-2.60 -4.40zM524.70 101.00h5.20l-2.60 -4.40zM525.03 100.53h5.20l-2.60 -4.40zM525.35 100.09h5.20l-2.60 -4.40zM525.69 99.68h5.20l-2.60 -4.40zM526.02 99.29h5.20l-2.60 -4.40zM526.35 98.93h5.20l-2.60 -4.40zM526.68 98.60h5.20l-2.60 -4.40zM527.02 98.29h5.20l-2.60 -4.40zM527.36 98.01h5.20l-2.60 -4.40zM527.68 97.75h5.20l-2.60 -4.40zM527.97 97.48h5.20l-2.60 -4.40zM528.26 97.19h5.20l-2.60 -4.40zM528.61 96.95h5.20l-2.60 -4.40zM529.05 96.87h5.20l-2.60 -4.40zM529.48 97.11h5.20l-2.60 -4.40zM529.61 97.35h5.20l-2.60 -4.40zM529.94 96.93h5.20l-2.60 -4.40zM530.40 96.89h5.20l-2.60 -4.40zM530.80 97.06h5.20l-2.60 -4.40zM531.12 97.33h5.20l-2.60 -4.40zM531.41 97.61h5.20l-2.60 -4.40zM531.75 97.88h5.20l-2.60 -4.40zM532.11 98.18h5.20l-2.60 -4.40zM532.47 98.53h5.20l-2.60 -4.40zM532.81 98.91h5.20l-2.60 -4.40zM533.16 99.33h5.20l-2.60 -4.40zM533.49 99.79h5.20l-2.60 -4.40zM533.79 100.30h5.20l-2.60 -4.40zM534.06 100.85h5.20l-2.60 -4.40zM534.33 101.44h5.20l-2.60 -4.40zM534.58 102.10h5.20l-2.60 -4.40zM534.83 102.83h5.20l-2.60 -4.40zM535.08 103.62h5.20l-2.60 -4.40zM535.34 104.47h5.20l-2.60 -4.40zM535.61 105.38h5.20l-2.60 -4.40zM535.89 106.33h5.20l-2.60 -4.40zM536.16 107.32h5.20l-2.60 -4.40zM536.44 108.35h5.20l-2.60 -4.40zM536.72 109.40h5.20l-2.60 -4.40zM537.01 110.48h5.20l-2.60 -4.40zM537.29 111.57h5.20l-2.60 -4.40zM537.58 112.67h5.20l-2.60 -4.40zM537.87 113.77h5.20l-2.60 -4.40zM538.17 114.86h5.20l-2.60 -4.40zM538.46 115.94h5.20l-2.60 -4.40zM538.75 117.00h5.20l-2.60 -4.40zM539.05 118.05h5.20l-2.60 -4.40zM539.33 119.11h5.20l-2.60 -4.40zM539.62 120.17h5.20l-2.60 -4.40zM539.91 121.24h5.20l-2.60 -4.40zM540.19 122.33h5.20l-2.60 -4.40zM540.47 123.44h5.20l-2.60 -4.40zM540.76 124.59h5.20l-2.60 -4.40zM541.04 125.76h5.20l-2.60 -4.40zM541.32 126.98h5.20l-2.60 -4.40zM541.60 128.24h5.20l-2.60 -4.40zM541.87 129.55h5.20l-2.60 -4.40zM542.15 130.92h5.20l-2.60 -4.40zM542.43 132.36h5.20l-2.60 -4.40zM542.70 133.92h5.20l-2.60 -4.40zM542.97 135.59h5.20l-2.60 -4.40zM543.25 137.36h5.20l-2.60 -4.40zM543.53 139.20h5.20l-2.60 -4.40zM543.82 141.10h5.20l-2.60 -4.40zM544.11 143.02h5.20l-2.60 -4.40zM544.40 144.96h5.20l-2.60 -4.40zM544.69 146.88h5.20l-2.60 -4.40zM544.98 148.80h5.20l-2.60 -4.40zM545.26 150.75h5.20l-2.60 -4.40zM545.55 152.73h5.20l-2.60 -4.40zM545.84 154.75h5.20l-2.60 -4.40zM546.12 156.78h5.20l-2.60 -4.40zM546.41 158.84h5.20l-2.60 -4.40zM546.70 160.91h5.20l-2.60 -4.40zM546.99 163.00h5.20l-2.60 -4.40zM547.28 165.10h5.20l-2.60 -4.40zM547.57 167.22h5.20l-2.60 -4.40zM547.85 169.36h5.20l-2.60 -4.40zM548.14 171.52h5.20l-2.60 -4.40zM548.43 173.71h5.20l-2.60 -4.40zM548.72 175.92h5.20l-2.60 -4.40zM549.01 178.16h5.20l-2.60 -4.40zM549.29 180.42h5.20l-2.60 -4.40zM549.58 182.71h5.20l-2.60 -4.40zM549.87 185.02h5.20l-2.60 -4.40zM550.16 187.34h5.20l-2.60 -4.40zM550.45 189.69h5.20l-2.60 -4.40zM550.74 192.05h5.20l-2.60 -4.40zM551.03 194.44h5.20l-2.60 -4.40zM551.31 196.84h5.20l-2.60 -4.40zM551.60 199.26h5.20l-2.60 -4.40zM551.89 201.69h5.20l-2.60 -4.40zM552.18 204.14h5.20l-2.60 -4.40zM552.47 206.61h5.20l-2.60 -4.40zM552.76 209.09h5.20l-2.60 -4.40zM553.05 211.59h5.20l-2.60 -4.40zM553.34 214.11h5.20l-2.60 -4.40zM553.62 216.66h5.20l-2.60 -4.40zM553.91 219.23h5.20l-2.60 -4.40zM554.20 221.83h5.20l-2.60 -4.40zM554.49 224.45h5.20l-2.60 -4.40zM554.78 227.08h5.20l-2.60 -4.40zM555.07 229.73h5.20l-2.60 -4.40zM555.36 232.39h5.20l-2.60 -4.40zM555.65 235.05h5.20l-2.60 -4.40zM555.94 237.73h5.20l-2.60 -4.40zM556.23 240.40h5.20l-2.60 -4.40zM556.52 243.07h5.20l-2.60 -4.40zM556.81 245.76h5.20l-2.60 -4.40zM557.10 248.46h5.20l-2.60 -4.40zM557.38 251.17h5.20l-2.60 -4.40zM557.67 253.90h5.20l-2.60 -4.40zM557.96 256.63h5.20l-2.60 -4.40zM558.25 259.37h5.20l-2.60 -4.40zM558.54 262.12h5.20l-2.60 -4.40zM558.83 264.86h5.20l-2.60 -4.40zM559.12 267.61h5.20l-2.60 -4.40zM559.41 270.35h5.20l-2.60 -4.40zM559.70 273.09h5.20l-2.60 -4.40zM559.99 275.81h5.20l-2.60 -4.40zM560.29 278.53h5.20l-2.60 -4.40zM560.58 281.23h5.20l-2.60 -4.40zM560.86 283.94h5.20l-2.60 -4.40zM561.15 286.66h5.20l-2.60 -4.40zM561.44 289.39h5.20l-2.60 -4.40zM561.74 292.10h5.20l-2.60 -4.40zM562.03 294.79h5.20l-2.60 -4.40zM562.32 297.43h5.20l-2.60 -4.40zM562.61 300.01h5.20l-2.60 -4.40zM562.91 302.52h5.20l-2.60 -4.40zM563.20 305.02h5.20l-2.60 -4.40zM563.49 307.50h5.20l-2.60 -4.40zM563.78 309.98h5.20l-2.60 -4.40zM564.07 312.44h5.20l-2.60 -4.40zM564.36 314.89h5.20l-2.60 -4.40zM564.65 317.34h5.20l-2.60 -4.40zM564.94 319.77h5.20l-2.60 -4.40zM565.23 322.19h5.20l-2.60 -4.40zM565.52 324.60h5.20l-2.60 -4.40zM565.82 326.99h5.20l-2.60 -4.40zM566.11 329.38h5.20l-2.60 -4.40zM566.40 331.75h5.20l-2.60 -4.40zM566.69 334.11h5.20l-2.60 -4.40zM566.98 336.45h5.20l-2.60 -4.40zM567.27 338.79h5.20l-2.60 -4.40zM567.56 341.10h5.20l-2.60 -4.40zM567.85 343.41h5.20l-2.60 -4.40zM568.14 345.70h5.20l-2.60 -4.40zM568.43 347.97h5.20l-2.60 -4.40zM568.73 350.24h5.20l-2.60 -4.40zM569.02 352.48h5.20l-2.60 -4.40zM569.31 354.71h5.20l-2.60 -4.40zM569.60 356.93h5.20l-2.60 -4.40zM569.89 359.13h5.20l-2.60 -4.40zM570.18 361.31h5.20l-2.60 -4.40zM570.47 363.47h5.20l-2.60 -4.40zM570.77 365.62h5.20l-2.60 -4.40zM571.06 367.76h5.20l-2.60 -4.40zM571.35 369.87h5.20l-2.60 -4.40zM571.64 371.97h5.20l-2.60 -4.40zM571.93 374.05h5.20l-2.60 -4.40zM572.22 376.11h5.20l-2.60 -4.40zM572.51 378.15h5.20l-2.60 -4.40zM572.81 380.17h5.20l-2.60 -4.40zM573.10 382.18h5.20l-2.60 -4.40zM573.39 384.13h5.20l-2.60 -4.40zM573.69 386.04h5.20l-2.60 -4.40zM573.98 387.92h5.20l-2.60 -4.40zM574.28 389.76h5.20l-2.60 -4.40zM574.57 391.57h5.20l-2.60 -4.40zM574.86 393.37h5.20l-2.60 -4.40zM575.15 395.16h5.20l-2.60 -4.40zM575.44 396.94h5.20l-2.60 -4.40zM575.73 398.71h5.20l-2.60 -4.40zM576.03 400.46h5.20l-2.60 -4.40zM576.32 402.20h5.20l-2.60 -4.40zM576.61 403.93h5.20l-2.60 -4.40zM576.90 405.64h5.20l-2.60 -4.40zM577.20 407.33h5.20l-2.60 -4.40zM577.49 409.00h5.20l-2.60 -4.40zM577.78 410.67h5.20l-2.60 -4.40zM578.07 412.31h5.20l-2.60 -4.40zM578.36 413.94h5.20l-2.60 -4.40zM578.66 415.56h5.20l-2.60 -4.40zM578.95 417.17h5.20l-2.60 -4.40zM579.24 418.76h5.20l-2.60 -4.40zM579.53 420.33h5.20l-2.60 -4.40zM579.82 421.90h5.20l-2.60 -4.40zM580.12 423.45h5.20l-2.60 -4.40zM580.41 424.99h5.20l-2.60 -4.40zM580.70 426.51h5.20l-2.60 -4.40zM580.99 428.03h5.20l-2.60 -4.40zM581.28 429.55h5.20l-2.60 -4.40zM581.57 431.08h5.20l-2.60 -4.40zM581.86 432.60h5.20l-2.60 -4.40zM582.15 434.10h5.20l-2.60 -4.40zM582.45 435.59h5.20l-2.60 -4.40zM582.74 437.04h5.20l-2.60 -4.40zM583.04 438.46h5.20l-2.60 -4.40zM583.34 439.84h5.20l-2.60 -4.40zM583.64 441.16h5.20l-2.60 -4.40zM583.94 442.43h5.20l-2.60 -4.40zM584.24 443.67h5.20l-2.60 -4.40zM584.54 444.87h5.20l-2.60 -4.40zM584.83 446.04h5.20l-2.60 -4.40zM585.13 447.19h5.20l-2.60 -4.40zM585.43 448.31h5.20l-2.60 -4.40zM585.72 449.41h5.20l-2.60 -4.40zM586.02 450.49h5.20l-2.60 -4.40zM586.31 451.56h5.20l-2.60 -4.40zM586.61 452.60h5.20l-2.60 -4.40zM586.90 453.64h5.20l-2.60 -4.40zM587.20 454.66h5.20l-2.60 -4.40zM587.49 455.68h5.20l-2.60 -4.40zM587.78 456.68h5.20l-2.60 -4.40zM588.07 457.68h5.20l-2.60 -4.40zM588.36 458.68h5.20l-2.60 -4.40zM588.66 459.66h5.20l-2.60 -4.40zM588.95 460.65h5.20l-2.60 -4.40zM589.24 461.62h5.20l-2.60 -4.40zM589.54 462.58h5.20l-2.60 -4.40zM589.83 463.53h5.20l-2.60 -4.40zM590.12 464.47h5.20l-2.60 -4.40zM590.42 465.40h5.20l-2.60 -4.40zM590.71 466.31h5.20l-2.60 -4.40zM591.01 467.21h5.20l-2.60 -4.40zM591.31 468.10h5.20l-2.60 -4.40zM591.60 468.96h5.20l-2.60 -4.40zM591.90 469.81h5.20l-2.60 -4.40zM592.20 470.64h5.20l-2.60 -4.40zM592.50 471.45h5.20l-2.60 -4.40zM592.80 472.24h5.20l-2.60 -4.40zM593.09 473.01h5.20l-2.60 -4.40zM593.39 473.77h5.20l-2.60 -4.40zM593.69 474.51h5.20l-2.60 -4.40zM593.98 475.25h5.20l-2.60 -4.40zM594.28 475.96h5.20l-2.60 -4.40zM594.58 476.66h5.20l-2.60 -4.40zM594.88 477.35h5.20l-2.60 -4.40zM595.18 478.02h5.20l-2.60 -4.40zM595.48 478.66h5.20l-2.60 -4.40zM595.78 479.29h5.20l-2.60 -4.40zM596.08 479.90h5.20l-2.60 -4.40zM596.38 480.48h5.20l-2.60 -4.40zM596.68 481.05h5.20l-2.60 -4.40zM596.98 481.60h5.20l-2.60 -4.40zM597.27 482.15h5.20l-2.60 -4.40zM597.57 482.69h5.20l-2.60 -4.40zM597.87 483.22h5.20l-2.60 -4.40zM598.16 483.74h5.20l-2.60 -4.40zM598.46 484.25h5.20l-2.60 -4.40zM598.75 484.75h5.20l-2.60 -4.40zM599.05 485.23h5.20l-2.60 -4.40zM599.33 485.72h5.20l-2.60 -4.40zM599.60 486.19h5.20l-2.60 -4.40zM599.87 486.66h5.20l-2.60 -4.40zM600.14 487.11h5.20l-2.60 -4.40zM600.41 487.55h5.20l-2.60 -4.40zM600.68 487.97h5.20l-2.60 -4.40zM600.94 488.39h5.20l-2.60 -4.40zM601.21 488.78h5.20l-2.60 -4.40zM601.47 489.17h5.20l-2.60 -4.40zM601.73 489.54h5.20l-2.60 -4.40zM601.99 489.89h5.20l-2.60 -4.40zM602.26 490.23h5.20l-2.60 -4.40zM602.53 490.57h5.20l-2.60 -4.40zM602.80 490.89h5.20l-2.60 -4.40zM603.07 491.21h5.20l-2.60 -4.40zM603.34 491.51h5.20l-2.60 -4.40zM603.61 491.81h5.20l-2.60 -4.40zM603.88 492.10h5.20l-2.60 -4.40zM604.15 492.38h5.20l-2.60 -4.40zM604.42 492.66h5.20l-2.60 -4.40zM604.70 492.92h5.20l-2.60 -4.40zM604.97 493.18h5.20l-2.60 -4.40zM605.25 493.44h5.20l-2.60 -4.40zM605.53 493.69h5.20l-2.60 -4.40zM605.81 493.93h5.20l-2.60 -4.40zM606.09 494.16h5.20l-2.60 -4.40zM606.38 494.40h5.20l-2.60 -4.40zM606.66 494.63h5.20l-2.60 -4.40zM606.95 494.86h5.20l-2.60 -4.40zM607.23 495.08h5.20l-2.60 -4.40zM607.51 495.31h5.20l-2.60 -4.40zM607.79 495.53h5.20l-2.60 -4.40zM608.07 495.75h5.20l-2.60 -4.40zM608.35 495.97h5.20l-2.60 -4.40zM608.63 496.18h5.20l-2.60 -4.40zM608.91 496.39h5.20l-2.60 -4.40zM609.19 496.60h5.20l-2.60 -4.40zM609.47 496.80h5.20l-2.60 -4.40zM609.75 497.00h5.20l-2.60 -4.40zM610.03 497.19h5.20l-2.60 -4.40zM610.31 497.38h5.20l-2.60 -4.40zM610.58 497.57h5.20l-2.60 -4.40zM610.86 497.75h5.20l-2.60 -4.40zM611.14 497.92h5.20l-2.60 -4.40zM611.42 498.09h5.20l-2.60 -4.40zM611.70 498.26h5.20l-2.60 -4.40zM611.98 498.40h5.20l-2.60 -4.40zM612.27 498.54h5.20l-2.60 -4.40zM612.56 498.68h5.20l-2.60 -4.40zM612.84 498.81h5.20l-2.60 -4.40zM613.13 498.94h5.20l-2.60 -4.40zM613.42 499.07h5.20l-2.60 -4.40zM613.71 499.20h5.20l-2.60 -4.40zM613.99 499.32h5.20l-2.60 -4.40zM614.28 499.44h5.20l-2.60 -4.40zM614.57 499.56h5.20l-2.60 -4.40zM614.86 499.68h5.20l-2.60 -4.40zM615.14 499.80h5.20l-2.60 -4.40zM615.43 499.91h5.20l-2.60 -4.40zM615.72 500.02h5.20l-2.60 -4.40zM616.01 500.13h5.20l-2.60 -4.40zM616.30 500.24h5.20l-2.60 -4.40zM616.59 500.34h5.20l-2.60 -4.40zM616.87 500.44h5.20l-2.60 -4.40zM617.16 500.54h5.20l-2.60 -4.40zM617.45 500.63h5.20l-2.60 -4.40zM617.74 500.72h5.20l-2.60 -4.40zM618.03 500.81h5.20l-2.60 -4.40zM618.32 500.90h5.20l-2.60 -4.40zM618.62 500.98h5.20l-2.60 -4.40zM618.91 501.06h5.20l-2.60 -4.40zM619.20 501.13h5.20l-2.60 -4.40zM619.49 501.20h5.20l-2.60 -4.40zM619.78 501.26h5.20l-2.60 -4.40zM620.07 501.32h5.20l-2.60 -4.40zM620.36 501.38h5.20l-2.60 -4.40zM620.65 501.44h5.20l-2.60 -4.40zM620.94 501.50h5.20l-2.60 -4.40zM621.23 501.56h5.20l-2.60 -4.40zM621.52 501.62h5.20l-2.60 -4.40zM621.81 501.67h5.20l-2.60 -4.40zM622.11 501.73h5.20l-2.60 -4.40zM622.40 501.78h5.20l-2.60 -4.40zM622.69 501.84h5.20l-2.60 -4.40zM622.98 501.89h5.20l-2.60 -4.40zM623.27 501.94h5.20l-2.60 -4.40zM623.56 501.99h5.20l-2.60 -4.40zM623.85 502.04h5.20l-2.60 -4.40zM624.15 502.09h5.20l-2.60 -4.40zM624.44 502.13h5.20l-2.60 -4.40zM624.73 502.18h5.20l-2.60 -4.40zM625.02 502.22h5.20l-2.60 -4.40zM625.32 502.26h5.20l-2.60 -4.40zM625.61 502.30h5.20l-2.60 -4.40zM625.90 502.34h5.20l-2.60 -4.40zM626.19 502.38h5.20l-2.60 -4.40zM626.49 502.41h5.20l-2.60 -4.40zM626.78 502.45h5.20l-2.60 -4.40zM627.07 502.48h5.20l-2.60 -4.40zM627.37 502.51h5.20l-2.60 -4.40zM627.66 502.53h5.20l-2.60 -4.40zM627.95 502.55h5.20l-2.60 -4.40zM628.24 502.57h5.20l-2.60 -4.40zM628.53 502.59h5.20l-2.60 -4.40zM628.82 502.60h5.20l-2.60 -4.40zM629.11 502.62h5.20l-2.60 -4.40zM629.40 502.64h5.20l-2.60 -4.40zM629.69 502.66h5.20l-2.60 -4.40zM629.99 502.68h5.20l-2.60 -4.40zM630.28 502.69h5.20l-2.60 -4.40zM630.57 502.71h5.20l-2.60 -4.40zM630.86 502.73h5.20l-2.60 -4.40zM631.15 502.74h5.20l-2.60 -4.40zM631.44 502.76h5.20l-2.60 -4.40zM631.73 502.77h5.20l-2.60 -4.40zM632.02 502.79h5.20l-2.60 -4.40zM632.32 502.80h5.20l-2.60 -4.40zM632.61 502.82h5.20l-2.60 -4.40zM632.90 502.83h5.20l-2.60 -4.40zM633.19 502.84h5.20l-2.60 -4.40zM633.48 502.85h5.20l-2.60 -4.40zM633.78 502.86h5.20l-2.60 -4.40zM634.07 502.87h5.20l-2.60 -4.40zM634.36 502.88h5.20l-2.60 -4.40zM634.66 502.89h5.20l-2.60 -4.40zM634.95 502.90h5.20l-2.60 -4.40zM635.10 502.90h5.20l-2.60 -4.40z" fill="#0000ff" stroke="none"/>
<path d="M916.20 500.28h3.20v3.20h-3.20zM916.49 500.28h3.20v3.20h-3.20zM916.78 500.28h3.20v3.20h-3.20zM917.07 500.28h3.20v3.20h-3.20zM917.36 500.28h3.20v3.20h-3.20zM917.65 500.28h3.20v3.20h-3.20zM917.94 500.28h3.20v3.20h-3.20zM918.23 500.28h3.20v3.20h-3.20zM918.52 500.28h3.20v3.20h-3.20zM918.81 500.27h3.20v3.20h-3.20zM919.10 500.27h3.20v3.20h-3.20zM919.39 500.27h3.20v3.20h-3.20zM919.68 500.27h3.20v3.20h-3.20zM919.97 500.27h3.20v3.20h-3.20zM920.26 500.26h3.20v3.20h-3.20zM920.55 500.26h3.20v3.20h-3.20zM920.84 500.26h3.20v3.20h-3.20zM921.13 500.26h3.20v3.20h-3.20zM921.43 500.26h3.20v3.20h-3.20zM921.72 500.25h3.20v3.20h-3.20zM922.01 500.25h3.20v3.20h-3.20zM922.30 500.25h3.20v3.20h-3.20zM922.59 500.24h3.20v3.20h-3.20zM922.88 500.24h3.20v3.20h-3.20zM923.17 500.24h3.20v3.20h-3.20zM923.46 500.24h3.20v3.20h-3.20zM923.75 500.23h3.20v3.20h-3.20zM924.04 500.23h3.20v3.20h-3.20zM924.33 500.23h3.20v3.20h-3.20zM924.62 500.22h3.20v3.20h-3.20zM924.91 500.22h3.20v3.20h-3.20zM925.20 500.21h3.20v3.20h-3.20zM925.49 500.21h3.20v3.20h-3.20zM925.78 500.21h3.20v3.20h-3.20zM926.07 500.20h3.20v3.20h-3.20zM926.36 500.20h3.20v3.20h-3.20zM926.65 500.19h3.20v3.20h-3.20zM926.94 500.19h3.20v3.20h-3.20zM927.23 500.19h3.20v3.20h-3.20zM927.52 500.18h3.20v3.20h-3.20zM927.81 500.18h3.20v3.20h-3.20zM928.10 500.17h3.20v3.20h-3.20zM928.39 500.17h3.20v3.20h-3.20zM928.68 500.16h3.20v3.20h-3.20zM928.97 500.16h3.20v3.20h-3.20zM929.26 500.15h3.20v3.20h-3.20zM929.55 500.15h3.20v3.20h-3.20zM929.84 500.14h3.20v3.20h-3.20zM930.13 500.14h3.20v3.20h-3.20zM930.42 500.13h3.20v3.20h-3.20zM930.71 500.13h3.20v3.20h-3.20zM931.00 500.12h3.20v3.20h-3.20zM931.29 500.12h3.20v3.20h-3.20zM931.58 500.11h3.20v3.20h-3.20zM931.87 500.11h3.20v3.20h-3.20zM932.16 500.10h3.20v3.20h-3.20zM932.45 500.09h3.20v3.20h-3.20zM932.74 500.09h3.20v3.20h-3.20zM933.03 500.08h3.20v3.20h-3.20zM933.32 500.08h3.20v3.20h-3.20zM933.61 500.07h3.20v3.20h-3.20zM933.90 500.06h3.20v3.20h-3.20zM934.19 500.06h3.20v3.20h-3.20zM934.48 500.05h3.20v3.20h-3.20zM934.77 500.05h3.20v3.20h-3.20zM935.06 500.04h3.20v3.20h-3.20zM935.35 500.03h3.20v3.20h-3.20zM935.65 500.03h3.20v3.20h-3.20zM935.94 500.02h3.20v3.20h-3.20zM936.23 500.01h3.20v3.20h-3.20zM936.52 500.01h3.20v3.20h-3.20zM936.81 500.00h3.20v3.20h-3.20zM937.10 499.99h3.20v3.20h-3.20zM937.39 499.99h3.20v3.20h-3.20zM937.68 499.98h3.20v3.20h-3.20zM937.97 499.97h3.20v3.20h-3.20zM938.26 499.97h3.20v3.20h-3.20zM938.55 499.96h3.20v3.20h-3.20zM938.84 499.95h3.20v3.20h-3.20zM939.13 499.94h3.20v3.20h-3.20zM939.42 499.94h3.20v3.20h-3.20zM939.71 499.93h3.20v3.20h-3.20zM940.00 499.92h3.20v3.20h-3.20zM940.29 499.92h3.20v3.20h-3.20zM940.58 499.91h3.20v3.20h-3.20zM940.87 499.90h3.20v3.20h-3.20zM941.16 499.89h3.20v3.20h-3.20zM941.45 499.89h3.20v3.20h-3.20zM941.74 499.88h3.20v3.20h-3.20zM942.03 499.87h3.20v3.20h-3.20zM942.32 499.86h3.20v3.20h-3.20zM942.61 499.85h3.20v3.20h-3.20zM942.90 499.85h3.20v3.20h-3.20zM943.19 499.84h3.20v3.20h-3.20zM943.48 499.83h3.20v3.20h-3.20zM943.77 499.82h3.20v3.20h-3.20zM944.06 499.82h3.20v3.20h-3.20zM944.35 499.81h3.20v3.20h-3.20zM944.64 499.80h3.20v3.20h-3.20zM944.93 499.79h3.20v3.20h-3.20zM945.22 499.78h3.20v3.20h-3.20zM945.51 499.78h3.20v3.20h-3.20zM945.80 499.77h3.20v3.20h-3.20zM946.09 499.76h3.20v3.20h-3.20zM946.38 499.75h3.20v3.20h-3.20zM946.67 499.74h3.20v3.20h-3.20zM946.96 499.73h3.20v3.20h-3.20zM947.25 499.73h3.20v3.20h-3.20zM947.54 499.72h3.20v3.20h-3.20zM947.83 499.71h3.20v3.20h-3.20zM948.12 499.70h3.20v3.20h-3.20zM948.41 499.69h3.20v3.20h-3.20zM948.70 499.68h3.20v3.20h-3.20zM948.99 499.67h3.20v3.20h-3.20zM949.28 499.66h3.20v3.20h-3.20zM949.58 499.64h3.20v3.20h-3.20zM949.87 499.63h3.20v3.20h-3.20zM950.16 499.61h3.20v3.20h-3.20zM950.45 499.60h3.20v3.20h-3.20zM950.74 499.58h3.20v3.20h-3.20zM951.03 499.57h3.20v3.20h-3.20zM951.32 499.55h3.20v3.20h-3.20zM951.61 499.54h3.20v3.20h-3.20zM951.90 499.52h3.20v3.20h-3.20zM952.20 499.50h3.20v3.20h-3.20zM952.49 499.48h3.20v3.20h-3.20zM952.78 499.47h3.20v3.20h-3.20zM953.07 499.45h3.20v3.20h-3.20zM953.36 499.43h3.20v3.20h-3.20zM953.65 499.41h3.20v3.20h-3.20zM953.94 499.39h3.20v3.20h-3.20zM954.23 499.37h3.20v3.20h-3.20zM954.52 499.35h3.20v3.20h-3.20zM954.81 499.33h3.20v3.20h-3.20zM955.10 499.31h3.20v3.20h-3.20zM955.39 499.29h3.20v3.20h-3.20zM955.68 499.27h3.20v3.20h-3.20zM955.97 499.25h3.20v3.20h-3.20zM956.27 499.22h3.20v3.20h-3.20zM956.56 499.20h3.20v3.20h-3.20zM956.85 499.18h3.20v3.20h-3.20zM957.14 499.16h3.20v3.20h-3.20zM957.43 499.14h3.20v3.20h-3.20zM957.72 499.11h3.20v3.20h-3.20zM958.01 499.09h3.20v3.20h-3.20zM958.30 499.07h3.20v3.20h-3.20zM958.59 499.04h3.20v3.20h-3.20zM958.88 499.02h3.20v3.20h-3.20zM959.17 499.00h3.20v3.20h-3.20zM959.46 498.98h3.20v3.20h-3.20zM959.75 498.95h3.20v3.20h-3.20zM960.04 498.93h3.20v3.20h-3.20zM960.33 498.91h3.20v3.20h-3.20zM960.62 498.88h3.20v3.20h-3.20zM960.91 498.86h3.20v3.20h-3.20zM961.20 498.84h3.20v3.20h-3.20zM961.49 498.81h3.20v3.20h-3.20zM961.78 498.79h3.20v3.20h-3.20zM962.07 498.77h3.20v3.20h-3.20zM962.36 498.74h3.20v3.20h-3.20zM962.65 498.72h3.20v3.20h-3.20zM962.94 498.70h3.20v3.20h-3.20zM963.23 498.68h3.20v3.20h-3.20zM963.52 498.65h3.20v3.20h-3.20zM963.81 498.63h3.20v3.20h-3.20zM964.10 498.61h3.20v3.20h-3.20zM964.39 498.59h3.20v3.20h-3.20zM964.68 498.56h3.20v3.20h-3.20zM964.97 498.54h3.20v3.20h-3.20zM965.26 498.52h3.20v3.20h-3.20zM965.55 498.50h3.20v3.20h-3.20zM965.84 498.48h3.20v3.20h-3.20zM966.13 498.46h3.20v3.20h-3.20zM966.42 498.44h3.20v3.20h-3.20zM966.71 498.42h3.20v3.20h-3.20zM967.00 498.40h3.20v3.20h-3.20zM967.29 498.38h3.20v3.20h-3.20zM967.58 498.36h3.20v3.20h-3.20zM967.86 498.34h3.20v3.20h-3.20zM968.15 498.32h3.20v3.20h-3.20zM968.44 498.30h3.20v3.20h-3.20zM968.73 498.28h3.20v3.20h-3.20zM969.02 498.27h3.20v3.20h-3.20zM969.31 498.25h3.20v3.20h-3.20zM969.60 498.23h3.20v3.20h-3.20zM969.89 498.21h3.20v3.20h-3.20zM970.18 498.19h3.20v3.20h-3.20zM970.47 498.17h3.20v3.20h-3.20zM970.76 498.15h3.20v3.20h-3.20zM971.05 498.13h3.20v3.20h-3.20zM971.34 498.11h3.20v3.20h-3.20zM971.63 498.09h3.20v3.20h-3.20zM971.92 498.07h3.20v3.20h-3.20zM972.21 498.05h3.20v3.20h-3.20zM972.50 498.03h3.20v3.20h-3.20zM972.79 498.01h3.20v3.20h-3.20zM973.08 497.99h3.20v3.20h-3.20zM973.37 497.97h3.20v3.20h-3.20zM973.66 497.95h3.20v3.20h-3.20zM973.95 497.93h3.20v3.20h-3.20zM974.24 497.91h3.20v3.20h-3.20zM974.53 497.89h3.20v3.20h-3.20zM974.83 497.87h3.20v3.20h-3.20zM975.12 497.85h3.20v3.20h-3.20zM975.41 497.82h3.20v3.20h-3.20zM975.70 497.80h3.20v3.20h-3.20zM975.99 497.78h3.20v3.20h-3.20zM976.28 497.76h3.20v3.20h-3.20zM976.57 497.74h3.20v3.20h-3.20zM976.86 497.72h3.20v3.20h-3.20zM977.15 497.70h3.20v3.20h-3.20zM977.44 497.68h3.20v3.20h-3.20zM977.73 497.66h3.20v3.20h-3.20zM978.02 497.64h3.20v3.20h-3.20zM978.31 497.62h3.20v3.20h-3.20zM978.59 497.60h3.20v3.20h-3.20zM978.88 497.58h3.20v3.20h-3.20zM979.17 497.56h3.20v3.20h-3.20zM979.46 497.54h3.20v3.20h-3.20zM979.75 497.52h3.20v3.20h-3.20zM980.04 497.50h3.20v3.20h-3.20zM980.33 497.48h3.20v3.20h-3.20zM980.62 497.46h3.20v3.20h-3.20zM980.91 497.44h3.20v3.20h-3.20zM981.20 497.42h3.20v3.20h-3.20zM981.49 497.40h3.20v3.20h-3.20zM981.78 497.38h3.20v3.20h-3.20zM982.07 497.36h3.20v3.20h-3.20zM982.36 497.34h3.20v3.20h-3.20zM982.65 497.33h3.20v3.20h-3.20zM982.94 497.31h3.20v3.20h-3.20zM983.23 497.29h3.20v3.20h-3.20zM983.52 497.27h3.20v3.20h-3.20zM983.81 497.25h3.20v3.20h-3.20zM984.10 497.23h3.20v3.20h-3.20zM984.39 497.22h3.20v3.20h-3.20zM984.68 497.20h3.20v3.20h-3.20zM984.97 497.18h3.20v3.20h-3.20zM985.26 497.16h3.20v3.20h-3.20zM985.55 497.15h3.20v3.20h-3.20zM985.84 497.13h3.20v3.20h-3.20zM986.13 497.11h3.20v3.20h-3.20zM986.42 497.10h3.20v3.20h-3.20zM986.71 497.08h3.20v3.20h-3.20zM987.00 497.07h3.20v3.20h-3.20zM987.29 497.05h3.20v3.20h-3.20zM987.58 497.04h3.20v3.20h-3.20zM987.87 497.02h3.20v3.20h-3.20zM988.16 497.01h3.20v3.20h-3.20zM988.45 496.99h3.20v3.20h-3.20zM988.73 496.98h3.20v3.20h-3.20zM989.02 496.96h3.20v3.20h-3.20zM989.31 496.95h3.20v3.20h-3.20zM989.60 496.94h3.20v3.20h-3.20zM989.89 496.92h3.20v3.20h-3.20zM990.18 496.91h3.20v3.20h-3.20zM990.47 496.90h3.20v3.20h-3.20zM990.76 496.89h3.20v3.20h-3.20zM991.05 496.87h3.20v3.20h-3.20zM991.34 496.86h3.20v3.20h-3.20zM991.63 496.85h3.20v3.20h-3.20zM991.92 496.84h3.20v3.20h-3.20zM992.21 496.83h3.20v3.20h-3.20zM992.50 496.82h3.20v3.20h-3.20zM992.79 496.81h3.20v3.20h-3.20zM993.08 496.80h3.20v3.20h-3.20zM993.36 496.79h3.20v3.20h-3.20zM993.65 496.78h3.20v3.20h-3.20zM993.94 496.77h3.20v3.20h-3.20zM994.23 496.76h3.20v3.20h-3.20zM994.52 496.75h3.20v3.20h-3.20zM994.81 496.74h3.20v3.20h-3.20zM995.10 496.73h3.20v3.20h-3.20zM995.39 496.72h3.20v3.20h-3.20zM995.68 496.71h3.20v3.20h-3.20zM995.97 496.70h3.20v3.20h-3.20zM996.26 496.69h3.20v3.20h-3.20zM996.55 496.68h3.20v3.20h-3.20zM996.84 496.67h3.20v3.20h-3.20zM997.13 496.66h3.20v3.20h-3.20zM997.42 496.65h3.20v3.20h-3.20zM997.71 496.64h3.20v3.20h-3.20zM998.00 496.63h3.20v3.20h-3.20zM998.29 496.62h3.20v3.20h-3.20zM998.58 496.61h3.20v3.20h-3.20zM998.87 496.60h3.20v3.20h-3.20zM999.16 496.59h3.20v3.20h-3.20zM999.45 496.58h3.20v3.20h-3.20zM999.74 496.57h3.20v3.20h-3.20zM1000.03 496.56h3.20v3.20h-3.20zM1000.32 496.55h3.20v3.20h-3.20zM1000.61 496.54h3.20v3.20h-3.20zM1000.90 496.53h3.20v3.20h-3.20zM1001.19 496.52h3.20v3.20h-3.20zM1001.48 496.51h3.20v3.20h-3.20zM1001.77 496.50h3.20v3.20h-3.20zM1002.06 496.49h3.20v3.20h-3.20zM1002.35 496.48h3.20v3.20h-3.20zM1002.64 496.47h3.20v3.20h-3.20zM1002.93 496.47h3.20v3.20h-3.20zM1003.22 496.46h3.20v3.20h-3.20zM1003.51 496.45h3.20v3.20h-3.20zM1003.80 496.44h3.20v3.20h-3.20zM1004.09 496.43h3.20v3.20h-3.20zM1004.38 496.42h3.20v3.20h-3.20zM1004.67 496.41h3.20v3.20h-3.20zM1004.96 496.41h3.20v3.20h-3.20zM1005.25 496.40h3.20v3.20h-3.20zM1005.54 496.39h3.20v3.20h-3.20zM1005.83 496.38h3.20v3.20h-3.20zM1006.12 496.38h3.20v3.20h-3.20zM1006.41 496.37h3.20v3.20h-3.20zM1006.70 496.36h3.20v3.20h-3.20zM1006.99 496.35h3.20v3.20h-3.20zM1007.28 496.35h3.20v3.20h-3.20zM1007.57 496.34h3.20v3.20h-3.20zM1007.86 496.33h3.20v3.20h-3.20zM1008.15 496.33h3.20v3.20h-3.20zM1008.44 496.32h3.20v3.20h-3.20zM1008.73 496.32h3.20v3.20h-3.20zM1009.02 496.31h3.20v3.20h-3.20zM1009.31 496.30h3.20v3.20h-3.20zM1009.60 496.30h3.20v3.20h-3.20zM1009.88 496.29h3.20v3.20h-3.20zM1010.17 496.29h3.20v3.20h-3.20zM1010.46 496.28h3.20v3.20h-3.20zM1010.75 496.28h3.20v3.20h-3.20zM1011.04 496.27h3.20v3.20h-3.20zM1011.33 496.27h3.20v3.20h-3.20zM1011.62 496.27h3.20v3.20h-3.20zM1011.91 496.26h3.20v3.20h-3.20zM1012.20 496.26h3.20v3.20h-3.20zM1012.49 496.25h3.20v3.20h-3.20zM1012.78 496.25h3.20v3.20h-3.20zM1013.07 496.25h3.20v3.20h-3.20zM1013.36 496.25h3.20v3.20h-3.20zM1013.65 496.24h3.20v3.20h-3.20zM1013.94 496.24h3.20v3.20h-3.20zM1014.23 496.24h3.20v3.20h-3.20zM1014.52 496.24h3.20v3.20h-3.20zM1014.81 496.23h3.20v3.20h-3.20zM1015.10 496.23h3.20v3.20h-3.20zM1015.39 496.23h3.20v3.20h-3.20zM1015.67 496.23h3.20v3.20h-3.20zM1015.96 496.23h3.20v3.20h-3.20zM1016.25 496.23h3.20v3.20h-3.20zM1016.54 496.23h3.20v3.20h-3.20zM1016.83 496.23h3.20v3.20h-3.20zM1017.12 496.23h3.20v3.20h-3.20zM1017.41 496.23h3.20v3.20h-3.20zM1017.70 496.23h3.20v3.20h-3.20zM1017.99 496.23h3.20v3.20h-3.20zM1018.28 496.23h3.20v3.20h-3.20zM1018.57 496.23h3.20v3.20h-3.20zM1018.86 496.23h3.20v3.20h-3.20zM1019.14 496.23h3.20v3.20h-3.20zM1019.43 496.23h3.20v3.20h-3.20zM1019.72 496.23h3.20v3.20h-3.20zM1020.01 496.23h3.20v3.20h-3.20zM1020.30 496.23h3.20v3.20h-3.20zM1020.59 496.24h3.20v3.20h-3.20zM1020.88 496.24h3.20v3.20h-3.20zM1021.17 496.24h3.20v3.20h-3.20zM1021.46 496.25h3.20v3.20h-3.20zM1021.75 496.25h3.20v3.20h-3.20zM1022.03 496.26h3.20v3.20h-3.20zM1022.32 496.26h3.20v3.20h-3.20zM1022.61 496.27h3.20v3.20h-3.20zM1022.90 496.27h3.20v3.20h-3.20zM1023.19 496.28h3.20v3.20h-3.20zM1023.48 496.28h3.20v3.20h-3.20zM1023.77 496.29h3.20v3.20h-3.20zM1024.06 496.30h3.20v3.20h-3.20zM1024.35 496.31h3.20v3.20h-3.20zM1024.64 496.31h3.20v3.20h-3.20zM1024.93 496.32h3.20v3.20h-3.20zM1025.22 496.33h3.20v3.20h-3.20zM1025.51 496.34h3.20v3.20h-3.20zM1025.80 496.35h3.20v3.20h-3.20zM1026.09 496.36h3.20v3.20h-3.20zM1026.38 496.36h3.20v3.20h-3.20zM1026.67 496.37h3.20v3.20h-3.20zM1026.96 496.38h3.20v3.20h-3.20zM1027.25 496.39h3.20v3.20h-3.20zM1027.54 496.40h3.20v3.20h-3.20zM1027.83 496.41h3.20v3.20h-3.20zM1028.12 496.42h3.20v3.20h-3.20zM1028.40 496.43h3.20v3.20h-3.20zM1028.69 496.44h3.20v3.20h-3.20zM1028.98 496.45h3.20v3.20h-3.20zM1029.27 496.47h3.20v3.20h-3.20zM1029.56 496.48h3.20v3.20h-3.20zM1029.85 496.49h3.20v3.20h-3.20zM1030.14 496.50h3.20v3.20h-3.20zM1030.43 496.51h3.20v3.20h-3.20zM1030.72 496.52h3.20v3.20h-3.20zM1031.01 496.53h3.20v3.20h-3.20zM1031.30 496.54h3.20v3.20h-3.20zM1031.60 496.55h3.20v3.20h-3.20zM1031.89 496.56h3.20v3.20h-3.20zM1032.18 496.57h3.20v3.20h-3.20zM1032.47 496.58h3.20v3.20h-3.20zM1032.76 496.60h3.20v3.20h-3.20zM1033.05 496.61h3.20v3.20h-3.20zM1033.34 496.62h3.20v3.20h-3.20zM1033.63 496.63h3.20v3.20h-3.20zM1033.92 496.64h3.20v3.20h-3.20zM1034.21 496.65h3.20v3.20h-3.20zM1034.50 496.66h3.20v3.20h-3.20zM1034.79 496.67h3.20v3.20h-3.20zM1035.08 496.68h3.20v3.20h-3.20zM1035.37 496.69h3.20v3.20h-3.20zM1035.66 496.70h3.20v3.20h-3.20zM1035.95 496.71h3.20v3.20h-3.20zM1036.24 496.72h3.20v3.20h-3.20zM1036.53 496.72h3.20v3.20h-3.20zM1036.82 496.73h3.20v3.20h-3.20zM1037.11 496.74h3.20v3.20h-3.20zM1037.40 496.75h3.20v3.20h-3.20zM1037.69 496.76h3.20v3.20h-3.20zM1037.99 496.77h3.20v3.20h-3.20zM1038.28 496.77h3.20v3.20h-3.20zM1038.57 496.78h3.20v3.20h-3.20zM1038.86 496.79h3.20v3.20h-3.20zM1039.15 496.79h3.20v3.20h-3.20zM1039.44 496.80h3.20v3.20h-3.20zM1039.73 496.80h3.20v3.20h-3.20zM1040.02 496.81h3.20v3.20h-3.20zM1040.31 496.81h3.20v3.20h-3.20zM1040.60 496.82h3.20v3.20h-3.20zM1040.90 496.82h3.20v3.20h-3.20zM1041.19 496.83h3.20v3.20h-3.20zM1041.48 496.83h3.20v3.20h-3.20zM1041.77 496.83h3.20v3.20h-3.20zM1042.06 496.83h3.20v3.20h-3.20zM1042.35 496.82h3.20v3.20h-3.20zM1042.65 496.82h3.20v3.20h-3.20zM1042.94 496.81h3.20v3.20h-3.20zM1043.23 496.80h3.20v3.20h-3.20zM1043.52 496.79h3.20v3.20h-3.20zM1043.82 496.78h3.20v3.20h-3.20zM1044.11 496.77h3.20v3.20h-3.20zM1044.40 496.75h3.20v3.20h-3.20zM1044.69 496.74h3.20v3.20h-3.20zM1044.99 496.72h3.20v3.20h-3.20zM1045.28 496.71h3.20v3.20h-3.20zM1045.57 496.69h3.20v3.20h-3.20zM1045.86 496.67h3.20v3.20h-3.20zM1046.15 496.66h3.20v3.20h-3.20zM1046.44 496.64h3.20v3.20h-3.20zM1046.74 496.62h3.20v3.20h-3.20zM1047.03 496.60h3.20v3.20h-3.20zM1047.32 496.58h3.20v3.20h-3.20zM1047.61 496.56h3.20v3.20h-3.20zM1047.90 496.54h3.20v3.20h-3.20zM1048.19 496.51h3.20v3.20h-3.20zM1048.48 496.49h3.20v3.20h-3.20zM1048.78 496.47h3.20v3.20h-3.20zM1049.07 496.44h3.20v3.20h-3.20zM1049.36 496.42h3.20v3.20h-3.20zM1049.65 496.39h3.20v3.20h-3.20zM1049.94 496.37h3.20v3.20h-3.20zM1050.23 496.34h3.20v3.20h-3.20zM1050.52 496.32h3.20v3.20h-3.20zM1050.81 496.29h3.20v3.20h-3.20zM1051.10 496.27h3.20v3.20h-3.20zM1051.39 496.24h3.20v3.20h-3.20zM1051.68 496.21h3.20v3.20h-3.20zM1051.97 496.19h3.20v3.20h-3.20zM1052.26 496.16h3.20v3.20h-3.20zM1052.56 496.13h3.20v3.20h-3.20zM1052.85 496.10h3.20v3.20h-3.20zM1053.14 496.08h3.20v3.20h-3.20zM1053.43 496.05h3.20v3.20h-3.20zM1053.72 496.02h3.20v3.20h-3.20zM1054.01 495.99h3.20v3.20h-3.20zM1054.30 495.96h3.20v3.20h-3.20zM1054.59 495.93h3.20v3.20h-3.20zM1054.88 495.91h3.20v3.20h-3.20zM1055.17 495.88h3.20v3.20h-3.20zM1055.46 495.85h3.20v3.20h-3.20zM1055.75 495.82h3.20v3.20h-3.20zM1056.04 495.80h3.20v3.20h-3.20zM1056.33 495.77h3.20v3.20h-3.20zM1056.62 495.74h3.20v3.20h-3.20zM1056.91 495.71h3.20v3.20h-3.20zM1057.20 495.69h3.20v3.20h-3.20zM1057.49 495.66h3.20v3.20h-3.20zM1057.78 495.63h3.20v3.20h-3.20zM1058.07 495.60h3.20v3.20h-3.20zM1058.36 495.57h3.20v3.20h-3.20zM1058.65 495.54h3.20v3.20h-3.20zM1058.94 495.50h3.20v3.20h-3.20zM1059.23 495.46h3.20v3.20h-3.20zM1059.53 495.42h3.20v3.20h-3.20zM1059.82 495.38h3.20v3.20h-3.20zM1060.11 495.34h3.20v3.20h-3.20zM1060.40 495.30h3.20v3.20h-3.20zM1060.69 495.26h3.20v3.20h-3.20zM1060.98 495.22h3.20v3.20h-3.20zM1061.27 495.17h3.20v3.20h-3.20zM1061.57 495.13h3.20v3.20h-3.20zM1061.86 495.09h3.20v3.20h-3.20zM1062.15 495.04h3.20v3.20h-3.20zM1062.44 494.99h3.20v3.20h-3.20zM1062.73 494.95h3.20v3.20h-3.20zM1063.02 494.90h3.20v3.20h-3.20zM1063.31 494.85h3.20v3.20h-3.20zM1063.60 494.81h3.20v3.20h-3.20zM1063.89 494.76h3.20v3.20h-3.20zM1064.18 494.71h3.20v3.20h-3.20zM1064.47 494.66h3.20v3.20h-3.20zM1064.76 494.61h3.20v3.20h-3.20zM1065.05 494.56h3.20v3.20h-3.20zM1065.34 494.51h3.20v3.20h-3.20zM1065.63 494.46h3.20v3.20h-3.20zM1065.92 494.42h3.20v3.20h-3.20zM1066.21 494.37h3.20v3.20h-3.20zM1066.50 494.32h3.20v3.20h-3.20zM1066.79 494.27h3.20v3.20h-3.20zM1067.08 494.22h3.20v3.20h-3.20zM1067.37 494.17h3.20v3.20h-3.20zM1067.66 494.12h3.20v3.20h-3.20zM1067.95 494.07h3.20v3.20h-3.20zM1068.24 494.02h3.20v3.20h-3.20zM1068.53 493.98h3.20v3.20h-3.20zM1068.82 493.93h3.20v3.20h-3.20zM1069.11 493.88h3.20v3.20h-3.20zM1069.40 493.84h3.20v3.20h-3.20zM1069.69 493.79h3.20v3.20h-3.20zM1069.98 493.74h3.20v3.20h-3.20zM1070.27 493.70h3.20v3.20h-3.20zM1070.56 493.65h3.20v3.20h-3.20zM1070.85 493.61h3.20v3.20h-3.20zM1071.14 493.57h3.20v3.20h-3.20zM1071.43 493.53h3.20v3.20h-3.20zM1071.72 493.48h3.20v3.20h-3.20zM1072.01 493.44h3.20v3.20h-3.20zM1072.30 493.40h3.20v3.20h-3.20zM1072.59 493.36h3.20v3.20h-3.20zM1072.88 493.33h3.20v3.20h-3.20zM1073.17 493.29h3.20v3.20h-3.20zM1073.45 493.25h3.20v3.20h-3.20zM1073.74 493.22h3.20v3.20h-3.20zM1074.03 493.19h3.20v3.20h-3.20zM1074.32 493.15h3.20v3.20h-3.20zM1074.61 493.11h3.20v3.20h-3.20zM1074.90 493.07h3.20v3.20h-3.20zM1075.19 493.03h3.20v3.20h-3.20zM1075.48 492.98h3.20v3.20h-3.20zM1075.78 492.94h3.20v3.20h-3.20zM1076.07 492.90h3.20v3.20h-3.20zM1076.36 492.85h3.20v3.20h-3.20zM1076.65 492.81h3.20v3.20h-3.20zM1076.94 492.76h3.20v3.20h-3.20zM1077.23 492.72h3.20v3.20h-3.20zM1077.52 492.68h3.20v3.20h-3.20zM1077.81 492.63h3.20v3.20h-3.20zM1078.10 492.59h3.20v3.20h-3.20zM1078.39 492.54h3.20v3.20h-3.20zM1078.68 492.50h3.20v3.20h-3.20zM1078.97 492.46h3.20v3.20h-3.20zM1079.26 492.41h3.20v3.20h-3.20zM1079.55 492.37h3.20v3.20h-3.20zM1079.84 492.33h3.20v3.20h-3.20zM1080.13 492.29h3.20v3.20h-3.20zM1080.42 492.25h3.20v3.20h-3.20zM1080.71 492.21h3.20v3.20h-3.20zM1081.00 492.16h3.20v3.20h-3.20zM1081.29 492.13h3.20v3.20h-3.20zM1081.58 492.09h3.20v3.20h-3.20zM1081.87 492.05h3.20v3.20h-3.20zM1082.15 492.01h3.20v3.20h-3.20zM1082.44 491.98h3.20v3.20h-3.20zM1082.73 491.94h3.20v3.20h-3.20zM1083.02 491.91h3.20v3.20h-3.20zM1083.31 491.87h3.20v3.20h-3.20zM1083.60 491.84h3.20v3.20h-3.20zM1083.89 491.81h3.20v3.20h-3.20zM1084.18 491.78h3.20v3.20h-3.20zM1084.47 491.75h3.20v3.20h-3.20zM1084.75 491.72h3.20v3.20h-3.20zM1085.04 491.70h3.20v3.20h-3.20zM1085.33 491.67h3.20v3.20h-3.20zM1085.62 491.65h3.20v3.20h-3.20zM1085.91 491.63h3.20v3.20h-3.20zM1086.19 491.61h3.20v3.20h-3.20zM1086.48 491.59h3.20v3.20h-3.20zM1086.77 491.58h3.20v3.20h-3.20zM1087.06 491.56h3.20v3.20h-3.20zM1087.34 491.55h3.20v3.20h-3.20zM1087.63 491.54h3.20v3.20h-3.20zM1087.92 491.53h3.20v3.20h-3.20zM1088.20 491.52h3.20v3.20h-3.20zM1088.49 491.52h3.20v3.20h-3.20zM1088.78 491.51h3.20v3.20h-3.20zM1089.06 491.51h3.20v3.20h-3.20zM1089.35 491.51h3.20v3.20h-3.20zM1089.63 491.52h3.20v3.20h-3.20zM1089.92 491.52h3.20v3.20h-3.20zM1090.20 491.53h3.20v3.20h-3.20zM1090.49 491.53h3.20v3.20h-3.20zM1090.78 491.53h3.20v3.20h-3.20zM1091.06 491.53h3.20v3.20h-3.20zM1091.35 491.52h3.20v3.20h-3.20zM1091.64 491.52h3.20v3.20h-3.20zM1091.93 491.53h3.20v3.20h-3.20zM1092.22 491.53h3.20v3.20h-3.20zM1092.50 491.53h3.20v3.20h-3.20zM1092.79 491.53h3.20v3.20h-3.20zM1093.08 491.54h3.20v3.20h-3.20zM1093.37 491.54h3.20v3.20h-3.20zM1093.66 491.55h3.20v3.20h-3.20zM1093.95 491.56h3.20v3.20h-3.20zM1094.24 491.56h3.20v3.20h-3.20zM1094.53 491.57h3.20v3.20h-3.20zM1094.81 491.58h3.20v3.20h-3.20zM1095.10 491.59h3.20v3.20h-3.20zM1095.39 491.60h3.20v3.20h-3.20zM1095.68 491.61h3.20v3.20h-3.20zM1095.97 491.62h3.20v3.20h-3.20zM1096.26 491.63h3.20v3.20h-3.20zM1096.55 491.64h3.20v3.20h-3.20zM1096.84 491.66h3.20v3.20h-3.20zM1097.13 491.67h3.20v3.20h-3.20zM1097.42 491.68h3.20v3.20h-3.20zM1097.71 491.69h3.20v3.20h-3.20zM1098.00 491.71h3.20v3.20h-3.20zM1098.29 491.72h3.20v3.20h-3.20zM1098.58 491.73h3.20v3.20h-3.20zM1098.87 491.75h3.20v3.20h-3.20zM1099.16 491.76h3.20v3.20h-3.20zM1099.45 491.77h3.20v3.20h-3.20zM1099.74 491.79h3.20v3.20h-3.20zM1100.03 491.80h3.20v3.20h-3.20zM1100.32 491.82h3.20v3.20h-3.20zM1100.61 491.83h3.20v3.20h-3.20zM1100.90 491.84h3.20v3.20h-3.20zM1101.19 491.86h3.20v3.20h-3.20zM1101.48 491.87h3.20v3.20h-3.20zM1101.77 491.88h3.20v3.20h-3.20zM1102.06 491.90h3.20v3.20h-3.20zM1102.36 491.91h3.20v3.20h-3.20zM1102.65 491.92h3.20v3.20h-3.20zM1102.94 491.93h3.20v3.20h-3.20zM1103.23 491.94h3.20v3.20h-3.20zM1103.52 491.96h3.20v3.20h-3.20zM1103.81 491.97h3.20v3.20h-3.20zM1104.10 491.98h3.20v3.20h-3.20zM1104.40 491.99h3.20v3.20h-3.20zM1104.69 491.99h3.20v3.20h-3.20zM1104.98 492.00h3.20v3.20h-3.20zM1105.27 492.01h3.20v3.20h-3.20zM1105.56 492.02h3.20v3.20h-3.20zM1105.86 492.02h3.20v3.20h-3.20zM1106.15 492.03h3.20v3.20h-3.20zM1106.44 492.03h3.20v3.20h-3.20zM1106.73 492.03h3.20v3.20h-3.20zM1107.02 492.03h3.20v3.20h-3.20zM1107.31 492.03h3.20v3.20h-3.20zM1107.60 492.03h3.20v3.20h-3.20zM1107.89 492.03h3.20v3.20h-3.20zM1108.18 492.03h3.20v3.20h-3.20zM1108.47 492.03h3.20v3.20h-3.20zM1108.76 492.03h3.20v3.20h-3.20zM1109.05 492.03h3.20v3.20h-3.20zM1109.34 492.02h3.20v3.20h-3.20zM1109.63 492.02h3.20v3.20h-3.20zM1109.92 492.02h3.20v3.20h-3.20zM1110.21 492.02h3.20v3.20h-3.20zM1110.50 492.02h3.20v3.20h-3.20zM1110.79 492.02h3.20v3.20h-3.20zM1111.08 492.01h3.20v3.20h-3.20zM1111.37 492.01h3.20v3.20h-3.20zM1111.66 492.01h3.20v3.20h-3.20zM1111.95 492.01h3.20v3.20h-3.20zM1112.25 492.00h3.20v3.20h-3.20zM1112.54 492.00h3.20v3.20h-3.20zM1112.83 492.00h3.20v3.20h-3.20zM1113.12 492.00h3.20v3.20h-3.20zM1113.41 491.99h3.20v3.20h-3.20zM1113.70 491.99h3.20v3.20h-3.20zM1113.99 491.99h3.20v3.20h-3.20zM1114.28 491.98h3.20v3.20h-3.20zM1114.57 491.98h3.20v3.20h-3.20zM1114.86 491.98h3.20v3.20h-3.20zM1115.15 491.97h3.20v3.20h-3.20zM1115.44 491.97h3.20v3.20h-3.20zM1115.73 491.97h3.20v3.20h-3.20zM1116.02 491.96h3.20v3.20h-3.20zM1116.31 491.96h3.20v3.20h-3.20zM1116.60 491.95h3.20v3.20h-3.20zM1116.89 491.95h3.20v3.20h-3.20zM1117.18 491.94h3.20v3.20h-3.20zM1117.47 491.94h3.20v3.20h-3.20zM1117.76 491.93h3.20v3.20h-3.20zM1118.05 491.93h3.20v3.20h-3.20zM1118.34 491.93h3.20v3.20h-3.20zM1118.63 491.92h3.20v3.20h-3.20zM1118.92 491.91h3.20v3.20h-3.20zM1119.21 491.91h3.20v3.20h-3.20zM1119.50 491.90h3.20v3.20h-3.20zM1119.79 491.90h3.20v3.20h-3.20zM1120.08 491.89h3.20v3.20h-3.20zM1120.37 491.89h3.20v3.20h-3.20zM1120.66 491.88h3.20v3.20h-3.20zM1120.95 491.87h3.20v3.20h-3.20zM1121.24 491.87h3.20v3.20h-3.20zM1121.53 491.86h3.20v3.20h-3.20zM1121.82 491.86h3.20v3.20h-3.20zM1122.11 491.85h3.20v3.20h-3.20zM1122.41 491.84h3.20v3.20h-3.20zM1122.70 491.83h3.20v3.20h-3.20zM1122.99 491.83h3.20v3.20h-3.20zM1123.28 491.82h3.20v3.20h-3.20zM1123.57 491.81h3.20v3.20h-3.20zM1123.86 491.80h3.20v3.20h-3.20zM1124.15 491.78h3.20v3.20h-3.20zM1124.46 491.74h3.20v3.20h-3.20zM1124.76 491.70h3.20v3.20h-3.20zM1125.06 491.65h3.20v3.20h-3.20zM1125.35 491.59h3.20v3.20h-3.20zM1125.65 491.53h3.20v3.20h-3.20zM1125.95 491.47h3.20v3.20h-3.20zM1126.24 491.40h3.20v3.20h-3.20zM1126.54 491.33h3.20v3.20h-3.20zM1126.83 491.25h3.20v3.20h-3.20zM1127.12 491.18h3.20v3.20h-3.20zM1127.41 491.10h3.20v3.20h-3.20zM1127.70 491.01h3.20v3.20h-3.20zM1128.00 490.93h3.20v3.20h-3.20zM1128.29 490.84h3.20v3.20h-3.20zM1128.58 490.75h3.20v3.20h-3.20zM1128.87 490.66h3.20v3.20h-3.20zM1129.16 490.57h3.20v3.20h-3.20zM1129.45 490.48h3.20v3.20h-3.20zM1129.73 490.39h3.20v3.20h-3.20zM1130.02 490.29h3.20v3.20h-3.20zM1130.31 490.20h3.20v3.20h-3.20zM1130.60 490.10h3.20v3.20h-3.20zM1130.89 490.01h3.20v3.20h-3.20zM1131.18 489.91h3.20v3.20h-3.20zM1131.47 489.82h3.20v3.20h-3.20zM1131.76 489.72h3.20v3.20h-3.20zM1132.05 489.63h3.20v3.20h-3.20zM1132.34 489.53h3.20v3.20h-3.20zM1132.63 489.43h3.20v3.20h-3.20zM1132.92 489.30h3.20v3.20h-3.20zM1133.20 489.17h3.20v3.20h-3.20zM1133.49 489.03h3.20v3.20h-3.20zM1133.77 488.89h3.20v3.20h-3.20zM1134.05 488.74h3.20v3.20h-3.20zM1134.33 488.59h3.20v3.20h-3.20zM1134.62 488.43h3.20v3.20h-3.20zM1134.90 488.28h3.20v3.20h-3.20zM1135.18 488.12h3.20v3.20h-3.20zM1135.46 487.95h3.20v3.20h-3.20zM1135.75 487.78h3.20v3.20h-3.20zM1136.03 487.61h3.20v3.20h-3.20zM1136.31 487.44h3.20v3.20h-3.20zM1136.60 487.26h3.20v3.20h-3.20zM1136.88 487.08h3.20v3.20h-3.20zM1137.16 486.90h3.20v3.20h-3.20zM1137.45 486.72h3.20v3.20h-3.20zM1137.73 486.53h3.20v3.20h-3.20zM1138.02 486.35h3.20v3.20h-3.20zM1138.30 486.16h3.20v3.20h-3.20zM1138.59 485.97h3.20v3.20h-3.20zM1138.87 485.78h3.20v3.20h-3.20zM1139.15 485.58h3.20v3.20h-3.20zM1139.43 485.36h3.20v3.20h-3.20zM1139.70 485.14h3.20v3.20h-3.20zM1139.98 484.92h3.20v3.20h-3.20zM1140.25 484.69h3.20v3.20h-3.20zM1140.53 484.45h3.20v3.20h-3.20zM1140.81 484.21h3.20v3.20h-3.20zM1141.08 483.97h3.20v3.20h-3.20zM1141.36 483.72h3.20v3.20h-3.20zM1141.64 483.47h3.20v3.20h-3.20zM1141.92 483.21h3.20v3.20h-3.20zM1142.19 482.95h3.20v3.20h-3.20zM1142.47 482.68h3.20v3.20h-3.20zM1142.75 482.41h3.20v3.20h-3.20zM1143.03 482.13h3.20v3.20h-3.20zM1143.31 481.85h3.20v3.20h-3.20zM1143.59 481.57h3.20v3.20h-3.20zM1143.87 481.28h3.20v3.20h-3.20zM1144.15 480.99h3.20v3.20h-3.20zM1144.43 480.70h3.20v3.20h-3.20zM1144.71 480.40h3.20v3.20h-3.20zM1144.98 480.08h3.20v3.20h-3.20zM1145.25 479.77h3.20v3.20h-3.20zM1145.53 479.44h3.20v3.20h-3.20zM1145.80 479.11h3.20v3.20h-3.20zM1146.07 478.76h3.20v3.20h-3.20zM1146.35 478.42h3.20v3.20h-3.20zM1146.62 478.06h3.20v3.20h-3.20zM1146.90 477.70h3.20v3.20h-3.20zM1147.17 477.33h3.20v3.20h-3.20zM1147.45 476.96h3.20v3.20h-3.20zM1147.73 476.58h3.20v3.20h-3.20zM1148.01 476.19h3.20v3.20h-3.20zM1148.29 475.80h3.20v3.20h-3.20zM1148.57 475.40h3.20v3.20h-3.20zM1148.85 475.00h3.20v3.20h-3.20zM1149.13 474.59h3.20v3.20h-3.20zM1149.41 474.17h3.20v3.20h-3.20zM1149.68 473.75h3.20v3.20h-3.20zM1149.95 473.31h3.20v3.20h-3.20zM1150.23 472.87h3.20v3.20h-3.20zM1150.50 472.42h3.20v3.20h-3.20zM1150.78 471.95h3.20v3.20h-3.20zM1151.06 471.48h3.20v3.20h-3.20zM1151.34 471.00h3.20v3.20h-3.20zM1151.62 470.52h3.20v3.20h-3.20zM1151.91 470.03h3.20v3.20h-3.20zM1152.21 469.54h3.20v3.20h-3.20zM1152.50 469.03h3.20v3.20h-3.20zM1152.79 468.53h3.20v3.20h-3.20zM1153.09 468.02h3.20v3.20h-3.20zM1153.38 467.50h3.20v3.20h-3.20zM1153.67 466.98h3.20v3.20h-3.20zM1153.96 466.45h3.20v3.20h-3.20zM1154.25 465.92h3.20v3.20h-3.20zM1154.54 465.39h3.20v3.20h-3.20zM1154.83 464.86h3.20v3.20h-3.20zM1155.13 464.33h3.20v3.20h-3.20zM1155.42 463.79h3.20v3.20h-3.20zM1155.72 463.25h3.20v3.20h-3.20zM1156.02 462.70h3.20v3.20h-3.20zM1156.32 462.13h3.20v3.20h-3.20zM1156.62 461.54h3.20v3.20h-3.20zM1156.93 460.94h3.20v3.20h-3.20zM1157.23 460.30h3.20v3.20h-3.20zM1157.55 459.65h3.20v3.20h-3.20zM1157.87 458.93h3.20v3.20h-3.20zM1158.18 458.15h3.20v3.20h-3.20zM1158.49 457.31h3.20v3.20h-3.20zM1158.78 456.44h3.20v3.20h-3.20zM1159.07 455.56h3.20v3.20h-3.20zM1159.35 454.69h3.20v3.20h-3.20zM1159.63 453.84h3.20v3.20h-3.20zM1159.90 453.03h3.20v3.20h-3.20zM1160.17 452.27h3.20v3.20h-3.20zM1160.45 451.53h3.20v3.20h-3.20zM1160.73 450.81h3.20v3.20h-3.20zM1161.02 450.10h3.20v3.20h-3.20zM1161.31 449.41h3.20v3.20h-3.20zM1161.61 448.71h3.20v3.20h-3.20zM1161.90 448.00h3.20v3.20h-3.20zM1162.21 447.28h3.20v3.20h-3.20zM1162.51 446.53h3.20v3.20h-3.20zM1162.82 445.75h3.20v3.20h-3.20zM1163.13 444.93h3.20v3.20h-3.20zM1163.44 444.06h3.20v3.20h-3.20zM1163.75 443.12h3.20v3.20h-3.20zM1164.06 442.12h3.20v3.20h-3.20zM1164.37 441.07h3.20v3.20h-3.20zM1164.67 439.96h3.20v3.20h-3.20zM1164.97 438.81h3.20v3.20h-3.20zM1165.27 437.62h3.20v3.20h-3.20zM1165.56 436.41h3.20v3.20h-3.20zM1165.86 435.17h3.20v3.20h-3.20zM1166.15 433.92h3.20v3.20h-3.20zM1166.44 432.67h3.20v3.20h-3.20zM1166.73 431.41h3.20v3.20h-3.20zM1167.01 430.17h3.20v3.20h-3.20zM1167.30 428.94h3.20v3.20h-3.20zM1167.59 427.71h3.20v3.20h-3.20zM1167.88 426.48h3.20v3.20h-3.20zM1168.18 425.24h3.20v3.20h-3.20zM1168.47 423.99h3.20v3.20h-3.20zM1168.76 422.73h3.20v3.20h-3.20zM1169.05 421.47h3.20v3.20h-3.20zM1169.34 420.19h3.20v3.20h-3.20zM1169.64 418.90h3.20v3.20h-3.20zM1169.93 417.60h3.20v3.20h-3.20zM1170.22 416.30h3.20v3.20h-3.20zM1170.51 414.98h3.20v3.20h-3.20zM1170.80 413.66h3.20v3.20h-3.20zM1171.09 412.33h3.20v3.20h-3.20zM1171.38 411.00h3.20v3.20h-3.20zM1171.68 409.67h3.20v3.20h-3.20zM1171.97 408.33h3.20v3.20h-3.20zM1172.26 406.98h3.20v3.20h-3.20zM1172.56 405.61h3.20v3.20h-3.20zM1172.85 404.22h3.20v3.20h-3.20zM1173.14 402.81h3.20v3.20h-3.20zM1173.44 401.36h3.20v3.20h-3.20zM1173.74 399.88h3.20v3.20h-3.20zM1174.03 398.36h3.20v3.20h-3.20zM1174.32 396.82h3.20v3.20h-3.20zM1174.62 395.27h3.20v3.20h-3.20zM1174.91 393.70h3.20v3.20h-3.20zM1175.20 392.12h3.20v3.20h-3.20zM1175.49 390.52h3.20v3.20h-3.20zM1175.78 388.92h3.20v3.20h-3.20zM1176.08 387.30h3.20v3.20h-3.20zM1176.37 385.67h3.20v3.20h-3.20zM1176.66 384.03h3.20v3.20h-3.20zM1176.95 382.37h3.20v3.20h-3.20zM1177.24 380.70h3.20v3.20h-3.20zM1177.53 379.03h3.20v3.20h-3.20zM1177.83 377.33h3.20v3.20h-3.20zM1178.12 375.63h3.20v3.20h-3.20zM1178.41 373.92h3.20v3.20h-3.20zM1178.70 372.19h3.20v3.20h-3.20zM1178.99 370.46h3.20v3.20h-3.20zM1179.28 368.71h3.20v3.20h-3.20zM1179.58 366.95h3.20v3.20h-3.20zM1179.87 365.18h3.20v3.20h-3.20zM1180.16 363.40h3.20v3.20h-3.20zM1180.45 361.61h3.20v3.20h-3.20zM1180.74 359.81h3.20v3.20h-3.20zM1181.03 357.99h3.20v3.20h-3.20zM1181.32 356.17h3.20v3.20h-3.20zM1181.61 354.34h3.20v3.20h-3.20zM1181.91 352.49h3.20v3.20h-3.20zM1182.20 350.64h3.20v3.20h-3.20zM1182.49 348.77h3.20v3.20h-3.20zM1182.78 346.90h3.20v3.20h-3.20zM1183.07 345.01h3.20v3.20h-3.20zM1183.36 343.12h3.20v3.20h-3.20zM1183.65 341.22h3.20v3.20h-3.20zM1183.94 339.30h3.20v3.20h-3.20zM1184.23 337.38h3.20v3.20h-3.20zM1184.53 335.45h3.20v3.20h-3.20zM1184.82 333.51h3.20v3.20h-3.20zM1185.11 331.55h3.20v3.20h-3.20zM1185.40 329.59h3.20v3.20h-3.20zM1185.69 327.62h3.20v3.20h-3.20zM1185.98 325.65h3.20v3.20h-3.20zM1186.27 323.66h3.20v3.20h-3.20zM1186.56 321.66h3.20v3.20h-3.20zM1186.85 319.66h3.20v3.20h-3.20zM1187.14 317.65h3.20v3.20h-3.20zM1187.43 315.63h3.20v3.20h-3.20zM1187.73 313.60h3.20v3.20h-3.20zM1188.02 311.56h3.20v3.20h-3.20zM1188.31 309.51h3.20v3.20h-3.20zM1188.60 307.46h3.20v3.20h-3.20zM1188.89 305.40h3.20v3.20h-3.20zM1189.18 303.33h3.20v3.20h-3.20zM1189.47 301.25h3.20v3.20h-3.20zM1189.76 299.17h3.20v3.20h-3.20zM1190.06 297.06h3.20v3.20h-3.20zM1190.35 294.87h3.20v3.20h-3.20zM1190.65 292.63h3.20v3.20h-3.20zM1190.94 290.34h3.20v3.20h-3.20zM1191.23 288.02h3.20v3.20h-3.20zM1191.52 285.68h3.20v3.20h-3.20zM1191.81 283.33h3.20v3.20h-3.20zM1192.10 280.99h3.20v3.20h-3.20zM1192.39 278.68h3.20v3.20h-3.20zM1192.68 276.37h3.20v3.20h-3.20zM1192.97 274.06h3.20v3.20h-3.20zM1193.26 271.73h3.20v3.20h-3.20zM1193.55 269.40h3.20v3.20h-3.20zM1193.84 267.06h3.20v3.20h-3.20zM1194.13 264.72h3.20v3.20h-3.20zM1194.42 262.38h3.20v3.20h-3.20zM1194.71 260.04h3.20v3.20h-3.20zM1195.00 257.70h3.20v3.20h-3.20zM1195.29 255.36h3.20v3.20h-3.20zM1195.58 253.02h3.20v3.20h-3.20zM1195.87 250.70h3.20v3.20h-3.20zM1196.16 248.38h3.20v3.20h-3.20zM1196.45 246.06h3.20v3.20h-3.20zM1196.74 243.77h3.20v3.20h-3.20zM1197.03 241.48h3.20v3.20h-3.20zM1197.32 239.21h3.20v3.20h-3.20zM1197.61 236.94h3.20v3.20h-3.20zM1197.90 234.68h3.20v3.20h-3.20zM1198.18 232.41h3.20v3.20h-3.20zM1198.47 230.15h3.20v3.20h-3.20zM1198.76 227.90h3.20v3.20h-3.20zM1199.05 225.66h3.20v3.20h-3.20zM1199.34 223.43h3.20v3.20h-3.20zM1199.63 221.20h3.20v3.20h-3.20zM1199.92 219.00h3.20v3.20h-3.20zM1200.21 216.81h3.20v3.20h-3.20zM1200.50 214.63h3.20v3.20h-3.20zM1200.78 212.48h3.20v3.20h-3.20zM1201.07 210.35h3.20v3.20h-3.20zM1201.36 208.24h3.20v3.20h-3.20zM1201.65 206.15h3.20v3.20h-3.20zM1201.94 204.07h3.20v3.20h-3.20zM1202.23 202.00h3.20v3.20h-3.20zM1202.52 199.94h3.20v3.20h-3.20zM1202.81 197.90h3.20v3.20h-3.20zM1203.09 195.87h3.20v3.20h-3.20zM1203.38 193.85h3.20v3.20h-3.20zM1203.67 191.85h3.20v3.20h-3.20zM1203.96 189.86h3.20v3.20h-3.20zM1204.25 187.88h3.20v3.20h-3.20zM1204.54 185.92h3.20v3.20h-3.20zM1204.83 183.97h3.20v3.20h-3.20zM1205.11 182.04h3.20v3.20h-3.20zM1205.40 180.13h3.20v3.20h-3.20zM1205.69 178.22h3.20v3.20h-3.20zM1205.98 176.34h3.20v3.20h-3.20zM1206.27 174.47h3.20v3.20h-3.20zM1206.55 172.63h3.20v3.20h-3.20zM1206.84 170.80h3.20v3.20h-3.20zM1207.13 168.99h3.20v3.20h-3.20zM1207.42 167.20h3.20v3.20h-3.20zM1207.71 165.43h3.20v3.20h-3.20zM1207.99 163.67h3.20v3.20h-3.20zM1208.28 161.93h3.20v3.20h-3.20zM1208.57 160.20h3.20v3.20h-3.20zM1208.86 158.48h3.20v3.20h-3.20zM1209.15 156.79h3.20v3.20h-3.20zM1209.43 155.11h3.20v3.20h-3.20zM1209.72 153.44h3.20v3.20h-3.20zM1210.01 151.79h3.20v3.20h-3.20zM1210.30 150.15h3.20v3.20h-3.20zM1210.59 148.52h3.20v3.20h-3.20zM1210.88 146.90h3.20v3.20h-3.20zM1211.16 145.29h3.20v3.20h-3.20zM1211.45 143.68h3.20v3.20h-3.20zM1211.74 142.08h3.20v3.20h-3.20zM1212.03 140.49h3.20v3.20h-3.20zM1212.32 138.91h3.20v3.20h-3.20zM1212.61 137.34h3.20v3.20h-3.20zM1212.90 135.78h3.20v3.20h-3.20zM1213.19 134.22h3.20v3.20h-3.20zM1213.47 132.67h3.20v3.20h-3.20zM1213.76 131.12h3.20v3.20h-3.20zM1214.06 129.58h3.20v3.20h-3.20zM1214.35 128.02h3.20v3.20h-3.20zM1214.65 126.41h3.20v3.20h-3.20zM1214.94 124.76h3.20v3.20h-3.20zM1215.23 123.10h3.20v3.20h-3.20zM1215.52 121.46h3.20v3.20h-3.20zM1215.80 119.85h3.20v3.20h-3.20zM1216.08 118.30h3.20v3.20h-3.20zM1216.35 116.83h3.20v3.20h-3.20zM1216.62 115.47h3.20v3.20h-3.20zM1216.88 114.23h3.20v3.20h-3.20zM1217.15 113.11h3.20v3.20h-3.20zM1217.43 112.02h3.20v3.20h-3.20zM1217.71 110.96h3.20v3.20h-3.20zM1217.99 109.93h3.20v3.20h-3.20zM1218.27 108.93h3.20v3.20h-3.20zM1218.55 107.95h3.20v3.20h-3.20zM1218.83 107.00h3.20v3.20h-3.20zM1219.11 106.08h3.20v3.20h-3.20zM1219.39 105.20h3.20v3.20h-3.20zM1219.66 104.34h3.20v3.20h-3.20zM1219.94 103.52h3.20v3.20h-3.20zM1220.21 102.73h3.20v3.20h-3.20zM1220.48 101.98h3.20v3.20h-3.20zM1220.75 101.26h3.20v3.20h-3.20zM1221.02 100.58h3.20v3.20h-3.20zM1221.28 99.93h3.20v3.20h-3.20zM1221.55 99.32h3.20v3.20h-3.20zM1221.81 98.75h3.20v3.20h-3.20zM1222.10 98.23h3.20v3.20h-3.20zM1222.43 97.76h3.20v3.20h-3.20zM1222.75 97.32h3.20v3.20h-3.20zM1223.09 96.91h3.20v3.20h-3.20zM1223.42 96.53h3.20v3.20h-3.20zM1223.75 96.17h3.20v3.20h-3.20zM1224.08 95.83h3.20v3.20h-3.20zM1224.42 95.53h3.20v3.20h-3.20zM1224.76 95.24h3.20v3.20h-3.20zM1225.08 94.98h3.20v3.20h-3.20zM1225.37 94.71h3.20v3.20h-3.20zM1225.66 94.42h3.20v3.20h-3.20zM1226.01 94.19h3.20v3.20h-3.20zM1226.45 94.10h3.20v3.20h-3.20zM1226.88 94.34h3.20v3.20h-3.20zM1227.01 94.58h3.20v3.20h-3.20zM1227.34 94.17h3.20v3.20h-3.20zM1227.80 94.12h3.20v3.20h-3.20zM1228.20 94.30h3.20v3.20h-3.20zM1228.52 94.56h3.20v3.20h-3.20zM1228.81 94.84h3.20v3.20h-3.20zM1229.15 95.12h3.20v3.20h-3.20zM1229.51 95.42h3.20v3.20h-3.20zM1229.87 95.76h3.20v3.20h-3.20zM1230.21 96.14h3.20v3.20h-3.20zM1230.56 96.56h3.20v3.20h-3.20zM1230.89 97.02h3.20v3.20h-3.20zM1231.19 97.53h3.20v3.20h-3.20zM1231.46 98.08h3.20v3.20h-3.20zM1231.73 98.68h3.20v3.20h-3.20zM1231.98 99.33h3.20v3.20h-3.20zM1232.23 100.06h3.20v3.20h-3.20zM1232.48 100.86h3.20v3.20h-3.20zM1232.74 101.71h3.20v3.20h-3.20zM1233.01 102.61h3.20v3.20h-3.20zM1233.29 103.56h3.20v3.20h-3.20zM1233.56 104.55h3.20v3.20h-3.20zM1233.84 105.58h3.20v3.20h-3.20zM1234.12 106.64h3.20v3.20h-3.20zM1234.41 107.71h3.20v3.20h-3.20zM1234.69 108.81h3.20v3.20h-3.20zM1234.98 109.91h3.20v3.20h-3.20zM1235.27 111.00h3.20v3.20h-3.20zM1235.57 112.10h3.20v3.20h-3.20zM1235.86 113.18h3.20v3.20h-3.20zM1236.15 114.24h3.20v3.20h-3.20zM1236.45 115.29h3.20v3.20h-3.20zM1236.73 116.34h3.20v3.20h-3.20zM1237.02 117.40h3.20v3.20h-3.20zM1237.31 118.47h3.20v3.20h-3.20zM1237.59 119.56h3.20v3.20h-3.20zM1237.87 120.68h3.20v3.20h-3.20zM1238.16 121.82h3.20v3.20h-3.20zM1238.44 122.99h3.20v3.20h-3.20zM1238.72 124.21h3.20v3.20h-3.20zM1239.00 125.47h3.20v3.20h-3.20zM1239.27 126.79h3.20v3.20h-3.20zM1239.55 128.16h3.20v3.20h-3.20zM1239.83 129.59h3.20v3.20h-3.20zM1240.10 131.15h3.20v3.20h-3.20zM1240.37 132.82h3.20v3.20h-3.20zM1240.65 134.59h3.20v3.20h-3.20zM1240.93 136.44h3.20v3.20h-3.20zM1241.22 138.33h3.20v3.20h-3.20zM1241.51 140.26h3.20v3.20h-3.20zM1241.80 142.19h3.20v3.20h-3.20zM1242.09 144.11h3.20v3.20h-3.20zM1242.38 146.03h3.20v3.20h-3.20zM1242.66 147.98h3.20v3.20h-3.20zM1242.95 149.97h3.20v3.20h-3.20zM1243.24 151.98h3.20v3.20h-3.20zM1243.52 154.01h3.20v3.20h-3.20zM1243.81 156.07h3.20v3.20h-3.20zM1244.10 158.14h3.20v3.20h-3.20zM1244.39 160.23h3.20v3.20h-3.20zM1244.68 162.33h3.20v3.20h-3.20zM1244.97 164.45h3.20v3.20h-3.20zM1245.25 166.59h3.20v3.20h-3.20zM1245.54 168.76h3.20v3.20h-3.20zM1245.83 170.94h3.20v3.20h-3.20zM1246.12 173.15h3.20v3.20h-3.20zM1246.41 175.39h3.20v3.20h-3.20zM1246.69 177.66h3.20v3.20h-3.20zM1246.98 179.94h3.20v3.20h-3.20zM1247.27 182.25h3.20v3.20h-3.20zM1247.56 184.58h3.20v3.20h-3.20zM1247.85 186.92h3.20v3.20h-3.20zM1248.14 189.29h3.20v3.20h-3.20zM1248.43 191.67h3.20v3.20h-3.20zM1248.71 194.07h3.20v3.20h-3.20zM1249.00 196.49h3.20v3.20h-3.20zM1249.29 198.92h3.20v3.20h-3.20zM1249.58 201.38h3.20v3.20h-3.20zM1249.87 203.84h3.20v3.20h-3.20zM1250.16 206.33h3.20v3.20h-3.20zM1250.45 208.82h3.20v3.20h-3.20zM1250.74 211.34h3.20v3.20h-3.20zM1251.02 213.89h3.20v3.20h-3.20zM1251.31 216.47h3.20v3.20h-3.20zM1251.60 219.06h3.20v3.20h-3.20zM1251.89 221.68h3.20v3.20h-3.20zM1252.18 224.32h3.20v3.20h-3.20zM1252.47 226.96h3.20v3.20h-3.20zM1252.76 229.62h3.20v3.20h-3.20zM1253.05 232.29h3.20v3.20h-3.20zM1253.34 234.96h3.20v3.20h-3.20zM1253.63 237.63h3.20v3.20h-3.20zM1253.92 240.30h3.20v3.20h-3.20zM1254.21 242.99h3.20v3.20h-3.20zM1254.50 245.69h3.20v3.20h-3.20zM1254.78 248.41h3.20v3.20h-3.20zM1255.07 251.13h3.20v3.20h-3.20zM1255.36 253.87h3.20v3.20h-3.20zM1255.65 256.61h3.20v3.20h-3.20zM1255.94 259.35h3.20v3.20h-3.20zM1256.23 262.10h3.20v3.20h-3.20zM1256.52 264.84h3.20v3.20h-3.20zM1256.81 267.58h3.20v3.20h-3.20zM1257.10 270.32h3.20v3.20h-3.20zM1257.39 273.05h3.20v3.20h-3.20zM1257.69 275.76h3.20v3.20h-3.20zM1257.98 278.47h3.20v3.20h-3.20zM1258.26 281.17h3.20v3.20h-3.20zM1258.55 283.90h3.20v3.20h-3.20zM1258.84 286.62h3.20v3.20h-3.20zM1259.14 289.33h3.20v3.20h-3.20zM1259.43 292.02h3.20v3.20h-3.20zM1259.72 294.66h3.20v3.20h-3.20zM1260.01 297.24h3.20v3.20h-3.20zM1260.31 299.76h3.20v3.20h-3.20zM1260.60 302.25h3.20v3.20h-3.20zM1260.89 304.74h3.20v3.20h-3.20zM1261.18 307.21h3.20v3.20h-3.20zM1261.47 309.67h3.20v3.20h-3.20zM1261.76 312.13h3.20v3.20h-3.20zM1262.05 314.57h3.20v3.20h-3.20zM1262.34 317.00h3.20v3.20h-3.20zM1262.63 319.42h3.20v3.20h-3.20zM1262.92 321.83h3.20v3.20h-3.20zM1263.22 324.23h3.20v3.20h-3.20zM1263.51 326.61h3.20v3.20h-3.20zM1263.80 328.98h3.20v3.20h-3.20zM1264.09 331.34h3.20v3.20h-3.20zM1264.38 333.69h3.20v3.20h-3.20zM1264.67 336.02h3.20v3.20h-3.20zM1264.96 338.34h3.20v3.20h-3.20zM1265.25 340.64h3.20v3.20h-3.20zM1265.54 342.93h3.20v3.20h-3.20zM1265.83 345.21h3.20v3.20h-3.20zM1266.13 347.47h3.20v3.20h-3.20zM1266.42 349.71h3.20v3.20h-3.20zM1266.71 351.95h3.20v3.20h-3.20zM1267.00 354.16h3.20v3.20h-3.20zM1267.29 356.36h3.20v3.20h-3.20zM1267.58 358.54h3.20v3.20h-3.20zM1267.87 360.71h3.20v3.20h-3.20zM1268.17 362.86h3.20v3.20h-3.20zM1268.46 364.99h3.20v3.20h-3.20zM1268.75 367.10h3.20v3.20h-3.20zM1269.04 369.20h3.20v3.20h-3.20zM1269.33 371.28h3.20v3.20h-3.20zM1269.62 373.34h3.20v3.20h-3.20zM1269.91 375.38h3.20v3.20h-3.20zM1270.21 377.41h3.20v3.20h-3.20zM1270.50 379.41h3.20v3.20h-3.20zM1270.79 381.37h3.20v3.20h-3.20zM1271.09 383.28h3.20v3.20h-3.20zM1271.38 385.15h3.20v3.20h-3.20zM1271.68 386.99h3.20v3.20h-3.20zM1271.97 388.81h3.20v3.20h-3.20zM1272.26 390.60h3.20v3.20h-3.20zM1272.55 392.39h3.20v3.20h-3.20zM1272.84 394.17h3.20v3.20h-3.20zM1273.13 395.94h3.20v3.20h-3.20zM1273.43 397.70h3.20v3.20h-3.20zM1273.72 399.44h3.20v3.20h-3.20zM1274.01 401.16h3.20v3.20h-3.20zM1274.30 402.87h3.20v3.20h-3.20zM1274.60 404.56h3.20v3.20h-3.20zM1274.89 406.24h3.20v3.20h-3.20zM1275.18 407.90h3.20v3.20h-3.20zM1275.47 409.54h3.20v3.20h-3.20zM1275.76 411.18h3.20v3.20h-3.20zM1276.06 412.79h3.20v3.20h-3.20zM1276.35 414.40h3.20v3.20h-3.20zM1276.64 415.99h3.20v3.20h-3.20zM1276.93 417.57h3.20v3.20h-3.20zM1277.22 419.13h3.20v3.20h-3.20zM1277.52 420.68h3.20v3.20h-3.20zM1277.81 422.22h3.20v3.20h-3.20zM1278.10 423.74h3.20v3.20h-3.20zM1278.39 425.26h3.20v3.20h-3.20zM1278.68 426.79h3.20v3.20h-3.20zM1278.97 428.31h3.20v3.20h-3.20zM1279.26 429.83h3.20v3.20h-3.20zM1279.55 431.34h3.20v3.20h-3.20zM1279.85 432.82h3.20v3.20h-3.20zM1280.14 434.28h3.20v3.20h-3.20zM1280.44 435.70h3.20v3.20h-3.20zM1280.74 437.07h3.20v3.20h-3.20zM1281.04 438.40h3.20v3.20h-3.20zM1281.34 439.67h3.20v3.20h-3.20zM1281.64 440.90h3.20v3.20h-3.20zM1281.94 442.10h3.20v3.20h-3.20zM1282.23 443.27h3.20v3.20h-3.20zM1282.53 444.42h3.20v3.20h-3.20zM1282.83 445.54h3.20v3.20h-3.20zM1283.12 446.65h3.20v3.20h-3.20zM1283.42 447.73h3.20v3.20h-3.20zM1283.71 448.79h3.20v3.20h-3.20zM1284.01 449.84h3.20v3.20h-3.20zM1284.30 450.87h3.20v3.20h-3.20zM1284.60 451.90h3.20v3.20h-3.20zM1284.89 452.91h3.20v3.20h-3.20zM1285.18 453.91h3.20v3.20h-3.20zM1285.47 454.91h3.20v3.20h-3.20zM1285.76 455.91h3.20v3.20h-3.20zM1286.06 456.90h3.20v3.20h-3.20zM1286.35 457.88h3.20v3.20h-3.20zM1286.64 458.85h3.20v3.20h-3.20zM1286.94 459.81h3.20v3.20h-3.20zM1287.23 460.77h3.20v3.20h-3.20zM1287.52 461.71h3.20v3.20h-3.20zM1287.82 462.63h3.20v3.20h-3.20zM1288.11 463.55h3.20v3.20h-3.20zM1288.41 464.45h3.20v3.20h-3.20zM1288.71 465.33h3.20v3.20h-3.20zM1289.00 466.20h3.20v3.20h-3.20zM1289.30 467.05h3.20v3.20h-3.20zM1289.60 467.88h3.20v3.20h-3.20zM1289.90 468.68h3.20v3.20h-3.20zM1290.20 469.47h3.20v3.20h-3.20zM1290.49 470.24h3.20v3.20h-3.20zM1290.79 471.00h3.20v3.20h-3.20zM1291.09 471.75h3.20v3.20h-3.20zM1291.38 472.48h3.20v3.20h-3.20zM1291.68 473.20h3.20v3.20h-3.20zM1291.98 473.90h3.20v3.20h-3.20zM1292.28 474.58h3.20v3.20h-3.20zM1292.58 475.25h3.20v3.20h-3.20zM1292.88 475.90h3.20v3.20h-3.20zM1293.18 476.53h3.20v3.20h-3.20zM1293.48 477.13h3.20v3.20h-3.20zM1293.78 477.72h3.20v3.20h-3.20zM1294.08 478.28h3.20v3.20h-3.20zM1294.38 478.83h3.20v3.20h-3.20zM1294.67 479.38h3.20v3.20h-3.20zM1294.97 479.92h3.20v3.20h-3.20zM1295.27 480.45h3.20v3.20h-3.20zM1295.56 480.97h3.20v3.20h-3.20zM1295.86 481.48h3.20v3.20h-3.20zM1296.15 481.98h3.20v3.20h-3.20zM1296.45 482.47h3.20v3.20h-3.20zM1296.73 482.95h3.20v3.20h-3.20zM1297.00 483.43h3.20v3.20h-3.20zM1297.27 483.89h3.20v3.20h-3.20zM1297.54 484.34h3.20v3.20h-3.20zM1297.81 484.78h3.20v3.20h-3.20zM1298.08 485.21h3.20v3.20h-3.20zM1298.34 485.62h3.20v3.20h-3.20zM1298.61 486.02h3.20v3.20h-3.20zM1298.87 486.40h3.20v3.20h-3.20zM1299.13 486.77h3.20v3.20h-3.20zM1299.39 487.12h3.20v3.20h-3.20zM1299.66 487.47h3.20v3.20h-3.20zM1299.93 487.80h3.20v3.20h-3.20zM1300.20 488.13h3.20v3.20h-3.20zM1300.47 488.44h3.20v3.20h-3.20zM1300.74 488.75h3.20v3.20h-3.20zM1301.01 489.04h3.20v3.20h-3.20zM1301.28 489.33h3.20v3.20h-3.20zM1301.55 489.61h3.20v3.20h-3.20zM1301.82 489.89h3.20v3.20h-3.20zM1302.10 490.16h3.20v3.20h-3.20zM1302.37 490.42h3.20v3.20h-3.20zM1302.65 490.67h3.20v3.20h-3.20zM1302.93 490.92h3.20v3.20h-3.20zM1303.21 491.16h3.20v3.20h-3.20zM1303.49 491.40h3.20v3.20h-3.20zM1303.78 491.63h3.20v3.20h-3.20zM1304.06 491.86h3.20v3.20h-3.20zM1304.35 492.09h3.20v3.20h-3.20zM1304.63 492.32h3.20v3.20h-3.20zM1304.91 492.54h3.20v3.20h-3.20zM1305.19 492.76h3.20v3.20h-3.20zM1305.47 492.98h3.20v3.20h-3.20zM1305.75 493.20h3.20v3.20h-3.20zM1306.03 493.41h3.20v3.20h-3.20zM1306.31 493.62h3.20v3.20h-3.20zM1306.59 493.83h3.20v3.20h-3.20zM1306.87 494.03h3.20v3.20h-3.20zM1307.15 494.23h3.20v3.20h-3.20zM1307.43 494.43h3.20v3.20h-3.20zM1307.71 494.62h3.20v3.20h-3.20zM1307.98 494.80h3.20v3.20h-3.20zM1308.26 494.98h3.20v3.20h-3.20zM1308.54 495.16h3.20v3.20h-3.20zM1308.82 495.33h3.20v3.20h-3.20zM1309.10 495.49h3.20v3.20h-3.20zM1309.38 495.64h3.20v3.20h-3.20zM1309.67 495.77h3.20v3.20h-3.20zM1309.96 495.91h3.20v3.20h-3.20zM1310.24 496.04h3.20v3.20h-3.20zM1310.53 496.17h3.20v3.20h-3.20zM1310.82 496.30h3.20v3.20h-3.20zM1311.11 496.43h3.20v3.20h-3.20zM1311.39 496.55h3.20v3.20h-3.20zM1311.68 496.68h3.20v3.20h-3.20zM1311.97 496.80h3.20v3.20h-3.20zM1312.26 496.92h3.20v3.20h-3.20zM1312.54 497.03h3.20v3.20h-3.20zM1312.83 497.14h3.20v3.20h-3.20zM1313.12 497.25h3.20v3.20h-3.20zM1313.41 497.36h3.20v3.20h-3.20zM1313.70 497.47h3.20v3.20h-3.20zM1313.99 497.57h3.20v3.20h-3.20zM1314.27 497.67h3.20v3.20h-3.20zM1314.56 497.77h3.20v3.20h-3.20zM1314.85 497.87h3.20v3.20h-3.20zM1315.14 497.96h3.20v3.20h-3.20zM1315.43 498.05h3.20v3.20h-3.20zM1315.72 498.13h3.20v3.20h-3.20zM1316.02 498.22h3.20v3.20h-3.20zM1316.31 498.30h3.20v3.20h-3.20zM1316.60 498.37h3.20v3.20h-3.20zM1316.89 498.43h3.20v3.20h-3.20zM1317.18 498.49h3.20v3.20h-3.20zM1317.47 498.55h3.20v3.20h-3.20zM1317.76 498.61h3.20v3.20h-3.20zM1318.05 498.67h3.20v3.20h-3.20zM1318.34 498.73h3.20v3.20h-3.20zM1318.63 498.79h3.20v3.20h-3.20zM1318.92 498.85h3.20v3.20h-3.20zM1319.21 498.91h3.20v3.20h-3.20zM1319.51 498.96h3.20v3.20h-3.20zM1319.80 499.02h3.20v3.20h-3.20zM1320.09 499.07h3.20v3.20h-3.20zM1320.38 499.12h3.20v3.20h-3.20zM1320.67 499.17h3.20v3.20h-3.20zM1320.96 499.22h3.20v3.20h-3.20zM1321.25 499.27h3.20v3.20h-3.20zM1321.55 499.32h3.20v3.20h-3.20zM1321.84 499.37h3.20v3.20h-3.20zM1322.13 499.41h3.20v3.20h-3.20zM1322.42 499.45h3.20v3.20h-3.20zM1322.72 499.50h3.20v3.20h-3.20zM1323.01 499.54h3.20v3.20h-3.20zM1323.30 499.58h3.20v3.20h-3.20zM1323.59 499.61h3.20v3.20h-3.20zM1323.89 499.65h3.20v3.20h-3.20zM1324.18 499.68h3.20v3.20h-3.20zM1324.47 499.71h3.20v3.20h-3.20zM1324.77 499.74h3.20v3.20h-3.20zM1325.06 499.76h3.20v3.20h-3.20zM1325.35 499.78h3.20v3.20h-3.20zM1325.64 499.80h3.20v3.20h-3.20zM1325.93 499.82h3.20v3.20h-3.20zM1326.22 499.84h3.20v3.20h-3.20zM1326.51 499.86h3.20v3.20h-3.20zM1326.80 499.87h3.20v3.20h-3.20zM1327.09 499.89h3.20v3.20h-3.20zM1327.39 499.91h3.20v3.20h-3.20zM1327.68 499.93h3.20v3.20h-3.20zM1327.97 499.94h3.20v3.20h-3.20zM1328.26 499.96h3.20v3.20h-3.20zM1328.55 499.98h3.20v3.20h-3.20zM1328.84 499.99h3.20v3.20h-3.20zM1329.13 500.01h3.20v3.20h-3.20zM1329.42 500.02h3.20v3.20h-3.20zM1329.72 500.04h3.20v3.20h-3.20zM1330.01 500.05h3.20v3.20h-3.20zM1330.30 500.06h3.20v3.20h-3.20zM1330.59 500.08h3.20v3.20h-3.20zM1330.88 500.09h3.20v3.20h-3.20zM1331.18 500.10h3.20v3.20h-3.20zM1331.47 500.11h3.20v3.20h-3.20zM1331.76 500.12h3.20v3.20h-3.20zM1332.06 500.12h3.20v3.20h-3.20zM1332.35 500.13h3.20v3.20h-3.20zM1332.50 500.13h3.20v3.20h-3.20z" fill="#0000ff" stroke="none"/>
<path d="M915.50 501.90L916.00 501.90L916.50 501.90L917.00 501.90L917.50 501.90L918.00 501.90L918.50 501.90L919.00 501.90L919.50 501.90L920.00 501.90L920.50 501.90L921.00 501.90L921.50 501.90L922.00 501.90L922.50 501.90L923.00 501.90L923.50 501.90L924.00 501.90L924.50 501.90L925.00 501.90L925.50 501.90L926.00 501.90L926.50 501.90L927.00 501.90L927.50 501.90L928.00 501.90L928.50 501.90L929.00 501.90L929.50 501.90L930.00 501.90L930.50 501.90L931.00 501.90L931.50 501.90L932.00 501.90L932.50 501.90L933.00 501.90L933.50 501.90L934.00 501.90L934.50 501.90L935.00 501.90L935.50 501.90L936.00 501.90L936.50 501.90L937.00 501.90L937.50 501.90L938.00 501.90L938.50 501.90L939.00 501.90L939.50 501.90L940.00 501.90L940.50 501.90L941.00 501.90L941.50 501.90L942.00 501.90L942.50 501.90L943.00 501.90L943.50 501.90L944.00 501.90L944.50 501.89L945.00 501.89L945.50 501.88L946.00 501.86L946.50 501.85L947.00 501.83L947.50 501.81L948.00 501.79L948.50 501.76L949.00 501.73L949.50 501.71L950.00 501.68L950.50 501.64L951.00 501.61L951.50 501.57L952.00 501.54L952.50 501.50L953.00 501.46L953.50 501.42L954.00 501.38L954.50 501.34L955.00 501.30L955.50 501.25L956.00 501.21L956.50 501.16L957.00 501.12L957.50 501.08L958.00 501.03L958.50 500.99L959.00 500.94L959.50 500.90L960.00 500.86L960.50 500.81L961.00 500.77L961.50 500.73L962.00 500.69L962.50 500.65L963.00 500.61L963.50 500.57L964.00 500.53L964.50 500.50L965.00 500.47L965.50 500.43L966.00 500.40L966.50 500.36L967.00 500.32L967.50 500.29L968.00 500.25L968.50 500.21L969.00 500.17L969.50 500.14L970.00 500.10L970.50 500.06L971.00 500.02L971.50 499.98L972.00 499.95L972.50 499.91L973.00 499.87L973.50 499.83L974.00 499.79L974.50 499.75L975.00 499.71L975.50 499.67L976.00 499.64L976.50 499.60L977.00 499.56L977.50 499.52L978.00 499.48L978.50 499.45L979.00 499.41L979.50 499.37L980.00 499.34L980.50 499.30L981.00 499.27L981.50 499.23L982.00 499.20L982.50 499.16L983.00 499.13L983.50 499.10L984.00 499.07L984.50 499.03L985.00 499.00L985.50 498.97L986.00 498.94L986.50 498.92L987.00 498.89L987.50 498.86L988.00 498.83L988.50 498.81L989.00 498.79L989.50 498.76L990.00 498.74L990.50 498.71L991.00 498.69L991.50 498.66L992.00 498.63L992.50 498.61L993.00 498.58L993.50 498.56L994.00 498.53L994.50 498.51L995.00 498.48L995.50 498.46L996.00 498.43L996.50 498.41L997.00 498.38L997.50 498.36L998.00 498.33L998.50 498.31L999.00 498.28L999.50 498.26L1000.00 498.24L1000.50 498.22L1001.00 498.19L1001.50 498.17L1002.00 498.15L1002.50 498.13L1003.00 498.11L1003.50 498.09L1004.00 498.08L1004.50 498.06L1005.00 498.04L1005.50 498.02L1006.00 498.01L1006.50 498.00L1007.00 497.98L1007.50 497.97L1008.00 497.96L1008.50 497.95L1009.00 497.94L1009.50 497.93L1010.00 497.92L1010.50 497.91L1011.00 497.91L1011.50 497.90L1012.00 497.90L1012.50 497.90L1013.00 497.90L1013.50 497.90L1014.00 497.90L1014.50 497.90L1015.00 497.90L1015.50 497.91L1016.00 497.91L1016.50 497.91L1017.00 497.92L1017.50 497.92L1018.00 497.92L1018.50 497.93L1019.00 497.93L1019.50 497.94L1020.00 497.94L1020.50 497.95L1021.00 497.95L1021.50 497.96L1022.00 497.96L1022.50 497.97L1023.00 497.98L1023.50 497.98L1024.00 497.99L1024.50 497.99L1025.00 498.00L1025.50 498.01L1026.00 498.01L1026.50 498.02L1027.00 498.02L1027.50 498.03L1028.00 498.04L1028.50 498.04L1029.00 498.05L1029.50 498.05L1030.00 498.06L1030.50 498.06L1031.00 498.07L1031.50 498.07L1032.00 498.08L1032.50 498.08L1033.00 498.08L1033.50 498.09L1034.00 498.09L1034.50 498.09L1035.00 498.10L1035.50 498.10L1036.00 498.10L1036.50 498.10L1037.00 498.10L1037.50 498.10L1038.00 498.10L1038.50 498.09L1039.00 498.08L1039.50 498.07L1040.00 498.05L1040.50 498.04L1041.00 498.02L1041.50 497.99L1042.00 497.97L1042.50 497.94L1043.00 497.92L1043.50 497.89L1044.00 497.86L1044.50 497.82L1045.00 497.79L1045.50 497.75L1046.00 497.72L1046.50 497.68L1047.00 497.64L1047.50 497.60L1048.00 497.56L1048.50 497.51L1049.00 497.47L1049.50 497.43L1050.00 497.38L1050.50 497.34L1051.00 497.30L1051.50 497.25L1052.00 497.21L1052.50 497.16L1053.00 497.12L1053.50 497.07L1054.00 497.02L1054.50 496.97L1055.00 496.91L1055.50 496.85L1056.00 496.78L1056.50 496.72L1057.00 496.64L1057.50 496.57L1058.00 496.49L1058.50 496.41L1059.00 496.33L1059.50 496.25L1060.00 496.16L1060.50 496.07L1061.00 495.99L1061.50 495.90L1062.00 495.81L1062.50 495.72L1063.00 495.63L1063.50 495.54L1064.00 495.45L1064.50 495.37L1065.00 495.28L1065.50 495.19L1066.00 495.11L1066.50 495.03L1067.00 494.95L1067.50 494.87L1068.00 494.79L1068.50 494.72L1069.00 494.65L1069.50 494.59L1070.00 494.52L1070.50 494.45L1071.00 494.39L1071.50 494.32L1072.00 494.25L1072.50 494.18L1073.00 494.10L1073.50 494.03L1074.00 493.96L1074.50 493.89L1075.00 493.82L1075.50 493.75L1076.00 493.68L1076.50 493.61L1077.00 493.55L1077.50 493.48L1078.00 493.42L1078.50 493.36L1079.00 493.30L1079.50 493.24L1080.00 493.18L1080.50 493.13L1081.00 493.08L1081.50 493.04L1082.00 492.99L1082.50 492.95L1083.00 492.92L1083.50 492.89L1084.00 492.86L1084.50 492.83L1085.00 492.81L1085.50 492.80L1086.00 492.79L1086.50 492.78L1087.00 492.76L1087.50 492.75L1088.00 492.74L1088.50 492.73L1089.00 492.72L1089.50 492.71L1090.00 492.70L1090.50 492.69L1091.00 492.68L1091.50 492.68L1092.00 492.67L1092.50 492.66L1093.00 492.65L1093.50 492.65L1094.00 492.64L1094.50 492.63L1095.00 492.63L1095.50 492.62L1096.00 492.62L1096.50 492.61L1097.00 492.61L1097.50 492.61L1098.00 492.60L1098.50 492.60L1099.00 492.60L1099.50 492.60L1100.00 492.60L1100.50 492.60L1101.00 492.60L1101.50 492.60L1102.00 492.60L1102.50 492.60L1103.00 492.60L1103.50 492.60L1104.00 492.60L1104.50 492.60L1105.00 492.60L1105.50 492.60L1106.00 492.60L1106.50 492.60L1107.00 492.60L1107.50 492.60L1108.00 492.60L1108.50 492.60L1109.00 492.60L1109.50 492.60L1110.00 492.60L1110.50 492.60L1111.00 492.60L1111.50 492.60L1112.00 492.60L1112.50 492.60L1113.00 492.59L1113.50 492.57L1114.00 492.55L1114.50 492.52L1115.00 492.48L1115.50 492.44L1116.00 492.40L1116.50 492.35L1117.00 492.29L1117.50 492.24L1118.00 492.18L1118.50 492.11L1119.00 492.04L1119.50 491.97L1120.00 491.90L1120.50 491.83L1121.00 491.75L1121.50 491.68L1122.00 491.60L1122.50 491.52L1123.00 491.42L1123.50 491.31L1124.00 491.19L1124.50 491.06L1125.00 490.92L1125.50 490.76L1126.00 490.60L1126.50 490.43L1127.00 490.26L1127.50 490.07L1128.00 489.88L1128.50 489.68L1129.00 489.47L1129.50 489.26L1130.00 489.04L1130.50 488.82L1131.00 488.60L1131.50 488.37L1132.00 488.11L1132.50 487.84L1133.00 487.56L1133.50 487.26L1134.00 486.94L1134.50 486.61L1135.00 486.26L1135.50 485.90L1136.00 485.53L1136.50 485.15L1137.00 484.75L1137.50 484.35L1138.00 483.93L1138.50 483.50L1139.00 483.05L1139.50 482.58L1140.00 482.09L1140.50 481.57L1141.00 481.03L1141.50 480.46L1142.00 479.87L1142.50 479.26L1143.00 478.63L1143.50 477.98L1144.00 477.30L1144.50 476.61L1145.00 475.90L1145.50 475.14L1146.00 474.32L1146.50 473.45L1147.00 472.54L1147.50 471.60L1148.00 470.63L1148.50 469.66L1149.00 468.69L1149.50 467.72L1150.00 466.75L1150.50 465.77L1151.00 464.77L1151.50 463.75L1152.00 462.69L1152.50 461.60L1153.00 460.47L1153.50 459.31L1154.00 458.13L1154.50 456.92L1155.00 455.68L1155.50 454.41L1156.00 453.11L1156.50 451.77L1157.00 450.38L1157.50 448.95L1158.00 447.48L1158.50 445.95L1159.00 444.35L1159.50 442.63L1160.00 440.82L1160.50 438.93L1161.00 436.98L1161.50 435.00L1162.00 433.00L1162.50 431.01L1163.00 429.04L1163.50 427.05L1164.00 425.03L1164.50 422.99L1165.00 420.93L1165.50 418.84L1166.00 416.72L1166.50 414.59L1167.00 412.45L1167.50 410.31L1168.00 408.14L1168.50 405.92L1169.00 403.63L1169.50 401.24L1170.00 398.75L1170.50 396.22L1171.00 393.65L1171.50 391.04L1172.00 388.39L1172.50 385.71L1173.00 382.99L1173.50 380.24L1174.00 377.46L1174.50 374.65L1175.00 371.80L1175.50 368.92L1176.00 366.01L1176.50 363.08L1177.00 360.11L1177.50 357.11L1178.00 354.09L1178.50 351.04L1179.00 347.97L1179.50 344.86L1180.00 341.74L1180.50 338.59L1181.00 335.41L1181.50 332.21L1182.00 329.00L1182.50 325.76L1183.00 322.49L1183.50 319.21L1184.00 315.91L1184.50 312.59L1185.00 309.26L1185.50 305.90L1186.00 302.53L1186.50 299.14L1187.00 295.74L1187.50 292.32L1188.00 288.89L1188.50 285.45L1189.00 282.00L1189.50 278.52L1190.00 274.93L1190.50 271.22L1191.00 267.43L1191.50 263.58L1192.00 259.69L1192.50 255.77L1193.00 251.86L1193.50 247.98L1194.00 244.15L1194.50 240.39L1195.00 236.66L1195.50 232.94L1196.00 229.23L1196.50 225.54L1197.00 221.88L1197.50 218.25L1198.00 214.67L1198.50 211.15L1199.00 207.68L1199.50 204.24L1200.00 200.83L1200.50 197.46L1201.00 194.12L1201.50 190.82L1202.00 187.55L1202.50 184.33L1203.00 181.14L1203.50 178.00L1204.00 174.90L1204.50 171.86L1205.00 168.87L1205.50 165.92L1206.00 163.02L1206.50 160.15L1207.00 157.29L1207.50 154.47L1208.00 151.69L1208.50 148.98L1209.00 146.37L1209.50 143.87L1210.00 141.46L1210.50 139.12L1211.00 136.83L1211.50 134.57L1212.00 132.31L1212.50 130.04L1213.00 127.70L1213.50 125.32L1214.00 122.95L1214.50 120.63L1215.00 118.44L1215.50 116.41L1216.00 114.59L1216.50 112.85L1217.00 111.20L1217.50 109.68L1218.00 108.33L1218.50 107.20L1219.00 106.22L1219.50 105.31L1220.00 104.50L1220.50 103.86L1221.00 103.40L1221.50 103.06L1222.00 102.75L1222.50 102.50L1223.00 102.31L1223.50 102.21L1224.00 102.22L1224.50 102.34L1225.00 102.54L1225.50 102.82L1226.00 103.13L1226.50 103.47L1227.00 103.92L1227.50 104.53L1228.00 105.28L1228.50 106.17L1229.00 107.20L1229.50 108.67L1230.00 110.69L1230.50 112.99L1231.00 115.30L1231.50 117.59L1232.00 120.02L1232.50 122.53L1233.00 125.09L1233.50 127.66L1234.00 130.20L1234.50 132.67L1235.00 135.10L1235.50 137.53L1236.00 140.01L1236.50 142.56L1237.00 145.23L1237.50 148.07L1238.00 151.07L1238.50 154.18L1239.00 157.36L1239.50 160.57L1240.00 163.80L1240.50 167.08L1241.00 170.42L1241.50 173.82L1242.00 177.29L1242.50 180.84L1243.00 184.44L1243.50 188.10L1244.00 191.81L1244.50 195.58L1245.00 199.40L1245.50 203.28L1246.00 207.20L1246.50 211.18L1247.00 215.24L1247.50 219.37L1248.00 223.58L1248.50 227.84L1249.00 232.15L1249.50 236.49L1250.00 240.86L1250.50 245.28L1251.00 249.80L1251.50 254.38L1252.00 259.00L1252.50 263.61L1253.00 268.20L1253.50 272.73L1254.00 277.17L1254.50 281.51L1255.00 285.82L1255.50 290.12L1256.00 294.42L1256.50 298.72L1257.00 303.00L1257.50 307.27L1258.00 311.52L1258.50 315.75L1259.00 319.97L1259.50 324.15L1260.00 328.31L1260.50 332.44L1261.00 336.54L1261.50 340.60L1262.00 344.62L1262.50 348.60L1263.00 352.53L1263.50 356.42L1264.00 360.25L1264.50 364.03L1265.00 367.76L1265.50 371.43L1266.00 375.03L1266.50 378.57L1267.00 382.02L1267.50 385.33L1268.00 388.52L1268.50 391.63L1269.00 394.70L1269.50 397.76L1270.00 400.76L1270.50 403.72L1271.00 406.63L1271.50 409.49L1272.00 412.31L1272.50 415.08L1273.00 417.81L1273.50 420.50L1274.00 423.15L1274.50 425.76L1275.00 428.35L1275.50 430.92L1276.00 433.45L1276.50 435.93L1277.00 438.33L1277.50 440.65L1278.00 442.91L1278.50 445.14L1279.00 447.32L1279.50 449.44L1280.00 451.49L1280.50 453.44L1281.00 455.29L1281.50 457.03L1282.00 458.69L1282.50 460.30L1283.00 461.84L1283.50 463.34L1284.00 464.80L1284.50 466.21L1285.00 467.59L1285.50 468.95L1286.00 470.28L1286.50 471.60L1287.00 472.92L1287.50 474.22L1288.00 475.50L1288.50 476.73L1289.00 477.89L1289.50 478.96L1290.00 479.94L1290.50 480.83L1291.00 481.68L1291.50 482.49L1292.00 483.27L1292.50 484.01L1293.00 484.72L1293.50 485.41L1294.00 486.07L1294.50 486.71L1295.00 487.32L1295.50 487.92L1296.00 488.51L1296.50 489.08L1297.00 489.63L1297.50 490.15L1298.00 490.66L1298.50 491.14L1299.00 491.61L1299.50 492.06L1300.00 492.50L1300.50 492.93L1301.00 493.34L1301.50 493.75L1302.00 494.14L1302.50 494.53L1303.00 494.90L1303.50 495.27L1304.00 495.62L1304.50 495.97L1305.00 496.30L1305.50 496.63L1306.00 496.97L1306.50 497.31L1307.00 497.64L1307.50 497.97L1308.00 498.28L1308.50 498.57L1309.00 498.85L1309.50 499.10L1310.00 499.31L1310.50 499.50L1311.00 499.66L1311.50 499.82L1312.00 499.98L1312.50 500.13L1313.00 500.27L1313.50 500.40L1314.00 500.53L1314.50 500.65L1315.00 500.76L1315.50 500.86L1316.00 500.95L1316.50 501.03L1317.00 501.10L1317.50 501.16L1318.00 501.20L1318.50 501.24L1319.00 501.28L1319.50 501.31L1320.00 501.35L1320.50 501.38L1321.00 501.41L1321.50 501.45L1322.00 501.48L1322.50 501.51L1323.00 501.53L1323.50 501.56L1324.00 501.59L1324.50 501.61L1325.00 501.64L1325.50 501.66L1326.00 501.68L1326.50 501.70L1327.00 501.71L1327.50 501.73L1328.00 501.74L1328.50 501.76L1329.00 501.77L1329.50 501.78L1330.00 501.79L1330.50 501.79L1331.00 501.80L1331.50 501.80L1332.00 501.80L1332.50 501.80L1333.00 501.80L1333.50 501.80L1334.00 501.80L1334.50 501.80L1335.00 501.80L1335.50 501.80L1336.00 501.80L1336.50 501.80L1337.00 501.80L1337.50 501.80L1338.00 501.80L1338.50 501.80L1339.00 501.80L1339.50 501.80L1340.00 501.80L1340.50 501.80L1341.00 501.80L1341.50 501.80L1342.00 501.80L1342.50 501.80L1343.00 501.80L1343.50 501.80L1344.00 501.80L1344.50 501.80L1344.60 501.80" fill="none" stroke="#00ff00" stroke-width="3.55" stroke-linejoin="round" stroke-linecap="round"/>
<path d="M912.90 503.10h5.20l-2.60 -4.40zM913.19 503.10h5.20l-2.60 -4.40zM913.48 503.10h5.20l-2.60 -4.40zM913.77 503.10h5.20l-2.60 -4.40zM914.06 503.10h5.20l-2.60 -4.40zM914.35 503.10h5.20l-2.60 -4.40zM914.64 503.10h5.20l-2.60 -4.40zM914.93 503.10h5.20l-2.60 -4.40zM915.22 503.10h5.20l-2.60 -4.40zM915.51 503.10h5.20l-2.60 -4.40zM915.80 503.10h5.20l-2.60 -4.40zM916.09 503.10h5.20l-2.60 -4.40zM916.38 503.10h5.20l-2.60 -4.40zM916.67 503.10h5.20l-2.60 -4.40zM916.96 503.10h5.20l-2.60 -4.40zM917.25 503.10h5.20l-2.60 -4.40zM917.54 503.10h5.20l-2.60 -4.40zM917.83 503.10h5.20l-2.60 -4.40zM918.12 503.10h5.20l-2.60 -4.40zM918.41 503.10h5.20l-2.60 -4.40zM918.70 503.10h5.20l-2.60 -4.40zM918.99 503.10h5.20l-2.60 -4.40zM919.28 503.10h5.20l-2.60 -4.40zM919.57 503.10h5.20l-2.60 -4.40zM919.86 503.10h5.20l-2.60 -4.40zM920.15 503.10h5.20l-2.60 -4.40zM920.44 503.10h5.20l-2.60 -4.40zM920.73 503.10h5.20l-2.60 -4.40zM921.02 503.10h5.20l-2.60 -4.40zM921.31 503.10h5.20l-2.60 -4.40zM921.60 503.10h5.20l-2.60 -4.40zM921.89 503.10h5.20l-2.60 -4.40zM922.18 503.10h5.20l-2.60 -4.40zM922.47 503.10h5.20l-2.60 -4.40zM922.76 503.10h5.20l-2.60 -4.40zM923.05 503.10h5.20l-2.60 -4.40zM923.34 503.10h5.20l-2.60 -4.40zM923.63 503.10h5.20l-2.60 -4.40zM923.92 503.10h5.20l-2.60 -4.40zM924.21 503.10h5.20l-2.60 -4.40zM924.50 503.10h5.20l-2.60 -4.40zM924.79 503.10h5.20l-2.60 -4.40zM925.08 503.10h5.20l-2.60 -4.40zM925.37 503.10h5.20l-2.60 -4.40zM925.66 503.10h5.20l-2.60 -4.40zM925.95 503.10h5.20l-2.60 -4.40zM926.24 503.10h5.20l-2.60 -4.40zM926.53 503.10h5.20l-2.60 -4.40zM926.82 503.10h5.20l-2.60 -4.40zM927.11 503.10h5.20l-2.60 -4.40zM927.40 503.10h5.20l-2.60 -4.40zM927.69 503.10h5.20l-2.60 -4.40zM927.98 503.10h5.20l-2.60 -4.40zM928.27 503.10h5.20l-2.60 -4.40zM928.56 503.10h5.20l-2.60 -4.40zM928.85 503.10h5.20l-2.60 -4.40zM929.14 503.10h5.20l-2.60 -4.40zM929.43 503.10h5.20l-2.60 -4.40zM929.72 503.10h5.20l-2.60 -4.40zM930.01 503.10h5.20l-2.60 -4.40zM930.30 503.10h5.20l-2.60 -4.40zM930.59 503.10h5.20l-2.60 -4.40zM930.88 503.10h5.20l-2.60 -4.40zM931.17 503.10h5.20l-2.60 -4.40zM931.46 503.10h5.20l-2.60 -4.40zM931.75 503.10h5.20l-2.60 -4.40zM932.04 503.10h5.20l-2.60 -4.40zM932.33 503.10h5.20l-2.60 -4.40zM932.62 503.10h5.20l-2.60 -4.40zM932.91 503.10h5.20l-2.60 -4.40zM933.20 503.10h5.20l-2.60 -4.40zM933.49 503.10h5.20l-2.60 -4.40zM933.78 503.10h5.20l-2.60 -4.40zM934.07 503.10h5.20l-2.60 -4.40zM934.36 503.10h5.20l-2.60 -4.40zM934.65 503.10h5.20l-2.60 -4.40zM934.94 503.10h5.20l-2.60 -4.40zM935.23 503.10h5.20l-2.60 -4.40zM935.52 503.10h5.20l-2.60 -4.40zM935.81 503.10h5.20l-2.60 -4.40zM936.10 503.10h5.20l-2.60 -4.40zM936.39 503.10h5.20l-2.60 -4.40zM936.68 503.10h5.20l-2.60 -4.40zM936.97 503.10h5.20l-2.60 -4.40zM937.26 503.10h5.20l-2.60 -4.40zM937.55 503.10h5.20l-2.60 -4.40zM937.84 503.10h5.20l-2.60 -4.40zM938.13 503.10h5.20l-2.60 -4.40zM938.42 503.10h5.20l-2.60 -4.40zM938.71 503.10h5.20l-2.60 -4.40zM939.00 503.10h5.20l-2.60 -4.40zM939.29 503.10h5.20l-2.60 -4.40zM939.58 503.10h5.20l-2.60 -4.40zM939.87 503.10h5.20l-2.60 -4.40zM940.16 503.10h5.20l-2.60 -4.40zM940.45 503.10h5.20l-2.60 -4.40zM940.74 503.10h5.20l-2.60 -4.40zM941.03 503.10h5.20l-2.60 -4.40zM941.32 503.09h5.20l-2.60 -4.40zM941.62 503.09h5.20l-2.60 -4.40zM941.91 503.08h5.20l-2.60 -4.40zM942.20 503.07h5.20l-2.60 -4.40zM942.49 503.07h5.20l-2.60 -4.40zM942.78 503.06h5.20l-2.60 -4.40zM943.07 503.05h5.20l-2.60 -4.40zM943.37 503.04h5.20l-2.60 -4.40zM943.66 503.03h5.20l-2.60 -4.40zM943.95 503.02h5.20l-2.60 -4.40zM944.24 503.01h5.20l-2.60 -4.40zM944.53 502.99h5.20l-2.60 -4.40zM944.82 502.98h5.20l-2.60 -4.40zM945.12 502.97h5.20l-2.60 -4.40zM945.41 502.95h5.20l-2.60 -4.40zM945.70 502.94h5.20l-2.60 -4.40zM945.99 502.92h5.20l-2.60 -4.40zM946.28 502.91h5.20l-2.60 -4.40zM946.57 502.89h5.20l-2.60 -4.40zM946.86 502.87h5.20l-2.60 -4.40zM947.15 502.86h5.20l-2.60 -4.40zM947.45 502.84h5.20l-2.60 -4.40zM947.74 502.82h5.20l-2.60 -4.40zM948.03 502.80h5.20l-2.60 -4.40zM948.32 502.79h5.20l-2.60 -4.40zM948.61 502.77h5.20l-2.60 -4.40zM948.90 502.75h5.20l-2.60 -4.40zM949.19 502.73h5.20l-2.60 -4.40zM949.48 502.71h5.20l-2.60 -4.40zM949.77 502.69h5.20l-2.60 -4.40zM950.06 502.67h5.20l-2.60 -4.40zM950.35 502.65h5.20l-2.60 -4.40zM950.64 502.62h5.20l-2.60 -4.40zM950.93 502.60h5.20l-2.60 -4.40zM951.22 502.58h5.20l-2.60 -4.40zM951.52 502.56h5.20l-2.60 -4.40zM951.81 502.54h5.20l-2.60 -4.40zM952.10 502.52h5.20l-2.60 -4.40zM952.39 502.50h5.20l-2.60 -4.40zM952.68 502.47h5.20l-2.60 -4.40zM952.97 502.45h5.20l-2.60 -4.40zM953.26 502.43h5.20l-2.60 -4.40zM953.55 502.41h5.20l-2.60 -4.40zM953.84 502.38h5.20l-2.60 -4.40zM954.13 502.36h5.20l-2.60 -4.40zM954.42 502.34h5.20l-2.60 -4.40zM954.71 502.32h5.20l-2.60 -4.40zM955.00 502.29h5.20l-2.60 -4.40zM955.29 502.27h5.20l-2.60 -4.40zM955.58 502.25h5.20l-2.60 -4.40zM955.87 502.23h5.20l-2.60 -4.40zM956.16 502.21h5.20l-2.60 -4.40zM956.45 502.18h5.20l-2.60 -4.40zM956.74 502.16h5.20l-2.60 -4.40zM957.03 502.14h5.20l-2.60 -4.40zM957.32 502.12h5.20l-2.60 -4.40zM957.61 502.10h5.20l-2.60 -4.40zM957.90 502.08h5.20l-2.60 -4.40zM958.19 502.06h5.20l-2.60 -4.40zM958.48 502.04h5.20l-2.60 -4.40zM958.77 502.02h5.20l-2.60 -4.40zM959.06 502.00h5.20l-2.60 -4.40zM959.35 501.98h5.20l-2.60 -4.40zM959.63 501.96h5.20l-2.60 -4.40zM959.92 501.94h5.20l-2.60 -4.40zM960.21 501.92h5.20l-2.60 -4.40zM960.50 501.90h5.20l-2.60 -4.40zM960.79 501.88h5.20l-2.60 -4.40zM961.08 501.87h5.20l-2.60 -4.40zM961.37 501.85h5.20l-2.60 -4.40zM961.66 501.83h5.20l-2.60 -4.40zM961.95 501.82h5.20l-2.60 -4.40zM962.24 501.80h5.20l-2.60 -4.40zM962.53 501.78h5.20l-2.60 -4.40zM962.82 501.76h5.20l-2.60 -4.40zM963.11 501.74h5.20l-2.60 -4.40zM963.40 501.72h5.20l-2.60 -4.40zM963.69 501.70h5.20l-2.60 -4.40zM963.98 501.68h5.20l-2.60 -4.40zM964.27 501.66h5.20l-2.60 -4.40zM964.56 501.64h5.20l-2.60 -4.40zM964.85 501.62h5.20l-2.60 -4.40zM965.14 501.60h5.20l-2.60 -4.40zM965.43 501.58h5.20l-2.60 -4.40zM965.72 501.56h5.20l-2.60 -4.40zM966.01 501.54h5.20l-2.60 -4.40zM966.30 501.52h5.20l-2.60 -4.40zM966.59 501.50h5.20l-2.60 -4.40zM966.89 501.48h5.20l-2.60 -4.40zM967.18 501.45h5.20l-2.60 -4.40zM967.47 501.43h5.20l-2.60 -4.40zM967.76 501.41h5.20l-2.60 -4.40zM968.05 501.39h5.20l-2.60 -4.40zM968.34 501.37h5.20l-2.60 -4.40zM968.63 501.35h5.20l-2.60 -4.40zM968.92 501.33h5.20l-2.60 -4.40zM969.21 501.31h5.20l-2.60 -4.40zM969.50 501.28h5.20l-2.60 -4.40zM969.79 501.26h5.20l-2.60 -4.40zM970.08 501.24h5.20l-2.60 -4.40zM970.37 501.22h5.20l-2.60 -4.40zM970.66 501.20h5.20l-2.60 -4.40zM970.95 501.18h5.20l-2.60 -4.40zM971.24 501.16h5.20l-2.60 -4.40zM971.53 501.13h5.20l-2.60 -4.40zM971.82 501.11h5.20l-2.60 -4.40zM972.11 501.09h5.20l-2.60 -4.40zM972.40 501.07h5.20l-2.60 -4.40zM972.69 501.05h5.20l-2.60 -4.40zM972.98 501.03h5.20l-2.60 -4.40zM973.27 501.01h5.20l-2.60 -4.40zM973.56 500.99h5.20l-2.60 -4.40zM973.85 500.96h5.20l-2.60 -4.40zM974.14 500.94h5.20l-2.60 -4.40zM974.43 500.92h5.20l-2.60 -4.40zM974.72 500.90h5.20l-2.60 -4.40zM975.01 500.88h5.20l-2.60 -4.40zM975.30 500.86h5.20l-2.60 -4.40zM975.59 500.84h5.20l-2.60 -4.40zM975.88 500.82h5.20l-2.60 -4.40zM976.17 500.80h5.20l-2.60 -4.40zM976.45 500.78h5.20l-2.60 -4.40zM976.74 500.76h5.20l-2.60 -4.40zM977.03 500.74h5.20l-2.60 -4.40zM977.32 500.72h5.20l-2.60 -4.40zM977.61 500.70h5.20l-2.60 -4.40zM977.90 500.68h5.20l-2.60 -4.40zM978.19 500.66h5.20l-2.60 -4.40zM978.48 500.65h5.20l-2.60 -4.40zM978.77 500.63h5.20l-2.60 -4.40zM979.06 500.61h5.20l-2.60 -4.40zM979.35 500.59h5.20l-2.60 -4.40zM979.64 500.57h5.20l-2.60 -4.40zM979.93 500.56h5.20l-2.60 -4.40zM980.22 500.54h5.20l-2.60 -4.40zM980.51 500.52h5.20l-2.60 -4.40zM980.80 500.50h5.20l-2.60 -4.40zM981.09 500.49h5.20l-2.60 -4.40zM981.38 500.47h5.20l-2.60 -4.40zM981.67 500.45h5.20l-2.60 -4.40zM981.96 500.44h5.20l-2.60 -4.40zM982.25 500.42h5.20l-2.60 -4.40zM982.54 500.41h5.20l-2.60 -4.40zM982.83 500.39h5.20l-2.60 -4.40zM983.12 500.38h5.20l-2.60 -4.40zM983.41 500.36h5.20l-2.60 -4.40zM983.70 500.35h5.20l-2.60 -4.40zM983.98 500.33h5.20l-2.60 -4.40zM984.27 500.32h5.20l-2.60 -4.40zM984.56 500.31h5.20l-2.60 -4.40zM984.85 500.29h5.20l-2.60 -4.40zM985.14 500.28h5.20l-2.60 -4.40zM985.43 500.27h5.20l-2.60 -4.40zM985.72 500.26h5.20l-2.60 -4.40zM986.01 500.25h5.20l-2.60 -4.40zM986.30 500.23h5.20l-2.60 -4.40zM986.59 500.22h5.20l-2.60 -4.40zM986.88 500.21h5.20l-2.60 -4.40zM987.17 500.19h5.20l-2.60 -4.40zM987.46 500.18h5.20l-2.60 -4.40zM987.75 500.17h5.20l-2.60 -4.40zM988.04 500.15h5.20l-2.60 -4.40zM988.33 500.14h5.20l-2.60 -4.40zM988.62 500.13h5.20l-2.60 -4.40zM988.91 500.11h5.20l-2.60 -4.40zM989.20 500.10h5.20l-2.60 -4.40zM989.49 500.09h5.20l-2.60 -4.40zM989.78 500.07h5.20l-2.60 -4.40zM990.07 500.06h5.20l-2.60 -4.40zM990.36 500.05h5.20l-2.60 -4.40zM990.65 500.03h5.20l-2.60 -4.40zM990.94 500.02h5.20l-2.60 -4.40zM991.23 500.01h5.20l-2.60 -4.40zM991.52 499.99h5.20l-2.60 -4.40zM991.81 499.98h5.20l-2.60 -4.40zM992.10 499.97h5.20l-2.60 -4.40zM992.39 499.96h5.20l-2.60 -4.40zM992.68 499.94h5.20l-2.60 -4.40zM992.97 499.93h5.20l-2.60 -4.40zM993.26 499.92h5.20l-2.60 -4.40zM993.55 499.90h5.20l-2.60 -4.40zM993.84 499.89h5.20l-2.60 -4.40zM994.13 499.88h5.20l-2.60 -4.40zM994.42 499.87h5.20l-2.60 -4.40zM994.71 499.85h5.20l-2.60 -4.40zM995.00 499.84h5.20l-2.60 -4.40zM995.29 499.83h5.20l-2.60 -4.40zM995.58 499.82h5.20l-2.60 -4.40zM995.87 499.81h5.20l-2.60 -4.40zM996.16 499.79h5.20l-2.60 -4.40zM996.45 499.78h5.20l-2.60 -4.40zM996.74 499.77h5.20l-2.60 -4.40zM997.03 499.76h5.20l-2.60 -4.40zM997.32 499.75h5.20l-2.60 -4.40zM997.61 499.74h5.20l-2.60 -4.40zM997.90 499.73h5.20l-2.60 -4.40zM998.19 499.72h5.20l-2.60 -4.40zM998.48 499.71h5.20l-2.60 -4.40zM998.77 499.70h5.20l-2.60 -4.40zM999.06 499.69h5.20l-2.60 -4.40zM999.34 499.68h5.20l-2.60 -4.40zM999.63 499.67h5.20l-2.60 -4.40zM999.92 499.66h5.20l-2.60 -4.40zM1000.21 499.65h5.20l-2.60 -4.40zM1000.50 499.64h5.20l-2.60 -4.40zM1000.79 499.63h5.20l-2.60 -4.40zM1001.08 499.62h5.20l-2.60 -4.40zM1001.37 499.61h5.20l-2.60 -4.40zM1001.66 499.61h5.20l-2.60 -4.40zM1001.95 499.60h5.20l-2.60 -4.40zM1002.24 499.59h5.20l-2.60 -4.40zM1002.53 499.58h5.20l-2.60 -4.40zM1002.82 499.58h5.20l-2.60 -4.40zM1003.11 499.57h5.20l-2.60 -4.40zM1003.40 499.56h5.20l-2.60 -4.40zM1003.69 499.56h5.20l-2.60 -4.40zM1003.98 499.55h5.20l-2.60 -4.40zM1004.27 499.54h5.20l-2.60 -4.40zM1004.56 499.54h5.20l-2.60 -4.40zM1004.85 499.53h5.20l-2.60 -4.40zM1005.13 499.53h5.20l-2.60 -4.40zM1005.42 499.52h5.20l-2.60 -4.40zM1005.71 499.52h5.20l-2.60 -4.40zM1006.00 499.52h5.20l-2.60 -4.40zM1006.29 499.51h5.20l-2.60 -4.40zM1006.58 499.51h5.20l-2.60 -4.40zM1006.87 499.51h5.20l-2.60 -4.40zM1007.16 499.50h5.20l-2.60 -4.40zM1007.45 499.50h5.20l-2.60 -4.40zM1007.74 499.50h5.20l-2.60 -4.40zM1008.03 499.50h5.20l-2.60 -4.40zM1008.32 499.50h5.20l-2.60 -4.40zM1008.61 499.50h5.20l-2.60 -4.40zM1008.89 499.50h5.20l-2.60 -4.40zM1009.18 499.50h5.20l-2.60 -4.40zM1009.47 499.50h5.20l-2.60 -4.40zM1009.76 499.50h5.20l-2.60 -4.40zM1010.05 499.50h5.20l-2.60 -4.40zM1010.34 499.50h5.20l-2.60 -4.40zM1010.63 499.50h5.20l-2.60 -4.40zM1010.92 499.50h5.20l-2.60 -4.40zM1011.21 499.50h5.20l-2.60 -4.40zM1011.49 499.50h5.20l-2.60 -4.40zM1011.78 499.50h5.20l-2.60 -4.40zM1012.07 499.50h5.20l-2.60 -4.40zM1012.36 499.50h5.20l-2.60 -4.40zM1012.65 499.50h5.20l-2.60 -4.40zM1012.94 499.50h5.20l-2.60 -4.40zM1013.23 499.50h5.20l-2.60 -4.40zM1013.52 499.51h5.20l-2.60 -4.40zM1013.81 499.51h5.20l-2.60 -4.40zM1014.10 499.51h5.20l-2.60 -4.40zM1014.39 499.52h5.20l-2.60 -4.40zM1014.67 499.52h5.20l-2.60 -4.40zM1014.96 499.53h5.20l-2.60 -4.40zM1015.25 499.53h5.20l-2.60 -4.40zM1015.54 499.54h5.20l-2.60 -4.40zM1015.83 499.55h5.20l-2.60 -4.40zM1016.12 499.55h5.20l-2.60 -4.40zM1016.41 499.56h5.20l-2.60 -4.40zM1016.70 499.57h5.20l-2.60 -4.40zM1016.99 499.57h5.20l-2.60 -4.40zM1017.28 499.58h5.20l-2.60 -4.40zM1017.57 499.59h5.20l-2.60 -4.40zM1017.86 499.60h5.20l-2.60 -4.40zM1018.15 499.61h5.20l-2.60 -4.40zM1018.44 499.61h5.20l-2.60 -4.40zM1018.73 499.62h5.20l-2.60 -4.40zM1019.02 499.63h5.20l-2.60 -4.40zM1019.31 499.64h5.20l-2.60 -4.40zM1019.60 499.65h5.20l-2.60 -4.40zM1019.89 499.66h5.20l-2.60 -4.40zM1020.18 499.67h5.20l-2.60 -4.40zM1020.47 499.68h5.20l-2.60 -4.40zM1020.75 499.69h5.20l-2.60 -4.40zM1021.04 499.70h5.20l-2.60 -4.40zM1021.33 499.71h5.20l-2.60 -4.40zM1021.62 499.72h5.20l-2.60 -4.40zM1021.91 499.73h5.20l-2.60 -4.40zM1022.20 499.74h5.20l-2.60 -4.40zM1022.49 499.76h5.20l-2.60 -4.40zM1022.78 499.77h5.20l-2.60 -4.40zM1023.07 499.78h5.20l-2.60 -4.40zM1023.36 499.79h5.20l-2.60 -4.40zM1023.65 499.80h5.20l-2.60 -4.40zM1023.94 499.81h5.20l-2.60 -4.40zM1024.24 499.82h5.20l-2.60 -4.40zM1024.53 499.83h5.20l-2.60 -4.40zM1024.82 499.84h5.20l-2.60 -4.40zM1025.11 499.85h5.20l-2.60 -4.40zM1025.40 499.86h5.20l-2.60 -4.40zM1025.69 499.87h5.20l-2.60 -4.40zM1025.98 499.89h5.20l-2.60 -4.40zM1026.27 499.90h5.20l-2.60 -4.40zM1026.56 499.91h5.20l-2.60 -4.40zM1026.85 499.92h5.20l-2.60 -4.40zM1027.14 499.93h5.20l-2.60 -4.40zM1027.43 499.94h5.20l-2.60 -4.40zM1027.72 499.95h5.20l-2.60 -4.40zM1028.01 499.96h5.20l-2.60 -4.40zM1028.30 499.97h5.20l-2.60 -4.40zM1028.59 499.97h5.20l-2.60 -4.40zM1028.88 499.98h5.20l-2.60 -4.40zM1029.17 499.99h5.20l-2.60 -4.40zM1029.46 500.00h5.20l-2.60 -4.40zM1029.75 500.01h5.20l-2.60 -4.40zM1030.04 500.02h5.20l-2.60 -4.40zM1030.34 500.03h5.20l-2.60 -4.40zM1030.63 500.03h5.20l-2.60 -4.40zM1030.92 500.04h5.20l-2.60 -4.40zM1031.21 500.05h5.20l-2.60 -4.40zM1031.50 500.05h5.20l-2.60 -4.40zM1031.79 500.06h5.20l-2.60 -4.40zM1032.08 500.07h5.20l-2.60 -4.40zM1032.37 500.07h5.20l-2.60 -4.40zM1032.66 500.08h5.20l-2.60 -4.40zM1032.95 500.08h5.20l-2.60 -4.40zM1033.24 500.09h5.20l-2.60 -4.40zM1033.54 500.09h5.20l-2.60 -4.40zM1033.83 500.09h5.20l-2.60 -4.40zM1034.12 500.10h5.20l-2.60 -4.40zM1034.41 500.10h5.20l-2.60 -4.40zM1034.70 500.10h5.20l-2.60 -4.40zM1034.99 500.09h5.20l-2.60 -4.40zM1035.29 500.08h5.20l-2.60 -4.40zM1035.58 500.07h5.20l-2.60 -4.40zM1035.87 500.07h5.20l-2.60 -4.40zM1036.16 500.06h5.20l-2.60 -4.40zM1036.46 500.04h5.20l-2.60 -4.40zM1036.75 500.03h5.20l-2.60 -4.40zM1037.04 500.02h5.20l-2.60 -4.40zM1037.33 500.01h5.20l-2.60 -4.40zM1037.63 499.99h5.20l-2.60 -4.40zM1037.92 499.98h5.20l-2.60 -4.40zM1038.21 499.96h5.20l-2.60 -4.40zM1038.50 499.94h5.20l-2.60 -4.40zM1038.79 499.93h5.20l-2.60 -4.40zM1039.08 499.91h5.20l-2.60 -4.40zM1039.38 499.89h5.20l-2.60 -4.40zM1039.67 499.87h5.20l-2.60 -4.40zM1039.96 499.85h5.20l-2.60 -4.40zM1040.25 499.83h5.20l-2.60 -4.40zM1040.54 499.81h5.20l-2.60 -4.40zM1040.83 499.79h5.20l-2.60 -4.40zM1041.12 499.76h5.20l-2.60 -4.40zM1041.41 499.74h5.20l-2.60 -4.40zM1041.71 499.72h5.20l-2.60 -4.40zM1042.00 499.69h5.20l-2.60 -4.40zM1042.29 499.67h5.20l-2.60 -4.40zM1042.58 499.64h5.20l-2.60 -4.40zM1042.87 499.62h5.20l-2.60 -4.40zM1043.16 499.59h5.20l-2.60 -4.40zM1043.45 499.57h5.20l-2.60 -4.40zM1043.74 499.54h5.20l-2.60 -4.40zM1044.03 499.51h5.20l-2.60 -4.40zM1044.32 499.49h5.20l-2.60 -4.40zM1044.61 499.46h5.20l-2.60 -4.40zM1044.90 499.43h5.20l-2.60 -4.40zM1045.20 499.40h5.20l-2.60 -4.40zM1045.49 499.38h5.20l-2.60 -4.40zM1045.78 499.35h5.20l-2.60 -4.40zM1046.07 499.32h5.20l-2.60 -4.40zM1046.36 499.29h5.20l-2.60 -4.40zM1046.65 499.26h5.20l-2.60 -4.40zM1046.94 499.23h5.20l-2.60 -4.40zM1047.23 499.21h5.20l-2.60 -4.40zM1047.52 499.18h5.20l-2.60 -4.40zM1047.81 499.15h5.20l-2.60 -4.40zM1048.10 499.12h5.20l-2.60 -4.40zM1048.39 499.09h5.20l-2.60 -4.40zM1048.68 499.06h5.20l-2.60 -4.40zM1048.97 499.03h5.20l-2.60 -4.40zM1049.26 499.00h5.20l-2.60 -4.40zM1049.55 498.98h5.20l-2.60 -4.40zM1049.84 498.95h5.20l-2.60 -4.40zM1050.13 498.92h5.20l-2.60 -4.40zM1050.42 498.89h5.20l-2.60 -4.40zM1050.71 498.86h5.20l-2.60 -4.40zM1051.00 498.82h5.20l-2.60 -4.40zM1051.29 498.78h5.20l-2.60 -4.40zM1051.59 498.74h5.20l-2.60 -4.40zM1051.88 498.70h5.20l-2.60 -4.40zM1052.17 498.66h5.20l-2.60 -4.40zM1052.46 498.61h5.20l-2.60 -4.40zM1052.75 498.56h5.20l-2.60 -4.40zM1053.05 498.52h5.20l-2.60 -4.40zM1053.34 498.47h5.20l-2.60 -4.40zM1053.63 498.42h5.20l-2.60 -4.40zM1053.92 498.37h5.20l-2.60 -4.40zM1054.21 498.32h5.20l-2.60 -4.40zM1054.50 498.26h5.20l-2.60 -4.40zM1054.79 498.21h5.20l-2.60 -4.40zM1055.08 498.16h5.20l-2.60 -4.40zM1055.38 498.10h5.20l-2.60 -4.40zM1055.67 498.05h5.20l-2.60 -4.40zM1055.96 497.99h5.20l-2.60 -4.40zM1056.25 497.94h5.20l-2.60 -4.40zM1056.54 497.88h5.20l-2.60 -4.40zM1056.83 497.82h5.20l-2.60 -4.40zM1057.12 497.76h5.20l-2.60 -4.40zM1057.41 497.71h5.20l-2.60 -4.40zM1057.70 497.65h5.20l-2.60 -4.40zM1057.99 497.59h5.20l-2.60 -4.40zM1058.28 497.53h5.20l-2.60 -4.40zM1058.57 497.47h5.20l-2.60 -4.40zM1058.86 497.41h5.20l-2.60 -4.40zM1059.15 497.36h5.20l-2.60 -4.40zM1059.44 497.30h5.20l-2.60 -4.40zM1059.73 497.24h5.20l-2.60 -4.40zM1060.02 497.18h5.20l-2.60 -4.40zM1060.31 497.12h5.20l-2.60 -4.40zM1060.60 497.06h5.20l-2.60 -4.40zM1060.89 497.01h5.20l-2.60 -4.40zM1061.18 496.95h5.20l-2.60 -4.40zM1061.47 496.89h5.20l-2.60 -4.40zM1061.76 496.84h5.20l-2.60 -4.40zM1062.05 496.78h5.20l-2.60 -4.40zM1062.34 496.73h5.20l-2.60 -4.40zM1062.63 496.67h5.20l-2.60 -4.40zM1062.92 496.62h5.20l-2.60 -4.40zM1063.21 496.57h5.20l-2.60 -4.40zM1063.50 496.52h5.20l-2.60 -4.40zM1063.79 496.47h5.20l-2.60 -4.40zM1064.08 496.42h5.20l-2.60 -4.40zM1064.37 496.37h5.20l-2.60 -4.40zM1064.66 496.32h5.20l-2.60 -4.40zM1064.95 496.27h5.20l-2.60 -4.40zM1065.23 496.23h5.20l-2.60 -4.40zM1065.52 496.18h5.20l-2.60 -4.40zM1065.81 496.14h5.20l-2.60 -4.40zM1066.10 496.10h5.20l-2.60 -4.40zM1066.39 496.06h5.20l-2.60 -4.40zM1066.68 496.02h5.20l-2.60 -4.40zM1066.97 495.98h5.20l-2.60 -4.40zM1067.26 495.94h5.20l-2.60 -4.40zM1067.55 495.89h5.20l-2.60 -4.40zM1067.84 495.84h5.20l-2.60 -4.40zM1068.13 495.80h5.20l-2.60 -4.40zM1068.42 495.75h5.20l-2.60 -4.40zM1068.71 495.70h5.20l-2.60 -4.40zM1069.00 495.66h5.20l-2.60 -4.40zM1069.29 495.61h5.20l-2.60 -4.40zM1069.58 495.56h5.20l-2.60 -4.40zM1069.87 495.51h5.20l-2.60 -4.40zM1070.16 495.47h5.20l-2.60 -4.40zM1070.45 495.42h5.20l-2.60 -4.40zM1070.74 495.37h5.20l-2.60 -4.40zM1071.03 495.33h5.20l-2.60 -4.40zM1071.32 495.28h5.20l-2.60 -4.40zM1071.61 495.24h5.20l-2.60 -4.40zM1071.90 495.19h5.20l-2.60 -4.40zM1072.19 495.14h5.20l-2.60 -4.40zM1072.48 495.10h5.20l-2.60 -4.40zM1072.77 495.05h5.20l-2.60 -4.40zM1073.06 495.01h5.20l-2.60 -4.40zM1073.35 494.97h5.20l-2.60 -4.40zM1073.64 494.92h5.20l-2.60 -4.40zM1073.93 494.88h5.20l-2.60 -4.40zM1074.22 494.84h5.20l-2.60 -4.40zM1074.51 494.80h5.20l-2.60 -4.40zM1074.80 494.76h5.20l-2.60 -4.40zM1075.09 494.72h5.20l-2.60 -4.40zM1075.38 494.68h5.20l-2.60 -4.40zM1075.67 494.64h5.20l-2.60 -4.40zM1075.96 494.60h5.20l-2.60 -4.40zM1076.24 494.56h5.20l-2.60 -4.40zM1076.53 494.53h5.20l-2.60 -4.40zM1076.82 494.49h5.20l-2.60 -4.40zM1077.11 494.46h5.20l-2.60 -4.40zM1077.40 494.43h5.20l-2.60 -4.40zM1077.69 494.39h5.20l-2.60 -4.40zM1077.98 494.36h5.20l-2.60 -4.40zM1078.27 494.33h5.20l-2.60 -4.40zM1078.56 494.31h5.20l-2.60 -4.40zM1078.84 494.28h5.20l-2.60 -4.40zM1079.13 494.25h5.20l-2.60 -4.40zM1079.42 494.23h5.20l-2.60 -4.40zM1079.71 494.20h5.20l-2.60 -4.40zM1080.00 494.18h5.20l-2.60 -4.40zM1080.29 494.16h5.20l-2.60 -4.40zM1080.57 494.14h5.20l-2.60 -4.40zM1080.86 494.12h5.20l-2.60 -4.40zM1081.15 494.11h5.20l-2.60 -4.40zM1081.44 494.09h5.20l-2.60 -4.40zM1081.72 494.08h5.20l-2.60 -4.40zM1082.01 494.07h5.20l-2.60 -4.40zM1082.30 494.06h5.20l-2.60 -4.40zM1082.58 494.05h5.20l-2.60 -4.40zM1082.87 494.04h5.20l-2.60 -4.40zM1083.16 494.03h5.20l-2.60 -4.40zM1083.45 494.02h5.20l-2.60 -4.40zM1083.74 494.01h5.20l-2.60 -4.40zM1084.03 493.99h5.20l-2.60 -4.40zM1084.32 493.98h5.20l-2.60 -4.40zM1084.61 493.97h5.20l-2.60 -4.40zM1084.90 493.96h5.20l-2.60 -4.40zM1085.19 493.95h5.20l-2.60 -4.40zM1085.48 493.93h5.20l-2.60 -4.40zM1085.77 493.92h5.20l-2.60 -4.40zM1086.06 493.91h5.20l-2.60 -4.40zM1086.35 493.90h5.20l-2.60 -4.40zM1086.64 493.89h5.20l-2.60 -4.40zM1086.93 493.88h5.20l-2.60 -4.40zM1087.22 493.87h5.20l-2.60 -4.40zM1087.51 493.86h5.20l-2.60 -4.40zM1087.80 493.85h5.20l-2.60 -4.40zM1088.08 493.84h5.20l-2.60 -4.40zM1088.37 493.83h5.20l-2.60 -4.40zM1088.66 493.82h5.20l-2.60 -4.40zM1088.95 493.81h5.20l-2.60 -4.40zM1089.24 493.80h5.20l-2.60 -4.40zM1089.53 493.80h5.20l-2.60 -4.40zM1089.82 493.79h5.20l-2.60 -4.40zM1090.11 493.78h5.20l-2.60 -4.40zM1090.40 493.77h5.20l-2.60 -4.40zM1090.69 493.77h5.20l-2.60 -4.40zM1090.98 493.76h5.20l-2.60 -4.40zM1091.27 493.75h5.20l-2.60 -4.40zM1091.56 493.75h5.20l-2.60 -4.40zM1091.85 493.74h5.20l-2.60 -4.40zM1092.14 493.73h5.20l-2.60 -4.40zM1092.43 493.73h5.20l-2.60 -4.40zM1092.71 493.72h5.20l-2.60 -4.40zM1093.00 493.72h5.20l-2.60 -4.40zM1093.29 493.72h5.20l-2.60 -4.40zM1093.58 493.71h5.20l-2.60 -4.40zM1093.87 493.71h5.20l-2.60 -4.40zM1094.16 493.71h5.20l-2.60 -4.40zM1094.45 493.70h5.20l-2.60 -4.40zM1094.74 493.70h5.20l-2.60 -4.40zM1095.03 493.70h5.20l-2.60 -4.40zM1095.32 493.70h5.20l-2.60 -4.40zM1095.61 493.70h5.20l-2.60 -4.40zM1095.90 493.70h5.20l-2.60 -4.40zM1096.18 493.70h5.20l-2.60 -4.40zM1096.47 493.70h5.20l-2.60 -4.40zM1096.76 493.70h5.20l-2.60 -4.40zM1097.05 493.70h5.20l-2.60 -4.40zM1097.34 493.70h5.20l-2.60 -4.40zM1097.63 493.70h5.20l-2.60 -4.40zM1097.92 493.70h5.20l-2.60 -4.40zM1098.21 493.70h5.20l-2.60 -4.40zM1098.50 493.70h5.20l-2.60 -4.40zM1098.79 493.70h5.20l-2.60 -4.40zM1099.08 493.70h5.20l-2.60 -4.40zM1099.37 493.70h5.20l-2.60 -4.40zM1099.66 493.70h5.20l-2.60 -4.40zM1099.95 493.70h5.20l-2.60 -4.40zM1100.24 493.70h5.20l-2.60 -4.40zM1100.53 493.70h5.20l-2.60 -4.40zM1100.82 493.70h5.20l-2.60 -4.40zM1101.11 493.70h5.20l-2.60 -4.40zM1101.40 493.70h5.20l-2.60 -4.40zM1101.69 493.70h5.20l-2.60 -4.40zM1101.98 493.70h5.20l-2.60 -4.40zM1102.27 493.70h5.20l-2.60 -4.40zM1102.56 493.70h5.20l-2.60 -4.40zM1102.85 493.70h5.20l-2.60 -4.40zM1103.14 493.70h5.20l-2.60 -4.40zM1103.43 493.70h5.20l-2.60 -4.40zM1103.72 493.70h5.20l-2.60 -4.40zM1104.01 493.70h5.20l-2.60 -4.40zM1104.30 493.70h5.20l-2.60 -4.40zM1104.59 493.70h5.20l-2.60 -4.40zM1104.88 493.70h5.20l-2.60 -4.40zM1105.17 493.70h5.20l-2.60 -4.40zM1105.46 493.70h5.20l-2.60 -4.40zM1105.75 493.70h5.20l-2.60 -4.40zM1106.04 493.70h5.20l-2.60 -4.40zM1106.33 493.70h5.20l-2.60 -4.40zM1106.62 493.70h5.20l-2.60 -4.40zM1106.92 493.69h5.20l-2.60 -4.40zM1107.21 493.67h5.20l-2.60 -4.40zM1107.51 493.66h5.20l-2.60 -4.40zM1107.80 493.64h5.20l-2.60 -4.40zM1108.09 493.63h5.20l-2.60 -4.40zM1108.39 493.61h5.20l-2.60 -4.40zM1108.68 493.59h5.20l-2.60 -4.40zM1108.97 493.57h5.20l-2.60 -4.40zM1109.27 493.54h5.20l-2.60 -4.40zM1109.56 493.52h5.20l-2.60 -4.40zM1109.85 493.49h5.20l-2.60 -4.40zM1110.15 493.47h5.20l-2.60 -4.40zM1110.44 493.44h5.20l-2.60 -4.40zM1110.73 493.41h5.20l-2.60 -4.40zM1111.02 493.38h5.20l-2.60 -4.40zM1111.31 493.35h5.20l-2.60 -4.40zM1111.61 493.32h5.20l-2.60 -4.40zM1111.90 493.29h5.20l-2.60 -4.40zM1112.19 493.26h5.20l-2.60 -4.40zM1112.48 493.22h5.20l-2.60 -4.40zM1112.77 493.19h5.20l-2.60 -4.40zM1113.06 493.16h5.20l-2.60 -4.40zM1113.35 493.12h5.20l-2.60 -4.40zM1113.64 493.09h5.20l-2.60 -4.40zM1113.94 493.05h5.20l-2.60 -4.40zM1114.23 493.01h5.20l-2.60 -4.40zM1114.52 492.98h5.20l-2.60 -4.40zM1114.81 492.94h5.20l-2.60 -4.40zM1115.10 492.90h5.20l-2.60 -4.40zM1115.39 492.87h5.20l-2.60 -4.40zM1115.68 492.83h5.20l-2.60 -4.40zM1115.97 492.79h5.20l-2.60 -4.40zM1116.26 492.76h5.20l-2.60 -4.40zM1116.55 492.71h5.20l-2.60 -4.40zM1116.85 492.66h5.20l-2.60 -4.40zM1117.14 492.60h5.20l-2.60 -4.40zM1117.43 492.54h5.20l-2.60 -4.40zM1117.72 492.48h5.20l-2.60 -4.40zM1118.02 492.42h5.20l-2.60 -4.40zM1118.31 492.35h5.20l-2.60 -4.40zM1118.60 492.28h5.20l-2.60 -4.40zM1118.89 492.21h5.20l-2.60 -4.40zM1119.18 492.13h5.20l-2.60 -4.40zM1119.47 492.05h5.20l-2.60 -4.40zM1119.77 491.97h5.20l-2.60 -4.40zM1120.06 491.89h5.20l-2.60 -4.40zM1120.35 491.81h5.20l-2.60 -4.40zM1120.64 491.72h5.20l-2.60 -4.40zM1120.93 491.63h5.20l-2.60 -4.40zM1121.22 491.54h5.20l-2.60 -4.40zM1121.51 491.45h5.20l-2.60 -4.40zM1121.79 491.35h5.20l-2.60 -4.40zM1122.08 491.25h5.20l-2.60 -4.40zM1122.37 491.15h5.20l-2.60 -4.40zM1122.66 491.05h5.20l-2.60 -4.40zM1122.95 490.95h5.20l-2.60 -4.40zM1123.24 490.84h5.20l-2.60 -4.40zM1123.53 490.74h5.20l-2.60 -4.40zM1123.82 490.63h5.20l-2.60 -4.40zM1124.11 490.52h5.20l-2.60 -4.40zM1124.39 490.41h5.20l-2.60 -4.40zM1124.68 490.29h5.20l-2.60 -4.40zM1124.97 490.18h5.20l-2.60 -4.40zM1125.26 490.06h5.20l-2.60 -4.40zM1125.55 489.93h5.20l-2.60 -4.40zM1125.83 489.78h5.20l-2.60 -4.40zM1126.11 489.63h5.20l-2.60 -4.40zM1126.39 489.46h5.20l-2.60 -4.40zM1126.67 489.29h5.20l-2.60 -4.40zM1126.94 489.12h5.20l-2.60 -4.40zM1127.22 488.94h5.20l-2.60 -4.40zM1127.50 488.76h5.20l-2.60 -4.40zM1127.78 488.57h5.20l-2.60 -4.40zM1128.05 488.38h5.20l-2.60 -4.40zM1128.33 488.18h5.20l-2.60 -4.40zM1128.61 487.98h5.20l-2.60 -4.40zM1128.89 487.77h5.20l-2.60 -4.40zM1129.17 487.57h5.20l-2.60 -4.40zM1129.45 487.35h5.20l-2.60 -4.40zM1129.73 487.14h5.20l-2.60 -4.40zM1130.01 486.92h5.20l-2.60 -4.40zM1130.29 486.70h5.20l-2.60 -4.40zM1130.57 486.47h5.20l-2.60 -4.40zM1130.85 486.24h5.20l-2.60 -4.40zM1131.14 486.01h5.20l-2.60 -4.40zM1131.42 485.78h5.20l-2.60 -4.40zM1131.71 485.55h5.20l-2.60 -4.40zM1131.99 485.31h5.20l-2.60 -4.40zM1132.28 485.08h5.20l-2.60 -4.40zM1132.56 484.84h5.20l-2.60 -4.40zM1132.84 484.59h5.20l-2.60 -4.40zM1133.11 484.33h5.20l-2.60 -4.40zM1133.39 484.07h5.20l-2.60 -4.40zM1133.66 483.80h5.20l-2.60 -4.40zM1133.94 483.53h5.20l-2.60 -4.40zM1134.21 483.25h5.20l-2.60 -4.40zM1134.49 482.96h5.20l-2.60 -4.40zM1134.76 482.67h5.20l-2.60 -4.40zM1135.04 482.37h5.20l-2.60 -4.40zM1135.32 482.07h5.20l-2.60 -4.40zM1135.59 481.76h5.20l-2.60 -4.40zM1135.87 481.44h5.20l-2.60 -4.40zM1136.14 481.12h5.20l-2.60 -4.40zM1136.42 480.79h5.20l-2.60 -4.40zM1136.70 480.46h5.20l-2.60 -4.40zM1136.97 480.12h5.20l-2.60 -4.40zM1137.25 479.77h5.20l-2.60 -4.40zM1137.53 479.42h5.20l-2.60 -4.40zM1137.80 479.06h5.20l-2.60 -4.40zM1138.08 478.69h5.20l-2.60 -4.40zM1138.36 478.32h5.20l-2.60 -4.40zM1138.64 477.94h5.20l-2.60 -4.40zM1138.91 477.56h5.20l-2.60 -4.40zM1139.19 477.17h5.20l-2.60 -4.40zM1139.46 476.77h5.20l-2.60 -4.40zM1139.71 476.34h5.20l-2.60 -4.40zM1139.97 475.91h5.20l-2.60 -4.40zM1140.24 475.45h5.20l-2.60 -4.40zM1140.51 474.98h5.20l-2.60 -4.40zM1140.78 474.50h5.20l-2.60 -4.40zM1141.08 474.01h5.20l-2.60 -4.40zM1141.37 473.52h5.20l-2.60 -4.40zM1141.67 473.01h5.20l-2.60 -4.40zM1141.96 472.48h5.20l-2.60 -4.40zM1142.26 471.96h5.20l-2.60 -4.40zM1142.55 471.42h5.20l-2.60 -4.40zM1142.84 470.87h5.20l-2.60 -4.40zM1143.14 470.33h5.20l-2.60 -4.40zM1143.43 469.77h5.20l-2.60 -4.40zM1143.72 469.22h5.20l-2.60 -4.40zM1144.01 468.67h5.20l-2.60 -4.40zM1144.30 468.12h5.20l-2.60 -4.40zM1144.60 467.56h5.20l-2.60 -4.40zM1144.89 466.99h5.20l-2.60 -4.40zM1145.19 466.42h5.20l-2.60 -4.40zM1145.49 465.83h5.20l-2.60 -4.40zM1145.79 465.24h5.20l-2.60 -4.40zM1146.09 464.62h5.20l-2.60 -4.40zM1146.39 463.99h5.20l-2.60 -4.40zM1146.69 463.34h5.20l-2.60 -4.40zM1146.99 462.66h5.20l-2.60 -4.40zM1147.30 461.97h5.20l-2.60 -4.40zM1147.60 461.24h5.20l-2.60 -4.40zM1147.90 460.48h5.20l-2.60 -4.40zM1148.21 459.68h5.20l-2.60 -4.40zM1148.51 458.86h5.20l-2.60 -4.40zM1148.81 458.02h5.20l-2.60 -4.40zM1149.11 457.14h5.20l-2.60 -4.40zM1149.41 456.25h5.20l-2.60 -4.40zM1149.70 455.33h5.20l-2.60 -4.40zM1150.00 454.40h5.20l-2.60 -4.40zM1150.29 453.45h5.20l-2.60 -4.40zM1150.59 452.48h5.20l-2.60 -4.40zM1150.88 451.51h5.20l-2.60 -4.40zM1151.18 450.52h5.20l-2.60 -4.40zM1151.47 449.52h5.20l-2.60 -4.40zM1151.76 448.52h5.20l-2.60 -4.40zM1152.05 447.51h5.20l-2.60 -4.40zM1152.35 446.50h5.20l-2.60 -4.40zM1152.64 445.47h5.20l-2.60 -4.40zM1152.94 444.41h5.20l-2.60 -4.40zM1153.24 443.33h5.20l-2.60 -4.40zM1153.53 442.24h5.20l-2.60 -4.40zM1153.83 441.12h5.20l-2.60 -4.40zM1154.12 439.99h5.20l-2.60 -4.40zM1154.41 438.84h5.20l-2.60 -4.40zM1154.70 437.69h5.20l-2.60 -4.40zM1155.00 436.53h5.20l-2.60 -4.40zM1155.29 435.36h5.20l-2.60 -4.40zM1155.58 434.18h5.20l-2.60 -4.40zM1155.87 433.01h5.20l-2.60 -4.40zM1156.16 431.83h5.20l-2.60 -4.40zM1156.45 430.66h5.20l-2.60 -4.40zM1156.74 429.48h5.20l-2.60 -4.40zM1157.03 428.29h5.20l-2.60 -4.40zM1157.33 427.09h5.20l-2.60 -4.40zM1157.62 425.89h5.20l-2.60 -4.40zM1157.91 424.67h5.20l-2.60 -4.40zM1158.20 423.45h5.20l-2.60 -4.40zM1158.49 422.23h5.20l-2.60 -4.40zM1158.78 420.99h5.20l-2.60 -4.40zM1159.08 419.75h5.20l-2.60 -4.40zM1159.37 418.49h5.20l-2.60 -4.40zM1159.66 417.24h5.20l-2.60 -4.40zM1159.95 415.97h5.20l-2.60 -4.40zM1160.24 414.71h5.20l-2.60 -4.40zM1160.53 413.44h5.20l-2.60 -4.40zM1160.82 412.17h5.20l-2.60 -4.40zM1161.11 410.90h5.20l-2.60 -4.40zM1161.41 409.61h5.20l-2.60 -4.40zM1161.70 408.31h5.20l-2.60 -4.40zM1162.00 407.00h5.20l-2.60 -4.40zM1162.29 405.66h5.20l-2.60 -4.40zM1162.59 404.29h5.20l-2.60 -4.40zM1162.88 402.89h5.20l-2.60 -4.40zM1163.18 401.46h5.20l-2.60 -4.40zM1163.47 400.01h5.20l-2.60 -4.40zM1163.76 398.54h5.20l-2.60 -4.40zM1164.05 397.06h5.20l-2.60 -4.40zM1164.35 395.57h5.20l-2.60 -4.40zM1164.64 394.07h5.20l-2.60 -4.40zM1164.93 392.56h5.20l-2.60 -4.40zM1165.22 391.04h5.20l-2.60 -4.40zM1165.51 389.50h5.20l-2.60 -4.40zM1165.80 387.96h5.20l-2.60 -4.40zM1166.10 386.41h5.20l-2.60 -4.40zM1166.39 384.85h5.20l-2.60 -4.40zM1166.68 383.27h5.20l-2.60 -4.40zM1166.97 381.69h5.20l-2.60 -4.40zM1167.26 380.10h5.20l-2.60 -4.40zM1167.55 378.50h5.20l-2.60 -4.40zM1167.84 376.89h5.20l-2.60 -4.40zM1168.14 375.27h5.20l-2.60 -4.40zM1168.43 373.64h5.20l-2.60 -4.40zM1168.72 372.00h5.20l-2.60 -4.40zM1169.01 370.36h5.20l-2.60 -4.40zM1169.30 368.70h5.20l-2.60 -4.40zM1169.59 367.04h5.20l-2.60 -4.40zM1169.88 365.36h5.20l-2.60 -4.40zM1170.17 363.68h5.20l-2.60 -4.40zM1170.47 361.99h5.20l-2.60 -4.40zM1170.76 360.30h5.20l-2.60 -4.40zM1171.05 358.59h5.20l-2.60 -4.40zM1171.34 356.88h5.20l-2.60 -4.40zM1171.63 355.16h5.20l-2.60 -4.40zM1171.92 353.43h5.20l-2.60 -4.40zM1172.21 351.70h5.20l-2.60 -4.40zM1172.50 349.95h5.20l-2.60 -4.40zM1172.79 348.20h5.20l-2.60 -4.40zM1173.08 346.45h5.20l-2.60 -4.40zM1173.38 344.68h5.20l-2.60 -4.40zM1173.67 342.91h5.20l-2.60 -4.40zM1173.96 341.13h5.20l-2.60 -4.40zM1174.25 339.35h5.20l-2.60 -4.40zM1174.54 337.56h5.20l-2.60 -4.40zM1174.83 335.76h5.20l-2.60 -4.40zM1175.12 333.96h5.20l-2.60 -4.40zM1175.41 332.15h5.20l-2.60 -4.40zM1175.70 330.34h5.20l-2.60 -4.40zM1175.99 328.52h5.20l-2.60 -4.40zM1176.28 326.69h5.20l-2.60 -4.40zM1176.57 324.86h5.20l-2.60 -4.40zM1176.86 323.02h5.20l-2.60 -4.40zM1177.16 321.18h5.20l-2.60 -4.40zM1177.45 319.33h5.20l-2.60 -4.40zM1177.74 317.48h5.20l-2.60 -4.40zM1178.03 315.62h5.20l-2.60 -4.40zM1178.32 313.76h5.20l-2.60 -4.40zM1178.61 311.90h5.20l-2.60 -4.40zM1178.90 310.03h5.20l-2.60 -4.40zM1179.19 308.15h5.20l-2.60 -4.40zM1179.48 306.27h5.20l-2.60 -4.40zM1179.77 304.39h5.20l-2.60 -4.40zM1180.06 302.50h5.20l-2.60 -4.40zM1180.35 300.61h5.20l-2.60 -4.40zM1180.64 298.71h5.20l-2.60 -4.40zM1180.93 296.82h5.20l-2.60 -4.40zM1181.22 294.91h5.20l-2.60 -4.40zM1181.51 293.01h5.20l-2.60 -4.40zM1181.80 291.10h5.20l-2.60 -4.40zM1182.09 289.19h5.20l-2.60 -4.40zM1182.38 287.27h5.20l-2.60 -4.40zM1182.67 285.36h5.20l-2.60 -4.40zM1182.96 283.44h5.20l-2.60 -4.40zM1183.25 281.51h5.20l-2.60 -4.40zM1183.55 279.57h5.20l-2.60 -4.40zM1183.84 277.60h5.20l-2.60 -4.40zM1184.13 275.60h5.20l-2.60 -4.40zM1184.43 273.57h5.20l-2.60 -4.40zM1184.72 271.52h5.20l-2.60 -4.40zM1185.01 269.45h5.20l-2.60 -4.40zM1185.30 267.36h5.20l-2.60 -4.40zM1185.59 265.26h5.20l-2.60 -4.40zM1185.88 263.14h5.20l-2.60 -4.40zM1186.17 261.02h5.20l-2.60 -4.40zM1186.46 258.90h5.20l-2.60 -4.40zM1186.75 256.77h5.20l-2.60 -4.40zM1187.04 254.64h5.20l-2.60 -4.40zM1187.33 252.52h5.20l-2.60 -4.40zM1187.62 250.41h5.20l-2.60 -4.40zM1187.91 248.31h5.20l-2.60 -4.40zM1188.20 246.23h5.20l-2.60 -4.40zM1188.49 244.16h5.20l-2.60 -4.40zM1188.78 242.11h5.20l-2.60 -4.40zM1189.07 240.08h5.20l-2.60 -4.40zM1189.36 238.04h5.20l-2.60 -4.40zM1189.65 236.00h5.20l-2.60 -4.40zM1189.93 233.97h5.20l-2.60 -4.40zM1190.22 231.94h5.20l-2.60 -4.40zM1190.51 229.91h5.20l-2.60 -4.40zM1190.80 227.90h5.20l-2.60 -4.40zM1191.09 225.88h5.20l-2.60 -4.40zM1191.38 223.88h5.20l-2.60 -4.40zM1191.67 221.88h5.20l-2.60 -4.40zM1191.96 219.90h5.20l-2.60 -4.40zM1192.25 217.93h5.20l-2.60 -4.40zM1192.54 215.97h5.20l-2.60 -4.40zM1192.83 214.02h5.20l-2.60 -4.40zM1193.11 212.09h5.20l-2.60 -4.40zM1193.40 210.18h5.20l-2.60 -4.40zM1193.69 208.27h5.20l-2.60 -4.40zM1193.98 206.37h5.20l-2.60 -4.40zM1194.27 204.48h5.20l-2.60 -4.40zM1194.56 202.60h5.20l-2.60 -4.40zM1194.85 200.73h5.20l-2.60 -4.40zM1195.14 198.87h5.20l-2.60 -4.40zM1195.43 197.01h5.20l-2.60 -4.40zM1195.71 195.17h5.20l-2.60 -4.40zM1196.00 193.33h5.20l-2.60 -4.40zM1196.29 191.51h5.20l-2.60 -4.40zM1196.58 189.69h5.20l-2.60 -4.40zM1196.87 187.89h5.20l-2.60 -4.40zM1197.16 186.09h5.20l-2.60 -4.40zM1197.45 184.31h5.20l-2.60 -4.40zM1197.74 182.54h5.20l-2.60 -4.40zM1198.02 180.78h5.20l-2.60 -4.40zM1198.31 179.03h5.20l-2.60 -4.40zM1198.60 177.30h5.20l-2.60 -4.40zM1198.89 175.58h5.20l-2.60 -4.40zM1199.18 173.87h5.20l-2.60 -4.40zM1199.46 172.18h5.20l-2.60 -4.40zM1199.75 170.50h5.20l-2.60 -4.40zM1200.04 168.84h5.20l-2.60 -4.40zM1200.33 167.18h5.20l-2.60 -4.40zM1200.62 165.54h5.20l-2.60 -4.40zM1200.91 163.91h5.20l-2.60 -4.40zM1201.20 162.29h5.20l-2.60 -4.40zM1201.48 160.67h5.20l-2.60 -4.40zM1201.77 159.06h5.20l-2.60 -4.40zM1202.06 157.46h5.20l-2.60 -4.40zM1202.35 155.87h5.20l-2.60 -4.40zM1202.64 154.29h5.20l-2.60 -4.40zM1202.93 152.72h5.20l-2.60 -4.40zM1203.21 151.18h5.20l-2.60 -4.40zM1203.50 149.66h5.20l-2.60 -4.40zM1203.78 148.16h5.20l-2.60 -4.40zM1204.07 146.70h5.20l-2.60 -4.40zM1204.36 145.23h5.20l-2.60 -4.40zM1204.65 143.76h5.20l-2.60 -4.40zM1204.94 142.30h5.20l-2.60 -4.40zM1205.23 140.85h5.20l-2.60 -4.40zM1205.51 139.42h5.20l-2.60 -4.40zM1205.79 138.02h5.20l-2.60 -4.40zM1206.08 136.66h5.20l-2.60 -4.40zM1206.36 135.34h5.20l-2.60 -4.40zM1206.63 134.07h5.20l-2.60 -4.40zM1206.91 132.86h5.20l-2.60 -4.40zM1207.18 131.72h5.20l-2.60 -4.40zM1207.47 130.61h5.20l-2.60 -4.40zM1207.76 129.52h5.20l-2.60 -4.40zM1208.04 128.43h5.20l-2.60 -4.40zM1208.33 127.36h5.20l-2.60 -4.40zM1208.61 126.31h5.20l-2.60 -4.40zM1208.89 125.28h5.20l-2.60 -4.40zM1209.17 124.28h5.20l-2.60 -4.40zM1209.45 123.31h5.20l-2.60 -4.40zM1209.72 122.37h5.20l-2.60 -4.40zM1210.00 121.48h5.20l-2.60 -4.40zM1210.27 120.62h5.20l-2.60 -4.40zM1210.53 119.81h5.20l-2.60 -4.40zM1210.79 119.05h5.20l-2.60 -4.40zM1211.05 118.35h5.20l-2.60 -4.40zM1211.31 117.69h5.20l-2.60 -4.40zM1211.58 117.11h5.20l-2.60 -4.40zM1211.87 116.55h5.20l-2.60 -4.40zM1212.16 115.99h5.20l-2.60 -4.40zM1212.45 115.44h5.20l-2.60 -4.40zM1212.73 114.88h5.20l-2.60 -4.40zM1213.01 114.33h5.20l-2.60 -4.40zM1213.30 113.79h5.20l-2.60 -4.40zM1213.58 113.27h5.20l-2.60 -4.40zM1213.87 112.76h5.20l-2.60 -4.40zM1214.19 112.29h5.20l-2.60 -4.40zM1214.52 111.84h5.20l-2.60 -4.40zM1214.85 111.43h5.20l-2.60 -4.40zM1215.20 111.04h5.20l-2.60 -4.40zM1215.55 110.70h5.20l-2.60 -4.40zM1215.92 110.41h5.20l-2.60 -4.40zM1216.30 110.18h5.20l-2.60 -4.40zM1216.69 110.01h5.20l-2.60 -4.40zM1217.08 109.93h5.20l-2.60 -4.40zM1217.46 109.96h5.20l-2.60 -4.40zM1217.79 110.08h5.20l-2.60 -4.40zM1218.02 110.31h5.20l-2.60 -4.40zM1218.18 110.16h5.20l-2.60 -4.40zM1218.52 109.87h5.20l-2.60 -4.40zM1218.97 109.80h5.20l-2.60 -4.40zM1219.43 109.93h5.20l-2.60 -4.40zM1219.86 110.20h5.20l-2.60 -4.40zM1220.25 110.56h5.20l-2.60 -4.40zM1220.63 111.00h5.20l-2.60 -4.40zM1220.92 111.53h5.20l-2.60 -4.40zM1221.19 112.11h5.20l-2.60 -4.40zM1221.46 112.71h5.20l-2.60 -4.40zM1221.73 113.34h5.20l-2.60 -4.40zM1222.01 113.99h5.20l-2.60 -4.40zM1222.29 114.66h5.20l-2.60 -4.40zM1222.58 115.33h5.20l-2.60 -4.40zM1222.86 116.00h5.20l-2.60 -4.40zM1223.16 116.67h5.20l-2.60 -4.40zM1223.45 117.33h5.20l-2.60 -4.40zM1223.72 118.02h5.20l-2.60 -4.40zM1223.98 118.78h5.20l-2.60 -4.40zM1224.24 119.60h5.20l-2.60 -4.40zM1224.51 120.48h5.20l-2.60 -4.40zM1224.78 121.40h5.20l-2.60 -4.40zM1225.05 122.36h5.20l-2.60 -4.40zM1225.33 123.37h5.20l-2.60 -4.40zM1225.61 124.41h5.20l-2.60 -4.40zM1225.89 125.48h5.20l-2.60 -4.40zM1226.17 126.58h5.20l-2.60 -4.40zM1226.46 127.70h5.20l-2.60 -4.40zM1226.74 128.83h5.20l-2.60 -4.40zM1227.03 129.98h5.20l-2.60 -4.40zM1227.32 131.12h5.20l-2.60 -4.40zM1227.60 132.28h5.20l-2.60 -4.40zM1227.89 133.46h5.20l-2.60 -4.40zM1228.17 134.67h5.20l-2.60 -4.40zM1228.45 135.93h5.20l-2.60 -4.40zM1228.73 137.21h5.20l-2.60 -4.40zM1229.01 138.53h5.20l-2.60 -4.40zM1229.30 139.89h5.20l-2.60 -4.40zM1229.58 141.28h5.20l-2.60 -4.40zM1229.86 142.71h5.20l-2.60 -4.40zM1230.15 144.17h5.20l-2.60 -4.40zM1230.43 145.67h5.20l-2.60 -4.40zM1230.71 147.21h5.20l-2.60 -4.40zM1230.99 148.82h5.20l-2.60 -4.40zM1231.27 150.50h5.20l-2.60 -4.40zM1231.55 152.26h5.20l-2.60 -4.40zM1231.84 154.07h5.20l-2.60 -4.40zM1232.12 155.92h5.20l-2.60 -4.40zM1232.41 157.80h5.20l-2.60 -4.40zM1232.70 159.68h5.20l-2.60 -4.40zM1232.99 161.56h5.20l-2.60 -4.40zM1233.28 163.43h5.20l-2.60 -4.40zM1233.57 165.31h5.20l-2.60 -4.40zM1233.86 167.21h5.20l-2.60 -4.40zM1234.15 169.12h5.20l-2.60 -4.40zM1234.43 171.06h5.20l-2.60 -4.40zM1234.72 173.01h5.20l-2.60 -4.40zM1235.01 174.99h5.20l-2.60 -4.40zM1235.30 176.98h5.20l-2.60 -4.40zM1235.59 179.01h5.20l-2.60 -4.40zM1235.87 181.05h5.20l-2.60 -4.40zM1236.16 183.11h5.20l-2.60 -4.40zM1236.45 185.20h5.20l-2.60 -4.40zM1236.74 187.29h5.20l-2.60 -4.40zM1237.03 189.41h5.20l-2.60 -4.40zM1237.32 191.54h5.20l-2.60 -4.40zM1237.60 193.69h5.20l-2.60 -4.40zM1237.89 195.86h5.20l-2.60 -4.40zM1238.18 198.04h5.20l-2.60 -4.40zM1238.47 200.24h5.20l-2.60 -4.40zM1238.76 202.45h5.20l-2.60 -4.40zM1239.05 204.69h5.20l-2.60 -4.40zM1239.34 206.93h5.20l-2.60 -4.40zM1239.62 209.20h5.20l-2.60 -4.40zM1239.91 211.48h5.20l-2.60 -4.40zM1240.20 213.78h5.20l-2.60 -4.40zM1240.49 216.11h5.20l-2.60 -4.40zM1240.78 218.46h5.20l-2.60 -4.40zM1241.07 220.84h5.20l-2.60 -4.40zM1241.35 223.24h5.20l-2.60 -4.40zM1241.64 225.65h5.20l-2.60 -4.40zM1241.93 228.09h5.20l-2.60 -4.40zM1242.22 230.53h5.20l-2.60 -4.40zM1242.51 233.00h5.20l-2.60 -4.40zM1242.80 235.47h5.20l-2.60 -4.40zM1243.09 237.95h5.20l-2.60 -4.40zM1243.38 240.44h5.20l-2.60 -4.40zM1243.67 242.93h5.20l-2.60 -4.40zM1243.96 245.45h5.20l-2.60 -4.40zM1244.24 248.00h5.20l-2.60 -4.40zM1244.53 250.58h5.20l-2.60 -4.40zM1244.82 253.17h5.20l-2.60 -4.40zM1245.11 255.78h5.20l-2.60 -4.40zM1245.40 258.40h5.20l-2.60 -4.40zM1245.69 261.03h5.20l-2.60 -4.40zM1245.98 263.66h5.20l-2.60 -4.40zM1246.27 266.28h5.20l-2.60 -4.40zM1246.56 268.89h5.20l-2.60 -4.40zM1246.85 271.48h5.20l-2.60 -4.40zM1247.14 274.05h5.20l-2.60 -4.40zM1247.44 276.60h5.20l-2.60 -4.40zM1247.73 279.12h5.20l-2.60 -4.40zM1248.02 281.60h5.20l-2.60 -4.40zM1248.31 284.07h5.20l-2.60 -4.40zM1248.60 286.54h5.20l-2.60 -4.40zM1248.89 289.01h5.20l-2.60 -4.40zM1249.18 291.48h5.20l-2.60 -4.40zM1249.47 293.94h5.20l-2.60 -4.40zM1249.76 296.41h5.20l-2.60 -4.40zM1250.05 298.87h5.20l-2.60 -4.40zM1250.34 301.33h5.20l-2.60 -4.40zM1250.63 303.79h5.20l-2.60 -4.40zM1250.92 306.25h5.20l-2.60 -4.40zM1251.21 308.70h5.20l-2.60 -4.40zM1251.50 311.14h5.20l-2.60 -4.40zM1251.79 313.58h5.20l-2.60 -4.40zM1252.08 316.02h5.20l-2.60 -4.40zM1252.37 318.44h5.20l-2.60 -4.40zM1252.66 320.87h5.20l-2.60 -4.40zM1252.95 323.28h5.20l-2.60 -4.40zM1253.24 325.69h5.20l-2.60 -4.40zM1253.54 328.08h5.20l-2.60 -4.40zM1253.83 330.47h5.20l-2.60 -4.40zM1254.12 332.85h5.20l-2.60 -4.40zM1254.41 335.22h5.20l-2.60 -4.40zM1254.70 337.58h5.20l-2.60 -4.40zM1254.99 339.93h5.20l-2.60 -4.40zM1255.28 342.26h5.20l-2.60 -4.40zM1255.57 344.59h5.20l-2.60 -4.40zM1255.86 346.90h5.20l-2.60 -4.40zM1256.15 349.20h5.20l-2.60 -4.40zM1256.44 351.48h5.20l-2.60 -4.40zM1256.73 353.75h5.20l-2.60 -4.40zM1257.03 356.01h5.20l-2.60 -4.40zM1257.32 358.25h5.20l-2.60 -4.40zM1257.61 360.47h5.20l-2.60 -4.40zM1257.90 362.68h5.20l-2.60 -4.40zM1258.19 364.87h5.20l-2.60 -4.40zM1258.48 367.05h5.20l-2.60 -4.40zM1258.77 369.20h5.20l-2.60 -4.40zM1259.07 371.34h5.20l-2.60 -4.40zM1259.36 373.46h5.20l-2.60 -4.40zM1259.65 375.56h5.20l-2.60 -4.40zM1259.94 377.63h5.20l-2.60 -4.40zM1260.23 379.69h5.20l-2.60 -4.40zM1260.53 381.73h5.20l-2.60 -4.40zM1260.82 383.72h5.20l-2.60 -4.40zM1261.12 385.66h5.20l-2.60 -4.40zM1261.41 387.57h5.20l-2.60 -4.40zM1261.70 389.43h5.20l-2.60 -4.40zM1262.00 391.28h5.20l-2.60 -4.40zM1262.29 393.10h5.20l-2.60 -4.40zM1262.58 394.91h5.20l-2.60 -4.40zM1262.87 396.71h5.20l-2.60 -4.40zM1263.16 398.51h5.20l-2.60 -4.40zM1263.45 400.29h5.20l-2.60 -4.40zM1263.75 402.06h5.20l-2.60 -4.40zM1264.04 403.81h5.20l-2.60 -4.40zM1264.33 405.54h5.20l-2.60 -4.40zM1264.62 407.26h5.20l-2.60 -4.40zM1264.91 408.96h5.20l-2.60 -4.40zM1265.21 410.65h5.20l-2.60 -4.40zM1265.50 412.32h5.20l-2.60 -4.40zM1265.79 413.98h5.20l-2.60 -4.40zM1266.08 415.62h5.20l-2.60 -4.40zM1266.37 417.25h5.20l-2.60 -4.40zM1266.67 418.87h5.20l-2.60 -4.40zM1266.96 420.47h5.20l-2.60 -4.40zM1267.25 422.06h5.20l-2.60 -4.40zM1267.54 423.63h5.20l-2.60 -4.40zM1267.83 425.19h5.20l-2.60 -4.40zM1268.13 426.74h5.20l-2.60 -4.40zM1268.42 428.28h5.20l-2.60 -4.40zM1268.71 429.82h5.20l-2.60 -4.40zM1269.00 431.35h5.20l-2.60 -4.40zM1269.29 432.88h5.20l-2.60 -4.40zM1269.58 434.39h5.20l-2.60 -4.40zM1269.88 435.88h5.20l-2.60 -4.40zM1270.17 437.35h5.20l-2.60 -4.40zM1270.47 438.78h5.20l-2.60 -4.40zM1270.76 440.19h5.20l-2.60 -4.40zM1271.06 441.56h5.20l-2.60 -4.40zM1271.36 442.90h5.20l-2.60 -4.40zM1271.65 444.22h5.20l-2.60 -4.40zM1271.94 445.53h5.20l-2.60 -4.40zM1272.24 446.82h5.20l-2.60 -4.40zM1272.53 448.09h5.20l-2.60 -4.40zM1272.82 449.35h5.20l-2.60 -4.40zM1273.12 450.58h5.20l-2.60 -4.40zM1273.42 451.78h5.20l-2.60 -4.40zM1273.71 452.96h5.20l-2.60 -4.40zM1274.01 454.10h5.20l-2.60 -4.40zM1274.31 455.21h5.20l-2.60 -4.40zM1274.61 456.29h5.20l-2.60 -4.40zM1274.91 457.33h5.20l-2.60 -4.40zM1275.21 458.35h5.20l-2.60 -4.40zM1275.50 459.35h5.20l-2.60 -4.40zM1275.80 460.33h5.20l-2.60 -4.40zM1276.10 461.30h5.20l-2.60 -4.40zM1276.39 462.24h5.20l-2.60 -4.40zM1276.69 463.17h5.20l-2.60 -4.40zM1276.99 464.09h5.20l-2.60 -4.40zM1277.28 464.98h5.20l-2.60 -4.40zM1277.58 465.86h5.20l-2.60 -4.40zM1277.88 466.72h5.20l-2.60 -4.40zM1278.17 467.56h5.20l-2.60 -4.40zM1278.47 468.39h5.20l-2.60 -4.40zM1278.77 469.20h5.20l-2.60 -4.40zM1279.06 469.99h5.20l-2.60 -4.40zM1279.36 470.77h5.20l-2.60 -4.40zM1279.66 471.53h5.20l-2.60 -4.40zM1279.96 472.27h5.20l-2.60 -4.40zM1280.25 473.00h5.20l-2.60 -4.40zM1280.55 473.72h5.20l-2.60 -4.40zM1280.85 474.43h5.20l-2.60 -4.40zM1281.14 475.12h5.20l-2.60 -4.40zM1281.44 475.80h5.20l-2.60 -4.40zM1281.74 476.46h5.20l-2.60 -4.40zM1282.04 477.11h5.20l-2.60 -4.40zM1282.33 477.74h5.20l-2.60 -4.40zM1282.63 478.36h5.20l-2.60 -4.40zM1282.93 478.96h5.20l-2.60 -4.40zM1283.23 479.54h5.20l-2.60 -4.40zM1283.53 480.10h5.20l-2.60 -4.40zM1283.84 480.64h5.20l-2.60 -4.40zM1284.13 481.17h5.20l-2.60 -4.40zM1284.43 481.69h5.20l-2.60 -4.40zM1284.73 482.20h5.20l-2.60 -4.40zM1285.02 482.71h5.20l-2.60 -4.40zM1285.32 483.20h5.20l-2.60 -4.40zM1285.61 483.69h5.20l-2.60 -4.40zM1285.89 484.18h5.20l-2.60 -4.40zM1286.17 484.66h5.20l-2.60 -4.40zM1286.45 485.13h5.20l-2.60 -4.40zM1286.72 485.59h5.20l-2.60 -4.40zM1287.00 486.05h5.20l-2.60 -4.40zM1287.27 486.49h5.20l-2.60 -4.40zM1287.55 486.92h5.20l-2.60 -4.40zM1287.82 487.35h5.20l-2.60 -4.40zM1288.09 487.76h5.20l-2.60 -4.40zM1288.36 488.16h5.20l-2.60 -4.40zM1288.63 488.55h5.20l-2.60 -4.40zM1288.90 488.93h5.20l-2.60 -4.40zM1289.16 489.30h5.20l-2.60 -4.40zM1289.43 489.66h5.20l-2.60 -4.40zM1289.69 490.01h5.20l-2.60 -4.40zM1289.95 490.34h5.20l-2.60 -4.40zM1290.21 490.67h5.20l-2.60 -4.40zM1290.48 490.98h5.20l-2.60 -4.40zM1290.74 491.28h5.20l-2.60 -4.40zM1291.02 491.56h5.20l-2.60 -4.40zM1291.29 491.84h5.20l-2.60 -4.40zM1291.57 492.12h5.20l-2.60 -4.40zM1291.85 492.38h5.20l-2.60 -4.40zM1292.14 492.64h5.20l-2.60 -4.40zM1292.42 492.90h5.20l-2.60 -4.40zM1292.72 493.15h5.20l-2.60 -4.40zM1293.01 493.41h5.20l-2.60 -4.40zM1293.30 493.67h5.20l-2.60 -4.40zM1293.59 493.92h5.20l-2.60 -4.40zM1293.88 494.18h5.20l-2.60 -4.40zM1294.17 494.44h5.20l-2.60 -4.40zM1294.45 494.70h5.20l-2.60 -4.40zM1294.73 494.96h5.20l-2.60 -4.40zM1295.01 495.22h5.20l-2.60 -4.40zM1295.29 495.47h5.20l-2.60 -4.40zM1295.57 495.72h5.20l-2.60 -4.40zM1295.85 495.96h5.20l-2.60 -4.40zM1296.12 496.21h5.20l-2.60 -4.40zM1296.39 496.44h5.20l-2.60 -4.40zM1296.66 496.68h5.20l-2.60 -4.40zM1296.93 496.90h5.20l-2.60 -4.40zM1297.20 497.13h5.20l-2.60 -4.40zM1297.48 497.33h5.20l-2.60 -4.40zM1297.76 497.52h5.20l-2.60 -4.40zM1298.04 497.71h5.20l-2.60 -4.40zM1298.33 497.89h5.20l-2.60 -4.40zM1298.61 498.07h5.20l-2.60 -4.40zM1298.89 498.25h5.20l-2.60 -4.40zM1299.18 498.43h5.20l-2.60 -4.40zM1299.46 498.60h5.20l-2.60 -4.40zM1299.74 498.77h5.20l-2.60 -4.40zM1300.02 498.94h5.20l-2.60 -4.40zM1300.31 499.10h5.20l-2.60 -4.40zM1300.59 499.26h5.20l-2.60 -4.40zM1300.87 499.42h5.20l-2.60 -4.40zM1301.15 499.57h5.20l-2.60 -4.40zM1301.44 499.72h5.20l-2.60 -4.40zM1301.72 499.87h5.20l-2.60 -4.40zM1302.00 500.01h5.20l-2.60 -4.40zM1302.29 500.15h5.20l-2.60 -4.40zM1302.57 500.28h5.20l-2.60 -4.40zM1302.86 500.39h5.20l-2.60 -4.40zM1303.15 500.50h5.20l-2.60 -4.40zM1303.44 500.60h5.20l-2.60 -4.40zM1303.73 500.70h5.20l-2.60 -4.40zM1304.02 500.79h5.20l-2.60 -4.40zM1304.31 500.89h5.20l-2.60 -4.40zM1304.59 500.98h5.20l-2.60 -4.40zM1304.88 501.08h5.20l-2.60 -4.40zM1305.17 501.17h5.20l-2.60 -4.40zM1305.46 501.26h5.20l-2.60 -4.40zM1305.75 501.34h5.20l-2.60 -4.40zM1306.04 501.43h5.20l-2.60 -4.40zM1306.33 501.51h5.20l-2.60 -4.40zM1306.63 501.59h5.20l-2.60 -4.40zM1306.92 501.67h5.20l-2.60 -4.40zM1307.21 501.75h5.20l-2.60 -4.40zM1307.50 501.82h5.20l-2.60 -4.40zM1307.79 501.89h5.20l-2.60 -4.40zM1308.08 501.96h5.20l-2.60 -4.40zM1308.38 502.03h5.20l-2.60 -4.40zM1308.67 502.09h5.20l-2.60 -4.40zM1308.96 502.15h5.20l-2.60 -4.40zM1309.26 502.20h5.20l-2.60 -4.40zM1309.55 502.25h5.20l-2.60 -4.40zM1309.84 502.29h5.20l-2.60 -4.40zM1310.13 502.33h5.20l-2.60 -4.40zM1310.42 502.37h5.20l-2.60 -4.40zM1310.71 502.41h5.20l-2.60 -4.40zM1311.00 502.45h5.20l-2.60 -4.40zM1311.29 502.49h5.20l-2.60 -4.40zM1311.58 502.52h5.20l-2.60 -4.40zM1311.88 502.56h5.20l-2.60 -4.40zM1312.17 502.60h5.20l-2.60 -4.40zM1312.46 502.64h5.20l-2.60 -4.40zM1312.75 502.67h5.20l-2.60 -4.40zM1313.04 502.71h5.20l-2.60 -4.40zM1313.34 502.74h5.20l-2.60 -4.40zM1313.63 502.77h5.20l-2.60 -4.40zM1313.92 502.80h5.20l-2.60 -4.40zM1314.22 502.83h5.20l-2.60 -4.40zM1314.51 502.86h5.20l-2.60 -4.40zM1314.81 502.89h5.20l-2.60 -4.40zM1315.10 502.91h5.20l-2.60 -4.40zM1315.40 502.93h5.20l-2.60 -4.40zM1315.69 502.96h5.20l-2.60 -4.40zM1315.99 502.97h5.20l-2.60 -4.40zM1316.28 502.98h5.20l-2.60 -4.40zM1316.57 502.99h5.20l-2.60 -4.40zM1316.86 502.99h5.20l-2.60 -4.40zM1317.15 503.00h5.20l-2.60 -4.40zM1317.44 503.00h5.20l-2.60 -4.40zM1317.73 503.01h5.20l-2.60 -4.40zM1318.02 503.01h5.20l-2.60 -4.40zM1318.31 503.01h5.20l-2.60 -4.40zM1318.60 503.02h5.20l-2.60 -4.40zM1318.89 503.02h5.20l-2.60 -4.40zM1319.18 503.03h5.20l-2.60 -4.40zM1319.47 503.03h5.20l-2.60 -4.40zM1319.76 503.03h5.20l-2.60 -4.40zM1320.05 503.03h5.20l-2.60 -4.40zM1320.34 503.04h5.20l-2.60 -4.40zM1320.63 503.04h5.20l-2.60 -4.40zM1320.92 503.04h5.20l-2.60 -4.40zM1321.22 503.04h5.20l-2.60 -4.40zM1321.51 503.05h5.20l-2.60 -4.40zM1321.80 503.05h5.20l-2.60 -4.40zM1322.09 503.05h5.20l-2.60 -4.40zM1322.38 503.05h5.20l-2.60 -4.40zM1322.67 503.05h5.20l-2.60 -4.40zM1322.96 503.06h5.20l-2.60 -4.40zM1323.25 503.06h5.20l-2.60 -4.40zM1323.54 503.06h5.20l-2.60 -4.40zM1323.83 503.06h5.20l-2.60 -4.40zM1324.12 503.06h5.20l-2.60 -4.40zM1324.41 503.06h5.20l-2.60 -4.40zM1324.70 503.07h5.20l-2.60 -4.40zM1324.99 503.07h5.20l-2.60 -4.40zM1325.28 503.07h5.20l-2.60 -4.40zM1325.57 503.07h5.20l-2.60 -4.40zM1325.86 503.07h5.20l-2.60 -4.40zM1326.15 503.07h5.20l-2.60 -4.40zM1326.44 503.07h5.20l-2.60 -4.40zM1326.73 503.08h5.20l-2.60 -4.40zM1327.02 503.08h5.20l-2.60 -4.40zM1327.31 503.08h5.20l-2.60 -4.40zM1327.60 503.08h5.20l-2.60 -4.40zM1327.89 503.08h5.20l-2.60 -4.40zM1328.18 503.08h5.20l-2.60 -4.40zM1328.47 503.08h5.20l-2.60 -4.40zM1328.75 503.09h5.20l-2.60 -4.40zM1329.04 503.09h5.20l-2.60 -4.40zM1329.33 503.09h5.20l-2.60 -4.40zM1329.62 503.09h5.20l-2.60 -4.40zM1329.91 503.09h5.20l-2.60 -4.40zM1330.20 503.10h5.20l-2.60 -4.40zM1330.49 503.10h5.20l-2.60 -4.40zM1330.78 503.10h5.20l-2.60 -4.40zM1331.07 503.10h5.20l-2.60 -4.40zM1331.36 503.11h5.20l-2.60 -4.40zM1331.65 503.11h5.20l-2.60 -4.40zM1331.94 503.11h5.20l-2.60 -4.40zM1332.23 503.11h5.20l-2.60 -4.40zM1332.52 503.11h5.20l-2.60 -4.40zM1332.81 503.12h5.20l-2.60 -4.40zM1333.10 503.12h5.20l-2.60 -4.40zM1333.39 503.12h5.20l-2.60 -4.40zM1333.68 503.12h5.20l-2.60 -4.40zM1333.97 503.13h5.20l-2.60 -4.40zM1334.26 503.13h5.20l-2.60 -4.40zM1334.55 503.13h5.20l-2.60 -4.40zM1334.84 503.13h5.20l-2.60 -4.40zM1335.13 503.13h5.20l-2.60 -4.40zM1335.42 503.14h5.20l-2.60 -4.40zM1335.71 503.14h5.20l-2.60 -4.40zM1336.00 503.14h5.20l-2.60 -4.40zM1336.29 503.14h5.20l-2.60 -4.40zM1336.58 503.15h5.20l-2.60 -4.40zM1336.87 503.15h5.20l-2.60 -4.40zM1337.16 503.15h5.20l-2.60 -4.40zM1337.45 503.15h5.20l-2.60 -4.40zM1337.74 503.16h5.20l-2.60 -4.40zM1338.03 503.16h5.20l-2.60 -4.40zM1338.32 503.16h5.20l-2.60 -4.40zM1338.61 503.16h5.20l-2.60 -4.40zM1338.90 503.16h5.20l-2.60 -4.40zM1339.19 503.17h5.20l-2.60 -4.40zM1339.48 503.17h5.20l-2.60 -4.40zM1339.77 503.17h5.20l-2.60 -4.40zM1340.06 503.17h5.20l-2.60 -4.40zM1340.35 503.18h5.20l-2.60 -4.40zM1340.64 503.18h5.20l-2.60 -4.40zM1340.93 503.18h5.20l-2.60 -4.40zM1341.22 503.18h5.20l-2.60 -4.40zM1341.51 503.19h5.20l-2.60 -4.40zM1341.80 503.19h5.20l-2.60 -4.40zM1341.99 503.19h5.20l-2.60 -4.40z" fill="#ff00ff" stroke="none"/>
<rect x="202.5" y="69.2" width="144.0" height="103.2" fill="#fff" stroke="#3c3c3c" stroke-width="1"/>
<line x1="206.50" y1="87.80" x2="267.00" y2="87.80" stroke="#000000" stroke-width="1"/>
<rect x="234.90" y="86.20" width="3.2" height="3.2" fill="#000000"/>
<text x="274.20" y="96.00" font-size="26.5">Zn 12</text>
<line x1="206.50" y1="121.00" x2="267.00" y2="121.00" stroke="#ff0000" stroke-width="1"/>
<circle cx="236.50" cy="121.00" r="1.8" fill="#ff0000"/>
<text x="274.20" y="129.20" font-size="26.5">Zn 24</text>
<line x1="206.50" y1="154.20" x2="267.00" y2="154.20" stroke="#0000ff" stroke-width="1"/>
<path d="M234.30 155.80L238.70 155.80L236.50 151.80Z" fill="#0000ff"/>
<text x="274.20" y="162.40" font-size="26.5">Zn 36</text>
<rect x="903.5" y="67.3" width="152.2" height="103.8" fill="#fff" stroke="#3c3c3c" stroke-width="1"/>
<line x1="907.50" y1="86.30" x2="968.00" y2="86.30" stroke="#0000ff" stroke-width="1"/>
<rect x="935.90" y="84.70" width="3.2" height="3.2" fill="#0000ff"/>
<text x="975.50" y="95.00" font-size="26.5">Zn 36</text>
<line x1="907.50" y1="119.50" x2="968.00" y2="119.50" stroke="#00ff00" stroke-width="1"/>
<circle cx="937.50" cy="119.50" r="1.8" fill="#00ff00"/>
<text x="975.50" y="128.20" font-size="26.5">Zn 72</text>
<line x1="907.50" y1="152.70" x2="968.00" y2="152.70" stroke="#ff00ff" stroke-width="1"/>
<path d="M935.30 154.30L939.70 154.30L937.50 150.30Z" fill="#ff00ff"/>
<text x="975.50" y="161.40" font-size="26.5">Zn108</text>
<text transform="translate(629.8 639.2) scale(0.955 1)" x="-2.27 38.97 64.41 88.46 116.94 127.99 153.25 181.15 209.58 225.79 240.10 261.87 278.69 306.61 346.85" y="0" font-size="47.7" fill="#2b2623" stroke="#2b2623" stroke-width="0.65">Wavelength (nm)</text>
<text transform="translate(57.2 400.8) rotate(-90) scale(0.955 1)" x="-2.02 29.97 55.66 77.78 105.90 121.80 151.09 167.75 179.98 207.43" y="0" font-size="47.7" fill="#2b2623" stroke="#2b2623" stroke-width="0.65">Absorption</text>
</svg>
</body>
</html>
